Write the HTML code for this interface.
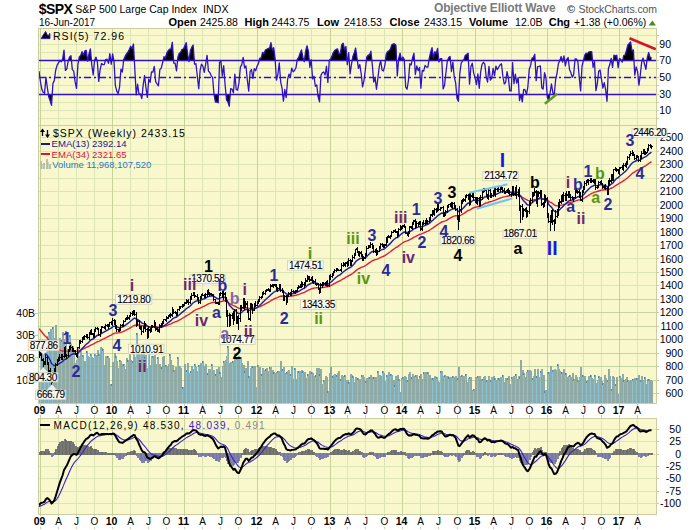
<!DOCTYPE html>
<html><head><meta charset="utf-8">
<style>
html,body{margin:0;padding:0;background:#fff;width:700px;height:530px;overflow:hidden;position:relative;font-family:"Liberation Sans",sans-serif}
.t{position:absolute;white-space:nowrap;line-height:1}
</style></head><body>
<svg width="700" height="530" viewBox="0 0 700 530" style="position:absolute;left:0;top:0" font-family="'Liberation Sans', sans-serif"><g shape-rendering="crispEdges"><rect x="38" y="28" width="619" height="98" fill="#f9f8cc"/><line x1="39" y1="35.5" x2="656" y2="35.5" stroke="#dbe5b5" stroke-width="1"/><line x1="39" y1="44.5" x2="656" y2="44.5" stroke="#dbe5b5" stroke-width="1"/><line x1="39" y1="52.5" x2="656" y2="52.5" stroke="#dbe5b5" stroke-width="1"/><line x1="39" y1="60.5" x2="656" y2="60.5" stroke="#dbe5b5" stroke-width="1"/><line x1="39" y1="68.5" x2="656" y2="68.5" stroke="#dbe5b5" stroke-width="1"/><line x1="39" y1="77.5" x2="656" y2="77.5" stroke="#dbe5b5" stroke-width="1"/><line x1="39" y1="85.5" x2="656" y2="85.5" stroke="#dbe5b5" stroke-width="1"/><line x1="39" y1="94.5" x2="656" y2="94.5" stroke="#dbe5b5" stroke-width="1"/><line x1="39" y1="102.5" x2="656" y2="102.5" stroke="#dbe5b5" stroke-width="1"/><line x1="39" y1="110.5" x2="656" y2="110.5" stroke="#dbe5b5" stroke-width="1"/><line x1="39" y1="118.5" x2="656" y2="118.5" stroke="#dbe5b5" stroke-width="1"/><line x1="40.5" y1="29" x2="40.5" y2="125" stroke="#c8d39a" stroke-width="1"/><line x1="58.5" y1="29" x2="58.5" y2="125" stroke="#dbe5b5" stroke-width="1"/><line x1="76.5" y1="29" x2="76.5" y2="125" stroke="#dbe5b5" stroke-width="1"/><line x1="94.5" y1="29" x2="94.5" y2="125" stroke="#dbe5b5" stroke-width="1"/><line x1="112.5" y1="29" x2="112.5" y2="125" stroke="#c8d39a" stroke-width="1"/><line x1="130.5" y1="29" x2="130.5" y2="125" stroke="#dbe5b5" stroke-width="1"/><line x1="148.5" y1="29" x2="148.5" y2="125" stroke="#dbe5b5" stroke-width="1"/><line x1="166.5" y1="29" x2="166.5" y2="125" stroke="#dbe5b5" stroke-width="1"/><line x1="184.5" y1="29" x2="184.5" y2="125" stroke="#c8d39a" stroke-width="1"/><line x1="202.5" y1="29" x2="202.5" y2="125" stroke="#dbe5b5" stroke-width="1"/><line x1="220.5" y1="29" x2="220.5" y2="125" stroke="#dbe5b5" stroke-width="1"/><line x1="238.5" y1="29" x2="238.5" y2="125" stroke="#dbe5b5" stroke-width="1"/><line x1="257.5" y1="29" x2="257.5" y2="125" stroke="#c8d39a" stroke-width="1"/><line x1="275.5" y1="29" x2="275.5" y2="125" stroke="#dbe5b5" stroke-width="1"/><line x1="293.5" y1="29" x2="293.5" y2="125" stroke="#dbe5b5" stroke-width="1"/><line x1="311.5" y1="29" x2="311.5" y2="125" stroke="#dbe5b5" stroke-width="1"/><line x1="330.5" y1="29" x2="330.5" y2="125" stroke="#c8d39a" stroke-width="1"/><line x1="347.5" y1="29" x2="347.5" y2="125" stroke="#dbe5b5" stroke-width="1"/><line x1="365.5" y1="29" x2="365.5" y2="125" stroke="#dbe5b5" stroke-width="1"/><line x1="384.5" y1="29" x2="384.5" y2="125" stroke="#dbe5b5" stroke-width="1"/><line x1="402.5" y1="29" x2="402.5" y2="125" stroke="#c8d39a" stroke-width="1"/><line x1="420.5" y1="29" x2="420.5" y2="125" stroke="#dbe5b5" stroke-width="1"/><line x1="438.5" y1="29" x2="438.5" y2="125" stroke="#dbe5b5" stroke-width="1"/><line x1="457.5" y1="29" x2="457.5" y2="125" stroke="#dbe5b5" stroke-width="1"/><line x1="475.5" y1="29" x2="475.5" y2="125" stroke="#c8d39a" stroke-width="1"/><line x1="493.5" y1="29" x2="493.5" y2="125" stroke="#dbe5b5" stroke-width="1"/><line x1="511.5" y1="29" x2="511.5" y2="125" stroke="#dbe5b5" stroke-width="1"/><line x1="529.5" y1="29" x2="529.5" y2="125" stroke="#dbe5b5" stroke-width="1"/><line x1="547.5" y1="29" x2="547.5" y2="125" stroke="#c8d39a" stroke-width="1"/><line x1="565.5" y1="29" x2="565.5" y2="125" stroke="#dbe5b5" stroke-width="1"/><line x1="583.5" y1="29" x2="583.5" y2="125" stroke="#dbe5b5" stroke-width="1"/><line x1="601.5" y1="29" x2="601.5" y2="125" stroke="#dbe5b5" stroke-width="1"/><line x1="619.5" y1="29" x2="619.5" y2="125" stroke="#c8d39a" stroke-width="1"/><line x1="637.5" y1="29" x2="637.5" y2="125" stroke="#dbe5b5" stroke-width="1"/><rect x="38" y="125" width="619" height="279" fill="#f9f8cc"/><line x1="39" y1="393.5" x2="656" y2="393.5" stroke="#dbe5b5" stroke-width="1"/><line x1="39" y1="380.5" x2="656" y2="380.5" stroke="#dbe5b5" stroke-width="1"/><line x1="39" y1="366.5" x2="656" y2="366.5" stroke="#dbe5b5" stroke-width="1"/><line x1="39" y1="353.5" x2="656" y2="353.5" stroke="#dbe5b5" stroke-width="1"/><line x1="39" y1="339.5" x2="656" y2="339.5" stroke="#dbe5b5" stroke-width="1"/><line x1="39" y1="326.5" x2="656" y2="326.5" stroke="#dbe5b5" stroke-width="1"/><line x1="39" y1="312.5" x2="656" y2="312.5" stroke="#dbe5b5" stroke-width="1"/><line x1="39" y1="299.5" x2="656" y2="299.5" stroke="#dbe5b5" stroke-width="1"/><line x1="39" y1="285.5" x2="656" y2="285.5" stroke="#dbe5b5" stroke-width="1"/><line x1="39" y1="272.5" x2="656" y2="272.5" stroke="#dbe5b5" stroke-width="1"/><line x1="39" y1="258.5" x2="656" y2="258.5" stroke="#dbe5b5" stroke-width="1"/><line x1="39" y1="245.5" x2="656" y2="245.5" stroke="#dbe5b5" stroke-width="1"/><line x1="39" y1="231.5" x2="656" y2="231.5" stroke="#dbe5b5" stroke-width="1"/><line x1="39" y1="218.5" x2="656" y2="218.5" stroke="#dbe5b5" stroke-width="1"/><line x1="39" y1="205.5" x2="656" y2="205.5" stroke="#dbe5b5" stroke-width="1"/><line x1="39" y1="191.5" x2="656" y2="191.5" stroke="#dbe5b5" stroke-width="1"/><line x1="39" y1="178.5" x2="656" y2="178.5" stroke="#dbe5b5" stroke-width="1"/><line x1="39" y1="164.5" x2="656" y2="164.5" stroke="#dbe5b5" stroke-width="1"/><line x1="39" y1="151.5" x2="656" y2="151.5" stroke="#dbe5b5" stroke-width="1"/><line x1="39" y1="137.5" x2="656" y2="137.5" stroke="#dbe5b5" stroke-width="1"/><line x1="40.5" y1="126" x2="40.5" y2="403" stroke="#c8d39a" stroke-width="1"/><line x1="58.5" y1="126" x2="58.5" y2="403" stroke="#dbe5b5" stroke-width="1"/><line x1="76.5" y1="126" x2="76.5" y2="403" stroke="#dbe5b5" stroke-width="1"/><line x1="94.5" y1="126" x2="94.5" y2="403" stroke="#dbe5b5" stroke-width="1"/><line x1="112.5" y1="126" x2="112.5" y2="403" stroke="#c8d39a" stroke-width="1"/><line x1="130.5" y1="126" x2="130.5" y2="403" stroke="#dbe5b5" stroke-width="1"/><line x1="148.5" y1="126" x2="148.5" y2="403" stroke="#dbe5b5" stroke-width="1"/><line x1="166.5" y1="126" x2="166.5" y2="403" stroke="#dbe5b5" stroke-width="1"/><line x1="184.5" y1="126" x2="184.5" y2="403" stroke="#c8d39a" stroke-width="1"/><line x1="202.5" y1="126" x2="202.5" y2="403" stroke="#dbe5b5" stroke-width="1"/><line x1="220.5" y1="126" x2="220.5" y2="403" stroke="#dbe5b5" stroke-width="1"/><line x1="238.5" y1="126" x2="238.5" y2="403" stroke="#dbe5b5" stroke-width="1"/><line x1="257.5" y1="126" x2="257.5" y2="403" stroke="#c8d39a" stroke-width="1"/><line x1="275.5" y1="126" x2="275.5" y2="403" stroke="#dbe5b5" stroke-width="1"/><line x1="293.5" y1="126" x2="293.5" y2="403" stroke="#dbe5b5" stroke-width="1"/><line x1="311.5" y1="126" x2="311.5" y2="403" stroke="#dbe5b5" stroke-width="1"/><line x1="330.5" y1="126" x2="330.5" y2="403" stroke="#c8d39a" stroke-width="1"/><line x1="347.5" y1="126" x2="347.5" y2="403" stroke="#dbe5b5" stroke-width="1"/><line x1="365.5" y1="126" x2="365.5" y2="403" stroke="#dbe5b5" stroke-width="1"/><line x1="384.5" y1="126" x2="384.5" y2="403" stroke="#dbe5b5" stroke-width="1"/><line x1="402.5" y1="126" x2="402.5" y2="403" stroke="#c8d39a" stroke-width="1"/><line x1="420.5" y1="126" x2="420.5" y2="403" stroke="#dbe5b5" stroke-width="1"/><line x1="438.5" y1="126" x2="438.5" y2="403" stroke="#dbe5b5" stroke-width="1"/><line x1="457.5" y1="126" x2="457.5" y2="403" stroke="#dbe5b5" stroke-width="1"/><line x1="475.5" y1="126" x2="475.5" y2="403" stroke="#c8d39a" stroke-width="1"/><line x1="493.5" y1="126" x2="493.5" y2="403" stroke="#dbe5b5" stroke-width="1"/><line x1="511.5" y1="126" x2="511.5" y2="403" stroke="#dbe5b5" stroke-width="1"/><line x1="529.5" y1="126" x2="529.5" y2="403" stroke="#dbe5b5" stroke-width="1"/><line x1="547.5" y1="126" x2="547.5" y2="403" stroke="#c8d39a" stroke-width="1"/><line x1="565.5" y1="126" x2="565.5" y2="403" stroke="#dbe5b5" stroke-width="1"/><line x1="583.5" y1="126" x2="583.5" y2="403" stroke="#dbe5b5" stroke-width="1"/><line x1="601.5" y1="126" x2="601.5" y2="403" stroke="#dbe5b5" stroke-width="1"/><line x1="619.5" y1="126" x2="619.5" y2="403" stroke="#c8d39a" stroke-width="1"/><line x1="637.5" y1="126" x2="637.5" y2="403" stroke="#dbe5b5" stroke-width="1"/><rect x="38" y="418" width="619" height="97" fill="#f9f8cc"/><line x1="39" y1="429.5" x2="656" y2="429.5" stroke="#dbe5b5" stroke-width="1"/><line x1="39" y1="441.5" x2="656" y2="441.5" stroke="#dbe5b5" stroke-width="1"/><line x1="39" y1="454.5" x2="656" y2="454.5" stroke="#dbe5b5" stroke-width="1"/><line x1="39" y1="466.5" x2="656" y2="466.5" stroke="#dbe5b5" stroke-width="1"/><line x1="39" y1="478.5" x2="656" y2="478.5" stroke="#dbe5b5" stroke-width="1"/><line x1="39" y1="491.5" x2="656" y2="491.5" stroke="#dbe5b5" stroke-width="1"/><line x1="39" y1="503.5" x2="656" y2="503.5" stroke="#dbe5b5" stroke-width="1"/><line x1="40.5" y1="419" x2="40.5" y2="514" stroke="#c8d39a" stroke-width="1"/><line x1="58.5" y1="419" x2="58.5" y2="514" stroke="#dbe5b5" stroke-width="1"/><line x1="76.5" y1="419" x2="76.5" y2="514" stroke="#dbe5b5" stroke-width="1"/><line x1="94.5" y1="419" x2="94.5" y2="514" stroke="#dbe5b5" stroke-width="1"/><line x1="112.5" y1="419" x2="112.5" y2="514" stroke="#c8d39a" stroke-width="1"/><line x1="130.5" y1="419" x2="130.5" y2="514" stroke="#dbe5b5" stroke-width="1"/><line x1="148.5" y1="419" x2="148.5" y2="514" stroke="#dbe5b5" stroke-width="1"/><line x1="166.5" y1="419" x2="166.5" y2="514" stroke="#dbe5b5" stroke-width="1"/><line x1="184.5" y1="419" x2="184.5" y2="514" stroke="#c8d39a" stroke-width="1"/><line x1="202.5" y1="419" x2="202.5" y2="514" stroke="#dbe5b5" stroke-width="1"/><line x1="220.5" y1="419" x2="220.5" y2="514" stroke="#dbe5b5" stroke-width="1"/><line x1="238.5" y1="419" x2="238.5" y2="514" stroke="#dbe5b5" stroke-width="1"/><line x1="257.5" y1="419" x2="257.5" y2="514" stroke="#c8d39a" stroke-width="1"/><line x1="275.5" y1="419" x2="275.5" y2="514" stroke="#dbe5b5" stroke-width="1"/><line x1="293.5" y1="419" x2="293.5" y2="514" stroke="#dbe5b5" stroke-width="1"/><line x1="311.5" y1="419" x2="311.5" y2="514" stroke="#dbe5b5" stroke-width="1"/><line x1="330.5" y1="419" x2="330.5" y2="514" stroke="#c8d39a" stroke-width="1"/><line x1="347.5" y1="419" x2="347.5" y2="514" stroke="#dbe5b5" stroke-width="1"/><line x1="365.5" y1="419" x2="365.5" y2="514" stroke="#dbe5b5" stroke-width="1"/><line x1="384.5" y1="419" x2="384.5" y2="514" stroke="#dbe5b5" stroke-width="1"/><line x1="402.5" y1="419" x2="402.5" y2="514" stroke="#c8d39a" stroke-width="1"/><line x1="420.5" y1="419" x2="420.5" y2="514" stroke="#dbe5b5" stroke-width="1"/><line x1="438.5" y1="419" x2="438.5" y2="514" stroke="#dbe5b5" stroke-width="1"/><line x1="457.5" y1="419" x2="457.5" y2="514" stroke="#dbe5b5" stroke-width="1"/><line x1="475.5" y1="419" x2="475.5" y2="514" stroke="#c8d39a" stroke-width="1"/><line x1="493.5" y1="419" x2="493.5" y2="514" stroke="#dbe5b5" stroke-width="1"/><line x1="511.5" y1="419" x2="511.5" y2="514" stroke="#dbe5b5" stroke-width="1"/><line x1="529.5" y1="419" x2="529.5" y2="514" stroke="#dbe5b5" stroke-width="1"/><line x1="547.5" y1="419" x2="547.5" y2="514" stroke="#c8d39a" stroke-width="1"/><line x1="565.5" y1="419" x2="565.5" y2="514" stroke="#dbe5b5" stroke-width="1"/><line x1="583.5" y1="419" x2="583.5" y2="514" stroke="#dbe5b5" stroke-width="1"/><line x1="601.5" y1="419" x2="601.5" y2="514" stroke="#dbe5b5" stroke-width="1"/><line x1="619.5" y1="419" x2="619.5" y2="514" stroke="#c8d39a" stroke-width="1"/><line x1="637.5" y1="419" x2="637.5" y2="514" stroke="#dbe5b5" stroke-width="1"/></g><polygon points="62.11,60.30 62.62,59.09 64.01,50.06 64.69,60.30" fill="#000"/><polygon points="68.53,60.30 69.56,56.96 70.95,55.77 71.39,60.30" fill="#000"/><polygon points="78.71,60.30 79.28,56.86 80.67,55.49 82.06,51.72 83.45,54.91 84.84,50.93 86.23,50.38 87.48,60.30" fill="#000"/><polygon points="87.81,60.30 89.01,53.76 90.39,48.88 91.36,60.30" fill="#000"/><polygon points="94.75,60.30 95.95,57.12 96.93,60.30" fill="#000"/><polygon points="105.52,60.30 105.67,59.53 107.06,59.16 107.37,60.30" fill="#000"/><polygon points="108.91,60.30 109.84,53.61 110.68,60.30" fill="#000"/><polygon points="111.78,60.30 112.61,53.79 113.76,60.30" fill="#000"/><polygon points="123.67,60.30 123.72,59.60 125.11,56.43 126.50,53.89 127.89,52.12 129.28,49.47 130.67,46.29 132.06,48.70 133.45,44.04 134.33,60.30" fill="#000"/><polygon points="163.22,60.30 164.00,56.62 165.39,58.08 166.78,53.04 168.16,50.78 169.55,49.22 170.94,49.22 172.33,42.41 173.52,60.30" fill="#000"/><polygon points="177.59,60.30 177.89,57.24 179.27,53.28 180.66,52.32 182.05,49.28 183.44,49.04 184.83,45.88 186.22,42.67 187.61,54.08 188.72,60.30" fill="#000"/><polygon points="189.18,60.30 190.38,50.42 191.77,47.15 193.16,45.09 194.25,60.30" fill="#000"/><polygon points="206.29,60.30 207.05,55.30 207.47,60.30" fill="#000"/><polygon points="242.65,60.30 243.16,57.46 243.51,60.30" fill="#000"/><polygon points="259.34,60.30 259.82,58.19 261.21,57.98 262.60,52.29 263.99,53.68 265.38,49.97 266.76,49.23 268.15,48.40 269.54,48.40 270.93,42.57 272.32,50.25 273.71,47.74 275.10,58.95 275.17,60.30" fill="#000"/><polygon points="297.16,60.30 297.32,59.10 298.71,57.48 300.09,53.20 301.48,49.91 302.87,57.37 303.73,60.30" fill="#000"/><polygon points="304.48,60.30 305.65,51.01 307.04,45.79 308.43,51.47 309.18,60.30" fill="#000"/><polygon points="311.12,60.30 311.20,59.65 311.24,60.30" fill="#000"/><polygon points="329.36,60.30 330.65,58.87 332.04,55.73 333.42,52.28 334.81,50.40 336.20,49.42 337.59,48.97 338.98,53.97 340.37,53.16 341.76,44.67 343.15,43.22 344.53,49.71 345.92,46.51 346.96,60.30" fill="#000"/><polygon points="347.84,60.30 348.70,52.58 349.19,60.30" fill="#000"/><polygon points="352.22,60.30 352.87,56.40 354.26,52.69 355.64,48.05 357.03,58.27 357.28,60.30" fill="#000"/><polygon points="366.41,60.30 366.75,57.04 368.14,55.02 369.53,55.02 370.92,51.22 371.83,60.30" fill="#000"/><polygon points="385.48,60.30 386.20,54.28 387.58,51.50 388.97,50.92 390.36,49.09 391.75,44.85 393.14,43.97 394.53,43.83 395.92,45.27 396.59,60.30" fill="#000"/><polygon points="398.56,60.30 398.69,58.42 400.08,53.22 401.44,60.30" fill="#000"/><polygon points="401.55,60.30 402.86,57.01 404.25,59.60 404.27,60.30" fill="#000"/><polygon points="412.13,60.30 412.58,57.77 413.97,53.25 414.42,60.30" fill="#000"/><polygon points="428.98,60.30 429.25,58.44 430.64,52.16 432.02,47.61 433.41,57.73 434.80,51.77 436.19,53.42 437.58,48.47 438.78,60.30" fill="#000"/><polygon points="439.75,60.30 440.36,58.63 441.75,58.63 441.81,60.30" fill="#000"/><polygon points="447.77,60.30 448.69,57.55 450.08,56.51 450.41,60.30" fill="#000"/><polygon points="463.39,60.30 463.97,59.58 465.35,55.27 466.74,54.58 468.13,53.23 468.44,60.30" fill="#000"/><polygon points="531.65,60.30 532.01,58.19 533.40,57.55 534.79,54.25 535.10,60.30" fill="#000"/><polygon points="559.92,60.30 561.18,56.54 562.08,60.30" fill="#000"/><polygon points="563.00,60.30 563.95,55.93 564.53,60.30" fill="#000"/><polygon points="566.60,60.30 566.73,59.49 568.12,57.53 568.42,60.30" fill="#000"/><polygon points="574.97,60.30 575.06,59.00 576.45,59.00 577.12,60.30" fill="#000"/><polygon points="583.50,60.30 584.79,55.04 586.17,53.08 587.56,53.69 588.95,51.92 590.34,51.70 591.73,51.70 592.47,60.30" fill="#000"/><polygon points="610.79,60.30 611.17,58.37 611.44,60.30" fill="#000"/><polygon points="613.39,60.30 613.95,55.17 615.34,56.04 616.73,55.18 617.27,60.30" fill="#000"/><polygon points="619.27,60.30 619.50,58.52 620.89,59.61 621.15,60.30" fill="#000"/><polygon points="622.72,60.30 623.67,55.51 625.06,55.00 626.45,50.45 627.84,45.15 629.23,43.50 630.61,42.06 632.00,51.05 633.39,49.95 633.95,60.30" fill="#000"/><polygon points="642.38,60.30 643.11,58.03 643.59,60.30" fill="#000"/><polygon points="646.98,60.30 647.28,57.57 648.67,52.51 650.06,57.71 651.45,57.39 651.45,60.30" fill="#000"/><polygon points="48.22,94.30 48.73,96.82 50.12,100.84 51.51,105.35 52.27,94.30" fill="#000"/><polygon points="118.05,94.30 118.17,93.63 118.22,94.30" fill="#000"/><polygon points="136.15,94.30 136.22,94.74 136.40,94.30" fill="#000"/><polygon points="138.87,94.30 139.00,94.39 140.39,93.93 141.78,98.66 142.32,94.30" fill="#000"/><polygon points="146.77,94.30 147.33,97.40 147.64,94.30" fill="#000"/><polygon points="213.93,94.30 213.99,94.15 215.38,102.00 216.77,102.00 218.16,102.81 218.48,94.30" fill="#000"/><polygon points="225.89,94.30 226.49,99.80 227.88,101.78 229.27,106.30 230.29,94.30" fill="#000"/><polygon points="282.61,94.30 283.43,101.17 284.35,94.30" fill="#000"/><polygon points="285.49,94.30 286.21,97.52 286.52,94.30" fill="#000"/><polygon points="317.72,94.30 318.15,97.16 319.54,101.85 319.98,94.30" fill="#000"/><polygon points="456.57,94.30 457.02,98.48 458.41,101.34 458.81,94.30" fill="#000"/><polygon points="519.09,94.30 519.52,100.60 520.90,94.36 522.29,101.82 523.23,94.30" fill="#000"/><polygon points="526.12,94.30 526.46,94.52 526.66,94.30" fill="#000"/><polygon points="547.03,94.30 547.29,97.16 548.68,100.80 549.97,94.30" fill="#000"/><polygon points="553.22,94.30 554.23,94.81 554.36,94.30" fill="#000"/><polygon points="606.06,94.30 607.01,101.27 607.34,94.30" fill="#000"/><line x1="39" y1="60.5" x2="656" y2="60.5" stroke="#2f12c8" stroke-width="1.5"/><line x1="39" y1="94.5" x2="656" y2="94.5" stroke="#2f12c8" stroke-width="1.5"/><line x1="39" y1="77.5" x2="656" y2="77.5" stroke="#2f12c8" stroke-width="1.5" stroke-dasharray="7,3,2,3"/><polyline fill="none" stroke="#2f12c8" stroke-width="1.3" stroke-linejoin="round" points="39.01,71.12 40.40,81.38 41.79,89.13 43.18,92.21 44.57,93.31 45.95,77.39 47.34,87.66 48.73,96.82 50.12,100.84 51.51,105.35 52.90,83.52 54.29,80.61 55.68,70.28 57.06,65.34 58.45,62.82 59.84,60.38 61.23,61.82 62.62,59.09 64.01,50.06 65.40,70.45 66.79,69.10 68.17,61.15 69.56,56.96 70.95,55.77 72.34,69.59 73.73,71.15 75.12,81.88 76.51,88.45 77.90,64.63 79.28,56.86 80.67,55.49 82.06,51.72 83.45,54.91 84.84,50.93 86.23,50.38 87.62,61.12 89.01,53.76 90.39,48.88 91.78,64.99 93.17,74.95 94.56,60.57 95.95,57.12 97.34,61.35 98.73,81.41 100.12,69.93 101.50,63.52 102.89,64.55 104.28,64.55 105.67,59.53 107.06,59.16 108.45,63.30 109.84,53.61 111.23,64.26 112.61,53.79 114.00,61.46 115.39,85.71 116.78,91.19 118.17,93.63 119.56,87.07 120.95,69.10 122.34,72.04 123.72,59.60 125.11,56.43 126.50,53.89 127.89,52.12 129.28,49.47 130.67,46.29 132.06,48.70 133.45,44.04 134.83,69.29 136.22,94.74 137.61,84.26 139.00,94.39 140.39,93.93 141.78,98.66 143.17,85.13 144.56,75.52 145.94,87.63 147.33,97.40 148.72,79.24 150.11,82.29 151.50,71.83 152.89,72.16 154.28,66.48 155.67,81.63 157.05,83.97 158.44,85.90 159.83,69.69 161.22,68.05 162.61,62.79 164.00,56.62 165.39,58.08 166.78,53.04 168.16,50.78 169.55,49.22 170.94,49.22 172.33,42.41 173.72,63.06 175.11,63.06 176.50,70.83 177.89,57.24 179.27,53.28 180.66,52.32 182.05,49.28 183.44,49.04 184.83,45.88 186.22,42.67 187.61,54.08 189.00,61.57 190.38,50.42 191.77,47.15 193.16,45.09 194.55,64.19 195.94,63.78 197.33,76.28 198.72,88.75 200.11,70.44 201.49,64.08 202.88,66.04 204.27,72.29 205.66,64.12 207.05,55.30 208.44,71.23 209.83,72.43 211.22,75.84 212.60,77.36 213.99,94.15 215.38,102.00 216.77,102.00 218.16,102.81 219.55,62.28 220.94,61.20 222.32,76.00 223.71,65.74 225.10,84.93 226.49,99.80 227.88,101.78 229.27,106.30 230.66,88.73 232.05,89.23 233.43,92.82 234.82,74.17 236.21,89.32 237.60,90.08 238.99,82.65 240.38,67.10 241.77,64.65 243.16,57.46 244.54,67.91 245.93,65.85 247.32,80.01 248.71,91.15 250.10,71.48 251.49,69.52 252.88,78.33 254.27,68.67 255.65,70.70 257.04,66.17 258.43,63.68 259.82,58.19 261.21,57.98 262.60,52.29 263.99,53.68 265.38,49.97 266.76,49.23 268.15,48.40 269.54,48.40 270.93,42.57 272.32,50.25 273.71,47.74 275.10,58.95 276.49,80.18 277.87,74.53 279.26,62.90 280.65,81.94 282.04,88.06 283.43,101.17 284.82,89.52 286.21,97.52 287.60,79.46 288.98,74.06 290.37,76.87 291.76,68.07 293.15,71.71 294.54,70.51 295.93,67.82 297.32,59.10 298.71,57.48 300.09,53.20 301.48,49.91 302.87,57.37 304.26,61.78 305.65,51.01 307.04,45.79 308.43,51.47 309.82,67.28 311.20,59.65 312.59,78.95 313.98,76.38 315.37,86.26 316.76,84.87 318.15,97.16 319.54,101.85 320.93,75.39 322.31,72.78 323.70,71.93 325.09,75.00 326.48,66.25 327.87,82.47 329.26,60.18 330.65,58.87 332.04,55.73 333.42,52.28 334.81,50.40 336.20,49.42 337.59,48.97 338.98,53.97 340.37,53.16 341.76,44.67 343.15,43.22 344.53,49.71 345.92,46.51 347.31,64.63 348.70,52.58 350.09,73.96 351.48,64.27 352.87,56.40 354.26,52.69 355.64,48.05 357.03,58.27 358.42,68.42 359.81,64.50 361.20,73.79 362.59,86.95 363.98,80.37 365.37,69.48 366.75,57.04 368.14,55.02 369.53,55.02 370.92,51.22 372.31,64.72 373.70,82.04 375.09,77.74 376.48,89.24 377.86,78.38 379.25,66.55 380.64,60.72 382.03,69.92 383.42,70.97 384.81,65.60 386.20,54.28 387.58,51.50 388.97,50.92 390.36,49.09 391.75,44.85 393.14,43.97 394.53,43.83 395.92,45.27 397.31,75.96 398.69,58.42 400.08,53.22 401.47,60.27 402.86,57.01 404.25,59.60 405.64,86.83 407.03,89.24 408.42,80.56 409.80,63.75 411.19,64.95 412.58,57.77 413.97,53.25 415.36,74.52 416.75,66.00 418.14,70.64 419.53,67.46 420.91,88.19 422.30,70.29 423.69,71.10 425.08,65.35 426.47,67.06 427.86,67.06 429.25,58.44 430.64,52.16 432.02,47.61 433.41,57.73 434.80,51.77 436.19,53.42 437.58,48.47 438.97,61.97 440.36,58.63 441.75,58.63 443.13,88.95 444.52,85.34 445.91,72.74 447.30,61.40 448.69,57.55 450.08,56.51 451.47,71.49 452.86,62.18 454.24,77.01 455.63,82.87 457.02,98.48 458.41,101.34 459.80,73.40 461.19,63.06 462.58,60.81 463.97,59.58 465.35,55.27 466.74,54.58 468.13,53.23 469.52,84.15 470.91,66.53 472.30,63.24 473.69,73.40 475.08,77.63 476.46,84.71 477.85,73.92 479.24,88.26 480.63,72.23 482.02,64.48 483.41,62.28 484.80,64.23 486.19,76.56 487.57,82.04 488.96,66.39 490.35,80.05 491.74,78.24 493.13,68.46 494.52,75.72 495.91,66.07 497.30,69.69 498.68,67.22 500.07,64.90 501.46,63.79 502.85,76.24 504.24,83.98 505.63,82.53 507.02,71.67 508.41,78.15 509.79,90.87 511.18,90.87 512.57,62.59 513.96,83.70 515.35,74.10 516.74,83.15 518.13,77.34 519.52,100.60 520.90,94.36 522.29,101.82 523.68,89.42 525.07,89.92 526.46,94.52 527.85,86.79 529.24,69.28 530.63,65.41 532.01,58.19 533.40,57.55 534.79,54.25 536.18,80.63 537.57,66.58 538.96,66.40 540.35,65.95 541.74,87.83 543.12,89.17 544.51,72.74 545.90,77.46 547.29,97.16 548.68,100.80 550.07,92.84 551.46,83.82 552.85,92.88 554.23,94.81 555.62,79.86 557.01,73.12 558.40,63.77 559.79,60.47 561.18,56.54 562.57,62.00 563.95,55.93 565.34,65.93 566.73,59.49 568.12,57.53 569.51,69.54 570.90,72.87 572.29,77.24 573.68,74.41 575.06,59.00 576.45,59.00 577.84,61.28 579.23,77.60 580.62,90.94 582.01,66.24 583.40,60.49 584.79,55.04 586.17,53.08 587.56,53.69 588.95,51.92 590.34,51.70 591.73,51.70 593.12,67.34 594.51,61.63 595.90,90.64 597.28,84.03 598.67,71.30 600.06,69.99 601.45,78.92 602.84,88.20 604.23,82.61 605.62,89.69 607.01,101.27 608.39,68.67 609.78,64.54 611.17,58.37 612.56,67.41 613.95,55.17 615.34,56.04 616.73,55.18 618.12,67.70 619.50,58.52 620.89,59.61 622.28,62.17 623.67,55.51 625.06,55.00 626.45,50.45 627.84,45.15 629.23,43.50 630.61,42.06 632.00,51.05 633.39,49.95 634.78,75.14 636.17,66.95 637.56,71.38 638.95,85.17 640.34,74.48 641.72,61.94 643.11,58.03 644.50,63.98 645.89,69.35 647.28,57.57 648.67,52.51 650.06,57.71 651.45,57.39"/><line x1="629.5" y1="38.3" x2="655.8" y2="49.2" stroke="#d2142e" stroke-width="2.6"/><line x1="544.8" y1="103.8" x2="557.3" y2="93.8" stroke="#5a9a20" stroke-width="2.4"/><path d="M39,377h2V403h-2ZM40,346h2V403h-2ZM41,345h2V403h-2ZM43,347h2V403h-2ZM44,341h2V403h-2ZM45,341h2V403h-2ZM47,336h2V403h-2ZM48,332h2V403h-2ZM50,329h2V403h-2ZM51,345h2V403h-2ZM52,327h2V403h-2ZM54,338h2V403h-2ZM55,325h2V403h-2ZM57,344h2V403h-2ZM58,340h2V403h-2ZM59,338h2V403h-2ZM61,340h2V403h-2ZM62,332h2V403h-2ZM64,339h2V403h-2ZM65,331h2V403h-2ZM66,349h2V403h-2ZM68,350h2V403h-2ZM69,335h2V403h-2ZM70,344h2V403h-2ZM72,346h2V403h-2ZM73,352h2V403h-2ZM75,363h2V403h-2ZM76,360h2V403h-2ZM77,348h2V403h-2ZM79,356h2V403h-2ZM80,351h2V403h-2ZM82,355h2V403h-2ZM83,365h2V403h-2ZM84,361h2V403h-2ZM86,351h2V403h-2ZM87,356h2V403h-2ZM89,357h2V403h-2ZM90,354h2V403h-2ZM91,357h2V403h-2ZM93,358h2V403h-2ZM94,354h2V403h-2ZM95,355h2V403h-2ZM97,350h2V403h-2ZM98,354h2V403h-2ZM100,347h2V403h-2ZM101,348h2V403h-2ZM102,349h2V403h-2ZM104,365h2V403h-2ZM105,356h2V403h-2ZM107,356h2V403h-2ZM108,358h2V403h-2ZM109,384h2V403h-2ZM111,384h2V403h-2ZM112,362h2V403h-2ZM114,353h2V403h-2ZM115,356h2V403h-2ZM116,361h2V403h-2ZM118,368h2V403h-2ZM119,360h2V403h-2ZM120,361h2V403h-2ZM122,364h2V403h-2ZM123,364h2V403h-2ZM125,369h2V403h-2ZM126,358h2V403h-2ZM127,360h2V403h-2ZM129,349h2V403h-2ZM130,360h2V403h-2ZM132,361h2V403h-2ZM133,353h2V403h-2ZM134,357h2V403h-2ZM136,333h2V403h-2ZM137,352h2V403h-2ZM139,347h2V403h-2ZM140,346h2V403h-2ZM141,348h2V403h-2ZM143,346h2V403h-2ZM144,357h2V403h-2ZM145,355h2V403h-2ZM147,368h2V403h-2ZM148,352h2V403h-2ZM150,365h2V403h-2ZM151,356h2V403h-2ZM152,356h2V403h-2ZM154,355h2V403h-2ZM155,364h2V403h-2ZM157,357h2V403h-2ZM158,364h2V403h-2ZM159,364h2V403h-2ZM161,367h2V403h-2ZM162,357h2V403h-2ZM163,356h2V403h-2ZM165,365h2V403h-2ZM166,366h2V403h-2ZM168,364h2V403h-2ZM169,354h2V403h-2ZM170,360h2V403h-2ZM172,365h2V403h-2ZM173,370h2V403h-2ZM175,367h2V403h-2ZM176,371h2V403h-2ZM177,357h2V403h-2ZM179,366h2V403h-2ZM180,368h2V403h-2ZM182,387h2V403h-2ZM183,390h2V403h-2ZM184,364h2V403h-2ZM186,370h2V403h-2ZM187,363h2V403h-2ZM188,373h2V403h-2ZM190,371h2V403h-2ZM191,366h2V403h-2ZM193,369h2V403h-2ZM194,364h2V403h-2ZM195,367h2V403h-2ZM197,371h2V403h-2ZM198,365h2V403h-2ZM200,363h2V403h-2ZM201,373h2V403h-2ZM202,361h2V403h-2ZM204,366h2V403h-2ZM205,364h2V403h-2ZM207,373h2V403h-2ZM208,369h2V403h-2ZM209,369h2V403h-2ZM211,364h2V403h-2ZM212,373h2V403h-2ZM213,370h2V403h-2ZM215,374h2V403h-2ZM216,369h2V403h-2ZM218,367h2V403h-2ZM219,372h2V403h-2ZM220,377h2V403h-2ZM222,366h2V403h-2ZM223,361h2V403h-2ZM225,360h2V403h-2ZM226,356h2V403h-2ZM227,346h2V403h-2ZM229,363h2V403h-2ZM230,362h2V403h-2ZM232,361h2V403h-2ZM233,361h2V403h-2ZM234,353h2V403h-2ZM236,358h2V403h-2ZM237,366h2V403h-2ZM238,356h2V403h-2ZM240,357h2V403h-2ZM241,363h2V403h-2ZM243,365h2V403h-2ZM244,371h2V403h-2ZM245,368h2V403h-2ZM247,361h2V403h-2ZM248,376h2V403h-2ZM250,368h2V403h-2ZM251,366h2V403h-2ZM252,366h2V403h-2ZM254,366h2V403h-2ZM255,387h2V403h-2ZM257,365h2V403h-2ZM258,373h2V403h-2ZM259,367h2V403h-2ZM261,374h2V403h-2ZM262,368h2V403h-2ZM263,370h2V403h-2ZM265,369h2V403h-2ZM266,368h2V403h-2ZM268,371h2V403h-2ZM269,367h2V403h-2ZM270,367h2V403h-2ZM272,370h2V403h-2ZM273,372h2V403h-2ZM275,373h2V403h-2ZM276,372h2V403h-2ZM277,371h2V403h-2ZM279,371h2V403h-2ZM280,361h2V403h-2ZM282,369h2V403h-2ZM283,367h2V403h-2ZM284,373h2V403h-2ZM286,372h2V403h-2ZM287,371h2V403h-2ZM288,370h2V403h-2ZM290,374h2V403h-2ZM291,366h2V403h-2ZM293,379h2V403h-2ZM294,368h2V403h-2ZM295,379h2V403h-2ZM297,371h2V403h-2ZM298,371h2V403h-2ZM300,371h2V403h-2ZM301,370h2V403h-2ZM302,371h2V403h-2ZM304,372h2V403h-2ZM305,378h2V403h-2ZM307,374h2V403h-2ZM308,380h2V403h-2ZM309,371h2V403h-2ZM311,372h2V403h-2ZM312,373h2V403h-2ZM313,376h2V403h-2ZM315,375h2V403h-2ZM316,368h2V403h-2ZM318,368h2V403h-2ZM319,374h2V403h-2ZM320,369h2V403h-2ZM322,384h2V403h-2ZM323,380h2V403h-2ZM325,376h2V403h-2ZM326,377h2V403h-2ZM327,391h2V403h-2ZM329,373h2V403h-2ZM330,367h2V403h-2ZM332,376h2V403h-2ZM333,375h2V403h-2ZM334,374h2V403h-2ZM336,375h2V403h-2ZM337,373h2V403h-2ZM338,371h2V403h-2ZM340,379h2V403h-2ZM341,375h2V403h-2ZM343,376h2V403h-2ZM344,375h2V403h-2ZM345,380h2V403h-2ZM347,380h2V403h-2ZM348,382h2V403h-2ZM350,374h2V403h-2ZM351,375h2V403h-2ZM352,376h2V403h-2ZM354,382h2V403h-2ZM355,377h2V403h-2ZM357,378h2V403h-2ZM358,380h2V403h-2ZM359,379h2V403h-2ZM361,375h2V403h-2ZM362,375h2V403h-2ZM363,377h2V403h-2ZM365,381h2V403h-2ZM366,378h2V403h-2ZM368,377h2V403h-2ZM369,377h2V403h-2ZM370,375h2V403h-2ZM372,377h2V403h-2ZM373,377h2V403h-2ZM375,377h2V403h-2ZM376,378h2V403h-2ZM377,371h2V403h-2ZM379,375h2V403h-2ZM380,376h2V403h-2ZM382,371h2V403h-2ZM383,373h2V403h-2ZM384,381h2V403h-2ZM386,375h2V403h-2ZM387,375h2V403h-2ZM388,372h2V403h-2ZM390,374h2V403h-2ZM391,375h2V403h-2ZM393,380h2V403h-2ZM394,385h2V403h-2ZM395,376h2V403h-2ZM397,375h2V403h-2ZM398,379h2V403h-2ZM400,392h2V403h-2ZM401,378h2V403h-2ZM402,377h2V403h-2ZM404,376h2V403h-2ZM405,377h2V403h-2ZM407,380h2V403h-2ZM408,374h2V403h-2ZM409,372h2V403h-2ZM411,377h2V403h-2ZM412,374h2V403h-2ZM413,376h2V403h-2ZM415,375h2V403h-2ZM416,375h2V403h-2ZM418,379h2V403h-2ZM419,376h2V403h-2ZM420,374h2V403h-2ZM422,379h2V403h-2ZM423,372h2V403h-2ZM425,372h2V403h-2ZM426,373h2V403h-2ZM427,372h2V403h-2ZM429,375h2V403h-2ZM430,378h2V403h-2ZM432,378h2V403h-2ZM433,379h2V403h-2ZM434,376h2V403h-2ZM436,377h2V403h-2ZM437,381h2V403h-2ZM438,382h2V403h-2ZM440,371h2V403h-2ZM441,371h2V403h-2ZM443,376h2V403h-2ZM444,375h2V403h-2ZM445,376h2V403h-2ZM447,376h2V403h-2ZM448,377h2V403h-2ZM450,377h2V403h-2ZM451,379h2V403h-2ZM452,376h2V403h-2ZM454,377h2V403h-2ZM455,376h2V403h-2ZM457,378h2V403h-2ZM458,367h2V403h-2ZM459,376h2V403h-2ZM461,375h2V403h-2ZM462,379h2V403h-2ZM463,376h2V403h-2ZM465,374h2V403h-2ZM466,382h2V403h-2ZM468,378h2V403h-2ZM469,377h2V403h-2ZM470,377h2V403h-2ZM472,390h2V403h-2ZM473,389h2V403h-2ZM475,377h2V403h-2ZM476,378h2V403h-2ZM477,376h2V403h-2ZM479,376h2V403h-2ZM480,379h2V403h-2ZM482,379h2V403h-2ZM483,377h2V403h-2ZM484,376h2V403h-2ZM486,380h2V403h-2ZM487,380h2V403h-2ZM488,376h2V403h-2ZM490,380h2V403h-2ZM491,377h2V403h-2ZM493,376h2V403h-2ZM494,378h2V403h-2ZM495,380h2V403h-2ZM497,378h2V403h-2ZM498,378h2V403h-2ZM500,377h2V403h-2ZM501,380h2V403h-2ZM502,375h2V403h-2ZM504,382h2V403h-2ZM505,378h2V403h-2ZM507,378h2V403h-2ZM508,376h2V403h-2ZM509,384h2V403h-2ZM511,377h2V403h-2ZM512,379h2V403h-2ZM513,376h2V403h-2ZM515,374h2V403h-2ZM516,379h2V403h-2ZM518,376h2V403h-2ZM519,377h2V403h-2ZM520,360h2V403h-2ZM522,370h2V403h-2ZM523,373h2V403h-2ZM525,377h2V403h-2ZM526,372h2V403h-2ZM527,370h2V403h-2ZM529,370h2V403h-2ZM530,371h2V403h-2ZM532,378h2V403h-2ZM533,376h2V403h-2ZM534,369h2V403h-2ZM536,376h2V403h-2ZM537,369h2V403h-2ZM538,377h2V403h-2ZM540,371h2V403h-2ZM541,369h2V403h-2ZM543,375h2V403h-2ZM544,391h2V403h-2ZM545,390h2V403h-2ZM547,372h2V403h-2ZM548,372h2V403h-2ZM550,366h2V403h-2ZM551,372h2V403h-2ZM552,370h2V403h-2ZM554,369h2V403h-2ZM555,370h2V403h-2ZM557,364h2V403h-2ZM558,369h2V403h-2ZM559,371h2V403h-2ZM561,372h2V403h-2ZM562,374h2V403h-2ZM563,369h2V403h-2ZM565,373h2V403h-2ZM566,377h2V403h-2ZM568,376h2V403h-2ZM569,375h2V403h-2ZM570,377h2V403h-2ZM572,373h2V403h-2ZM573,379h2V403h-2ZM575,375h2V403h-2ZM576,377h2V403h-2ZM577,380h2V403h-2ZM579,377h2V403h-2ZM580,367h2V403h-2ZM582,375h2V403h-2ZM583,383h2V403h-2ZM584,376h2V403h-2ZM586,381h2V403h-2ZM587,380h2V403h-2ZM588,376h2V403h-2ZM590,375h2V403h-2ZM591,378h2V403h-2ZM593,379h2V403h-2ZM594,375h2V403h-2ZM595,383h2V403h-2ZM597,380h2V403h-2ZM598,376h2V403h-2ZM600,377h2V403h-2ZM601,381h2V403h-2ZM602,383h2V403h-2ZM604,375h2V403h-2ZM605,378h2V403h-2ZM607,380h2V403h-2ZM608,369h2V403h-2ZM609,376h2V403h-2ZM611,389h2V403h-2ZM612,376h2V403h-2ZM613,377h2V403h-2ZM615,384h2V403h-2ZM616,377h2V403h-2ZM618,394h2V403h-2ZM619,376h2V403h-2ZM620,378h2V403h-2ZM622,374h2V403h-2ZM623,380h2V403h-2ZM625,379h2V403h-2ZM626,377h2V403h-2ZM627,380h2V403h-2ZM629,381h2V403h-2ZM630,380h2V403h-2ZM632,379h2V403h-2ZM633,382h2V403h-2ZM634,378h2V403h-2ZM636,378h2V403h-2ZM637,379h2V403h-2ZM638,375h2V403h-2ZM640,380h2V403h-2ZM641,376h2V403h-2ZM643,380h2V403h-2ZM644,377h2V403h-2ZM645,384h2V403h-2ZM647,379h2V403h-2ZM648,379h2V403h-2ZM650,380h2V403h-2ZM651,381h2V403h-2Z" fill="#7f9ea2" fill-opacity="0.88" shape-rendering="crispEdges"/><path d="M40,347h1V403h-1ZM44,342h1V403h-1ZM48,333h1V403h-1ZM52,328h1V403h-1ZM57,345h1V403h-1ZM61,341h1V403h-1ZM65,332h1V403h-1ZM69,336h1V403h-1ZM73,353h1V403h-1ZM77,349h1V403h-1ZM82,356h1V403h-1ZM86,352h1V403h-1ZM90,355h1V403h-1ZM94,355h1V403h-1ZM98,355h1V403h-1ZM102,350h1V403h-1ZM107,357h1V403h-1ZM111,385h1V403h-1ZM115,357h1V403h-1ZM119,361h1V403h-1ZM123,365h1V403h-1ZM127,361h1V403h-1ZM132,362h1V403h-1ZM136,334h1V403h-1ZM140,347h1V403h-1ZM144,358h1V403h-1ZM148,353h1V403h-1ZM152,357h1V403h-1ZM157,358h1V403h-1ZM161,368h1V403h-1ZM165,366h1V403h-1ZM169,355h1V403h-1ZM173,371h1V403h-1ZM177,358h1V403h-1ZM182,388h1V403h-1ZM186,371h1V403h-1ZM190,372h1V403h-1ZM194,365h1V403h-1ZM198,366h1V403h-1ZM202,362h1V403h-1ZM207,374h1V403h-1ZM211,365h1V403h-1ZM215,375h1V403h-1ZM219,373h1V403h-1ZM223,362h1V403h-1ZM227,347h1V403h-1ZM232,362h1V403h-1ZM236,359h1V403h-1ZM240,358h1V403h-1ZM244,372h1V403h-1ZM248,377h1V403h-1ZM252,367h1V403h-1ZM257,366h1V403h-1ZM261,375h1V403h-1ZM265,370h1V403h-1ZM269,368h1V403h-1ZM273,373h1V403h-1ZM277,372h1V403h-1ZM282,370h1V403h-1ZM286,373h1V403h-1ZM290,375h1V403h-1ZM294,369h1V403h-1ZM298,372h1V403h-1ZM302,372h1V403h-1ZM307,375h1V403h-1ZM311,373h1V403h-1ZM315,376h1V403h-1ZM319,375h1V403h-1ZM323,381h1V403h-1ZM327,392h1V403h-1ZM332,377h1V403h-1ZM336,376h1V403h-1ZM340,380h1V403h-1ZM344,376h1V403h-1ZM348,383h1V403h-1ZM352,377h1V403h-1ZM357,379h1V403h-1ZM361,376h1V403h-1ZM365,382h1V403h-1ZM369,378h1V403h-1ZM373,378h1V403h-1ZM377,372h1V403h-1ZM382,372h1V403h-1ZM386,376h1V403h-1ZM390,375h1V403h-1ZM394,386h1V403h-1ZM398,380h1V403h-1ZM402,378h1V403h-1ZM407,381h1V403h-1ZM411,378h1V403h-1ZM415,376h1V403h-1ZM419,377h1V403h-1ZM423,373h1V403h-1ZM427,373h1V403h-1ZM432,379h1V403h-1ZM436,378h1V403h-1ZM440,372h1V403h-1ZM444,376h1V403h-1ZM448,378h1V403h-1ZM452,377h1V403h-1ZM457,379h1V403h-1ZM461,376h1V403h-1ZM465,375h1V403h-1ZM469,378h1V403h-1ZM473,390h1V403h-1ZM477,377h1V403h-1ZM482,380h1V403h-1ZM486,381h1V403h-1ZM490,381h1V403h-1ZM494,379h1V403h-1ZM498,379h1V403h-1ZM502,376h1V403h-1ZM507,379h1V403h-1ZM511,378h1V403h-1ZM515,375h1V403h-1ZM519,378h1V403h-1ZM523,374h1V403h-1ZM527,371h1V403h-1ZM532,379h1V403h-1ZM536,377h1V403h-1ZM540,372h1V403h-1ZM544,392h1V403h-1ZM548,373h1V403h-1ZM552,371h1V403h-1ZM557,365h1V403h-1ZM561,373h1V403h-1ZM565,374h1V403h-1ZM569,376h1V403h-1ZM573,380h1V403h-1ZM577,381h1V403h-1ZM582,376h1V403h-1ZM586,382h1V403h-1ZM590,376h1V403h-1ZM594,376h1V403h-1ZM598,377h1V403h-1ZM602,384h1V403h-1ZM607,381h1V403h-1ZM611,390h1V403h-1ZM615,385h1V403h-1ZM619,377h1V403h-1ZM623,381h1V403h-1ZM627,381h1V403h-1ZM632,380h1V403h-1ZM636,379h1V403h-1ZM640,381h1V403h-1ZM644,378h1V403h-1ZM648,380h1V403h-1Z" fill="#8cc2d2" shape-rendering="crispEdges"/><path d="M40,346h1v1.5h-1ZM44,341h1v1.5h-1ZM48,332h1v1.5h-1ZM52,327h1v1.5h-1ZM57,344h1v1.5h-1ZM61,340h1v1.5h-1ZM65,331h1v1.5h-1ZM69,335h1v1.5h-1ZM73,352h1v1.5h-1ZM77,348h1v1.5h-1ZM82,355h1v1.5h-1ZM86,351h1v1.5h-1ZM90,354h1v1.5h-1ZM94,354h1v1.5h-1ZM98,354h1v1.5h-1ZM102,349h1v1.5h-1ZM107,356h1v1.5h-1ZM111,384h1v1.5h-1ZM115,356h1v1.5h-1ZM119,360h1v1.5h-1ZM123,364h1v1.5h-1ZM127,360h1v1.5h-1ZM132,361h1v1.5h-1ZM136,333h1v1.5h-1ZM140,346h1v1.5h-1ZM144,357h1v1.5h-1ZM148,352h1v1.5h-1ZM152,356h1v1.5h-1ZM157,357h1v1.5h-1ZM161,367h1v1.5h-1ZM165,365h1v1.5h-1ZM169,354h1v1.5h-1ZM173,370h1v1.5h-1ZM177,357h1v1.5h-1ZM182,387h1v1.5h-1ZM186,370h1v1.5h-1ZM190,371h1v1.5h-1ZM194,364h1v1.5h-1ZM198,365h1v1.5h-1ZM202,361h1v1.5h-1ZM207,373h1v1.5h-1ZM211,364h1v1.5h-1ZM215,374h1v1.5h-1ZM219,372h1v1.5h-1ZM223,361h1v1.5h-1ZM227,346h1v1.5h-1ZM232,361h1v1.5h-1ZM236,358h1v1.5h-1ZM240,357h1v1.5h-1ZM244,371h1v1.5h-1ZM248,376h1v1.5h-1ZM252,366h1v1.5h-1ZM257,365h1v1.5h-1ZM261,374h1v1.5h-1ZM265,369h1v1.5h-1ZM269,367h1v1.5h-1ZM273,372h1v1.5h-1ZM277,371h1v1.5h-1ZM282,369h1v1.5h-1ZM286,372h1v1.5h-1ZM290,374h1v1.5h-1ZM294,368h1v1.5h-1ZM298,371h1v1.5h-1ZM302,371h1v1.5h-1ZM307,374h1v1.5h-1ZM311,372h1v1.5h-1ZM315,375h1v1.5h-1ZM319,374h1v1.5h-1ZM323,380h1v1.5h-1ZM327,391h1v1.5h-1ZM332,376h1v1.5h-1ZM336,375h1v1.5h-1ZM340,379h1v1.5h-1ZM344,375h1v1.5h-1ZM348,382h1v1.5h-1ZM352,376h1v1.5h-1ZM357,378h1v1.5h-1ZM361,375h1v1.5h-1ZM365,381h1v1.5h-1ZM369,377h1v1.5h-1ZM373,377h1v1.5h-1ZM377,371h1v1.5h-1ZM382,371h1v1.5h-1ZM386,375h1v1.5h-1ZM390,374h1v1.5h-1ZM394,385h1v1.5h-1ZM398,379h1v1.5h-1ZM402,377h1v1.5h-1ZM407,380h1v1.5h-1ZM411,377h1v1.5h-1ZM415,375h1v1.5h-1ZM419,376h1v1.5h-1ZM423,372h1v1.5h-1ZM427,372h1v1.5h-1ZM432,378h1v1.5h-1ZM436,377h1v1.5h-1ZM440,371h1v1.5h-1ZM444,375h1v1.5h-1ZM448,377h1v1.5h-1ZM452,376h1v1.5h-1ZM457,378h1v1.5h-1ZM461,375h1v1.5h-1ZM465,374h1v1.5h-1ZM469,377h1v1.5h-1ZM473,389h1v1.5h-1ZM477,376h1v1.5h-1ZM482,379h1v1.5h-1ZM486,380h1v1.5h-1ZM490,380h1v1.5h-1ZM494,378h1v1.5h-1ZM498,378h1v1.5h-1ZM502,375h1v1.5h-1ZM507,378h1v1.5h-1ZM511,377h1v1.5h-1ZM515,374h1v1.5h-1ZM519,377h1v1.5h-1ZM523,373h1v1.5h-1ZM527,370h1v1.5h-1ZM532,378h1v1.5h-1ZM536,376h1v1.5h-1ZM540,371h1v1.5h-1ZM544,391h1v1.5h-1ZM548,372h1v1.5h-1ZM552,370h1v1.5h-1ZM557,364h1v1.5h-1ZM561,372h1v1.5h-1ZM565,373h1v1.5h-1ZM569,375h1v1.5h-1ZM573,379h1v1.5h-1ZM577,380h1v1.5h-1ZM582,375h1v1.5h-1ZM586,381h1v1.5h-1ZM590,375h1v1.5h-1ZM594,375h1v1.5h-1ZM598,376h1v1.5h-1ZM602,383h1v1.5h-1ZM607,380h1v1.5h-1ZM611,389h1v1.5h-1ZM615,384h1v1.5h-1ZM619,376h1v1.5h-1ZM623,380h1v1.5h-1ZM627,380h1v1.5h-1ZM632,379h1v1.5h-1ZM636,378h1v1.5h-1ZM640,380h1v1.5h-1ZM644,377h1v1.5h-1ZM648,379h1v1.5h-1Z" fill="#4a88b0" shape-rendering="crispEdges"/><g shape-rendering="crispEdges"><line x1="39" y1="393.5" x2="656" y2="393.5" stroke="#90b080" stroke-opacity="0.3" stroke-width="1"/><line x1="39" y1="380.5" x2="656" y2="380.5" stroke="#90b080" stroke-opacity="0.3" stroke-width="1"/><line x1="39" y1="366.5" x2="656" y2="366.5" stroke="#90b080" stroke-opacity="0.3" stroke-width="1"/><line x1="39" y1="353.5" x2="656" y2="353.5" stroke="#90b080" stroke-opacity="0.3" stroke-width="1"/><line x1="39" y1="339.5" x2="656" y2="339.5" stroke="#90b080" stroke-opacity="0.3" stroke-width="1"/><line x1="39" y1="326.5" x2="656" y2="326.5" stroke="#90b080" stroke-opacity="0.3" stroke-width="1"/><line x1="39" y1="312.5" x2="656" y2="312.5" stroke="#90b080" stroke-opacity="0.3" stroke-width="1"/><line x1="39" y1="299.5" x2="656" y2="299.5" stroke="#90b080" stroke-opacity="0.3" stroke-width="1"/></g><polyline fill="none" stroke="#e01c3c" stroke-width="1.4" points="39.01,328.81 40.40,330.28 41.79,331.98 43.18,333.72 44.57,335.41 45.95,336.67 47.34,338.18 48.73,340.05 50.12,342.07 51.51,344.38 52.90,346.00 54.29,347.44 55.68,348.42 57.06,349.15 58.45,349.72 59.84,350.17 61.23,350.61 62.62,350.94 64.01,350.85 65.40,351.12 66.79,351.35 68.17,351.31 69.56,351.12 70.95,350.88 72.34,350.86 73.73,350.86 75.12,351.03 76.51,351.32 77.90,351.12 79.28,350.64 80.67,350.12 82.06,349.45 83.45,348.86 84.84,348.14 86.23,347.44 87.62,346.88 89.01,346.16 90.39,345.27 91.78,344.62 93.17,344.15 94.56,343.35 95.95,342.48 97.34,341.71 98.73,341.32 100.12,340.71 101.50,339.94 102.89,339.23 104.28,338.56 105.67,337.82 107.06,337.12 108.45,336.49 109.84,335.71 111.23,335.05 112.61,334.21 114.00,333.48 115.39,333.14 116.78,332.95 118.17,332.83 119.56,332.65 120.95,332.22 122.34,331.85 123.72,331.25 125.11,330.58 126.50,329.87 127.89,329.15 129.28,328.39 130.67,327.55 132.06,326.77 133.45,325.84 134.83,325.20 136.22,325.18 137.61,324.97 139.00,325.14 140.39,325.29 141.78,325.63 143.17,325.73 144.56,325.63 145.94,325.85 147.33,326.48 148.72,326.64 150.11,326.89 151.50,326.84 152.89,326.79 154.28,326.60 155.67,326.74 157.05,326.94 158.44,327.18 159.83,327.09 161.22,326.97 162.61,326.73 164.00,326.33 165.39,325.97 166.78,325.48 168.16,324.94 169.55,324.38 170.94,323.85 172.33,323.03 173.72,322.46 175.11,321.91 176.50,321.48 177.89,320.80 179.27,320.04 180.66,319.29 182.05,318.48 183.44,317.71 184.83,316.88 186.22,315.93 187.61,315.12 189.00,314.40 190.38,313.46 191.77,312.43 193.16,311.35 194.55,310.51 195.94,309.71 197.33,309.09 198.72,308.69 200.11,308.05 201.49,307.31 202.88,306.63 204.27,306.06 205.66,305.39 207.05,304.56 208.44,303.95 209.83,303.40 211.22,302.91 212.60,302.47 213.99,302.29 215.38,302.35 216.77,302.40 218.16,302.47 219.55,301.99 220.94,301.50 222.32,301.25 223.71,300.80 225.10,300.78 226.49,301.47 227.88,302.29 229.27,303.48 230.66,304.19 232.05,304.89 233.43,305.70 234.82,305.98 236.21,306.87 237.60,307.74 238.99,308.38 240.38,308.45 241.77,308.41 243.16,308.00 244.54,307.87 245.93,307.67 247.32,307.84 248.71,308.44 250.10,308.36 251.49,308.19 252.88,308.31 254.27,308.07 255.65,307.89 257.04,307.57 258.43,307.19 259.82,306.63 261.21,306.09 262.60,305.36 263.99,304.68 265.38,303.90 266.76,303.13 268.15,302.38 269.54,301.67 270.93,300.73 272.32,299.91 273.71,299.05 275.10,298.31 276.49,297.83 277.87,297.31 279.26,296.63 280.65,296.26 282.04,296.03 283.43,296.25 284.82,296.29 286.21,296.64 287.60,296.60 288.98,296.43 290.37,296.33 291.76,296.02 293.15,295.80 294.54,295.56 295.93,295.29 297.32,294.86 298.71,294.42 300.09,293.89 301.48,293.30 302.87,292.79 304.26,292.34 305.65,291.68 307.04,290.84 308.43,290.10 309.82,289.54 311.20,288.86 312.59,288.48 313.98,288.07 315.37,287.86 316.76,287.64 318.15,287.69 319.54,287.90 320.93,287.72 322.31,287.49 323.70,287.26 325.09,287.08 326.48,286.78 327.87,286.71 329.26,286.16 330.65,285.59 332.04,284.94 333.42,284.20 334.81,283.43 336.20,282.66 337.59,281.92 338.98,281.25 340.37,280.61 341.76,279.74 343.15,278.85 344.53,278.05 345.92,277.20 347.31,276.52 348.70,275.60 350.09,275.00 351.48,274.22 352.87,273.24 354.26,272.16 355.64,270.88 357.03,269.81 358.42,268.95 359.81,268.05 361.20,267.33 362.59,266.90 363.98,266.40 365.37,265.72 366.75,264.71 368.14,263.67 369.53,262.69 370.92,261.63 372.31,260.77 373.70,260.24 375.09,259.67 376.48,259.38 377.86,258.93 379.25,258.25 380.64,257.44 382.03,256.82 383.42,256.24 384.81,255.60 386.20,254.68 387.58,253.70 388.97,252.75 390.36,251.79 391.75,250.67 393.14,249.56 394.53,248.51 395.92,247.52 397.31,246.83 398.69,245.84 400.08,244.73 401.47,243.76 402.86,242.76 404.25,241.85 405.64,241.36 407.03,240.95 408.42,240.46 409.80,239.68 411.19,238.96 412.58,238.11 413.97,237.16 415.36,236.54 416.75,235.77 418.14,235.12 419.53,234.44 420.91,234.17 422.30,233.54 423.69,232.97 425.08,232.29 426.47,231.67 427.86,231.08 429.25,230.36 430.64,229.50 432.02,228.48 433.41,227.63 434.80,226.62 436.19,225.68 437.58,224.62 438.97,223.74 440.36,222.84 441.75,221.99 443.13,221.60 444.52,221.18 445.91,220.60 447.30,219.80 448.69,218.94 450.08,218.09 451.47,217.45 452.86,216.66 454.24,216.14 455.63,215.75 457.02,215.86 458.41,216.11 459.80,215.75 461.19,215.00 462.58,214.18 463.97,213.35 465.35,212.38 466.74,211.44 468.13,210.49 469.52,210.16 470.91,209.32 472.30,208.39 473.69,207.75 475.08,207.25 476.46,206.98 477.85,206.47 479.24,206.43 480.63,205.92 482.02,205.12 483.41,204.27 484.80,203.50 486.19,203.04 487.57,202.74 488.96,202.04 490.35,201.74 491.74,201.41 493.13,200.83 494.52,200.44 495.91,199.80 497.30,199.27 498.68,198.70 500.07,198.11 501.46,197.54 502.85,197.14 504.24,196.88 505.63,196.62 507.02,196.25 508.41,195.97 509.79,195.90 511.18,195.82 512.57,195.37 513.96,195.31 515.35,195.06 516.74,195.03 518.13,194.89 519.52,195.69 520.90,196.31 522.29,197.41 523.68,198.15 525.07,198.86 526.46,199.75 527.85,200.42 529.24,200.58 530.63,200.58 532.01,200.25 533.40,199.91 534.79,199.44 536.18,199.58 537.57,199.21 538.96,198.84 540.35,198.49 541.74,198.77 543.12,199.08 544.51,198.95 545.90,198.96 547.29,199.91 548.68,201.12 550.07,202.06 551.46,202.69 552.85,203.75 554.23,204.86 555.62,205.50 557.01,205.87 558.40,205.82 559.79,205.60 561.18,205.18 562.57,204.90 563.95,204.34 565.34,204.01 566.73,203.44 568.12,202.82 569.51,202.44 570.90,202.15 572.29,201.95 573.68,201.72 575.06,201.14 576.45,200.60 577.84,200.11 579.23,199.85 580.62,199.85 582.01,199.36 583.40,198.68 584.79,197.79 586.17,196.85 587.56,195.98 588.95,195.08 590.34,194.23 591.73,193.43 593.12,192.79 594.51,192.10 595.90,191.85 597.28,191.53 598.67,191.03 600.06,190.54 601.45,190.18 602.84,190.01 604.23,189.78 605.62,189.68 607.01,189.90 608.39,189.50 609.78,188.98 611.17,188.26 612.56,187.73 613.95,186.72 615.34,185.77 616.73,184.85 618.12,184.16 619.50,183.22 620.89,182.34 622.28,181.55 623.67,180.62 625.06,179.72 626.45,178.73 627.84,177.53 629.23,176.27 630.61,174.96 632.00,173.81 633.39,172.68 634.78,171.88 636.17,170.97 637.56,170.17 638.95,169.63 640.34,168.96 641.72,168.06 643.11,167.10 644.50,166.26 645.89,165.53 647.28,164.58 648.67,163.51 650.06,162.56 651.45,161.65"/><polyline fill="none" stroke="#1e1eaa" stroke-width="1.45" points="39.01,347.88 40.40,348.85 41.79,350.44 43.18,352.16 44.57,353.74 45.95,354.27 47.34,355.54 48.73,357.72 50.12,360.26 51.51,363.44 52.90,364.76 54.29,365.67 55.68,365.53 57.06,364.90 58.45,364.09 59.84,363.14 61.23,362.39 62.62,361.53 64.01,359.79 65.40,359.21 66.79,358.61 68.17,357.48 69.56,356.11 70.95,354.82 72.34,354.20 73.73,353.72 75.12,353.73 76.51,354.07 77.90,353.19 79.28,351.68 80.67,350.23 82.06,348.55 83.45,347.20 84.84,345.65 86.23,344.25 87.62,343.31 89.01,342.00 90.39,340.37 91.78,339.45 93.17,339.01 94.56,337.76 95.95,336.38 97.34,335.32 98.73,335.27 100.12,334.59 101.50,333.54 102.89,332.68 104.28,331.95 105.67,331.05 107.06,330.26 108.45,329.66 109.84,328.68 111.23,328.05 112.61,326.94 114.00,326.16 115.39,326.35 116.78,326.85 118.17,327.43 119.56,327.75 120.95,327.37 122.34,327.15 123.72,326.30 125.11,325.34 126.50,324.32 127.89,323.32 129.28,322.24 130.67,321.02 132.06,320.00 133.45,318.65 134.83,318.07 136.22,319.04 137.61,319.39 139.00,320.61 140.39,321.63 141.78,323.00 143.17,323.63 144.56,323.68 145.94,324.52 147.33,326.28 148.72,326.71 150.11,327.33 151.50,327.13 152.89,326.97 154.28,326.46 155.67,326.84 157.05,327.33 158.44,327.86 159.83,327.54 161.22,327.17 162.61,326.55 164.00,325.57 165.39,324.78 166.78,323.73 168.16,322.63 169.55,321.56 170.94,320.64 172.33,319.05 173.72,318.18 175.11,317.44 176.50,316.99 177.89,315.94 179.27,314.72 180.66,313.61 182.05,312.40 183.44,311.35 184.83,310.17 186.22,308.76 187.61,307.75 189.00,307.01 190.38,305.71 191.77,304.24 193.16,302.72 194.55,301.85 195.94,301.09 197.33,300.77 198.72,300.97 200.11,300.47 201.49,299.70 202.88,299.09 204.27,298.74 205.66,298.12 207.05,297.06 208.44,296.62 209.83,296.28 211.22,296.09 212.60,295.96 213.99,296.44 215.38,297.42 216.77,298.25 218.16,299.03 219.55,298.30 220.94,297.61 222.32,297.55 223.71,296.94 225.10,297.44 226.49,299.66 227.88,301.95 229.27,304.99 230.66,306.55 232.05,307.95 233.43,309.53 234.82,309.70 236.21,311.38 237.60,312.92 238.99,313.77 240.38,313.18 241.77,312.40 243.16,310.82 244.54,310.09 245.93,309.27 247.32,309.47 248.71,310.74 250.10,310.20 251.49,309.51 252.88,309.62 254.27,308.83 255.65,308.29 257.04,307.44 258.43,306.49 259.82,305.19 261.21,304.05 262.60,302.51 263.99,301.23 265.38,299.77 266.76,298.44 268.15,297.22 269.54,296.18 270.93,294.63 272.32,293.44 273.71,292.21 275.10,291.34 276.49,291.14 277.87,290.79 279.26,290.03 280.65,290.04 282.04,290.35 283.43,291.73 284.82,292.47 286.21,293.88 287.60,294.18 288.98,294.09 290.37,294.17 291.76,293.72 293.15,293.49 294.54,293.23 295.93,292.89 297.32,292.16 298.71,291.43 300.09,290.54 301.48,289.53 302.87,288.80 304.26,288.25 305.65,287.20 307.04,285.74 308.43,284.60 309.82,284.00 311.20,283.09 312.59,282.95 313.98,282.73 315.37,282.95 316.76,283.10 318.15,283.88 319.54,284.96 320.93,284.92 322.31,284.75 323.70,284.56 325.09,284.50 326.48,284.12 327.87,284.33 329.26,283.28 330.65,282.27 332.04,281.13 333.42,279.82 334.81,278.51 336.20,277.29 337.59,276.21 338.98,275.36 340.37,274.59 341.76,273.29 343.15,271.99 344.53,270.97 345.92,269.85 347.31,269.19 348.70,267.95 350.09,267.53 351.48,266.65 352.87,265.27 354.26,263.71 355.64,261.74 357.03,260.37 358.42,259.57 359.81,258.65 361.20,258.18 362.59,258.42 363.98,258.38 365.37,257.84 366.75,256.44 368.14,255.02 369.53,253.80 370.92,252.42 372.31,251.59 373.70,251.58 375.09,251.40 376.48,251.84 377.86,251.79 379.25,251.11 380.64,250.11 382.03,249.60 383.42,249.20 384.81,248.60 386.20,247.30 387.58,245.90 388.97,244.64 390.36,243.39 391.75,241.79 393.14,240.29 394.53,238.99 395.92,237.89 397.31,237.52 398.69,236.38 400.08,234.96 401.47,233.93 402.86,232.84 404.25,231.97 405.64,232.16 407.03,232.46 408.42,232.44 409.80,231.64 411.19,230.99 412.58,230.00 413.97,228.77 415.36,228.44 416.75,227.67 418.14,227.19 419.53,226.62 420.91,227.07 422.30,226.52 423.69,226.08 425.08,225.36 426.47,224.80 427.86,224.32 429.25,223.49 430.64,222.31 432.02,220.80 433.41,219.76 434.80,218.36 436.19,217.20 437.58,215.75 438.97,214.83 440.36,213.85 441.75,213.01 443.13,213.31 444.52,213.45 445.91,213.11 447.30,212.18 448.69,211.10 450.08,210.09 451.47,209.65 452.86,208.80 454.24,208.60 455.63,208.70 457.02,209.98 458.41,211.45 459.80,211.22 461.19,209.98 462.58,208.66 463.97,207.38 465.35,205.81 466.74,204.38 468.13,203.03 469.52,203.27 470.91,202.15 472.30,200.84 473.69,200.32 475.08,200.14 476.46,200.47 477.85,200.14 479.24,200.93 480.63,200.45 482.02,199.23 483.41,197.94 484.80,196.92 486.19,196.71 487.57,196.87 488.96,195.96 490.35,196.07 491.74,196.06 493.13,195.37 494.52,195.19 495.91,194.34 497.30,193.78 498.68,193.15 500.07,192.47 501.46,191.84 502.85,191.66 504.24,191.79 505.63,191.87 507.02,191.63 508.41,191.59 509.79,192.02 511.18,192.39 512.57,191.75 513.96,192.12 515.35,191.96 516.74,192.32 518.13,192.36 519.52,194.72 520.90,196.40 522.29,199.15 523.68,200.74 525.07,202.16 526.46,203.89 527.85,204.99 529.24,204.72 530.63,204.13 532.01,202.81 533.40,201.60 534.79,200.18 536.18,200.43 537.57,199.37 538.96,198.44 540.35,197.60 541.74,198.43 543.12,199.27 544.51,198.91 545.90,198.94 547.29,201.30 548.68,204.14 550.07,206.06 551.46,207.06 552.85,209.08 554.23,211.09 555.62,211.80 557.01,211.83 558.40,210.86 559.79,209.60 561.18,207.98 562.57,206.86 563.95,205.19 565.34,204.24 566.73,202.79 568.12,201.33 569.51,200.60 570.90,200.13 572.29,199.92 573.68,199.63 575.06,198.49 576.45,197.51 577.84,196.73 579.23,196.55 580.62,197.04 582.01,196.20 583.40,194.95 584.79,193.27 586.17,191.57 587.56,190.14 588.95,188.74 590.34,187.52 591.73,186.47 593.12,185.86 594.51,185.13 595.90,185.51 597.28,185.61 598.67,185.21 600.06,184.80 601.45,184.74 602.84,185.07 604.23,185.20 605.62,185.60 607.01,186.74 608.39,186.19 609.78,185.37 611.17,184.07 612.56,183.37 613.95,181.45 615.34,179.85 616.73,178.37 618.12,177.58 619.50,176.16 620.89,174.98 622.28,174.05 623.67,172.79 625.06,171.67 626.45,170.35 627.84,168.54 629.23,166.68 630.61,164.78 632.00,163.34 633.39,162.02 634.78,161.53 636.17,160.75 637.56,160.22 638.95,160.28 640.34,159.95 641.72,158.99 643.11,157.88 644.50,157.10 645.89,156.59 647.28,155.49 648.67,154.11 650.06,153.06 651.45,152.14"/><path d="M39.5,347V358M38.0,356.5H39.5M39.5,349.5H41.0M40.5,347V356M39.0,349.5H40.5M40.5,354.5H42.0M41.5,351V361M40.0,354.5H41.5M41.5,360.5H43.0M43.5,358V367M42.0,359.5H43.5M43.5,362.5H45.0M44.5,361V365M43.0,362.5H44.5M44.5,363.5H46.0M45.5,355V365M44.0,363.5H45.5M45.5,357.5H47.0M47.5,356V365M46.0,357.5H47.5M47.5,363.5H49.0M48.5,362V372M47.0,362.5H48.5M48.5,370.5H50.0M50.5,368V377M49.0,371.5H50.5M50.5,375.5H52.0M51.5,373V385M50.0,375.5H51.5M51.5,382.5H53.0M52.5,372V383M51.0,382.5H52.5M52.5,372.5H54.0M54.5,368V375M53.0,372.5H54.5M54.5,371.5H56.0M55.5,363V375M54.0,371.5H55.5M55.5,364.5H57.0M57.5,359V366M56.0,364.5H57.5M57.5,361.5H59.0M58.5,357V362M57.0,360.5H58.5M58.5,359.5H60.0M59.5,354V361M58.0,359.5H59.5M59.5,357.5H61.0M61.5,354V360M60.0,357.5H61.5M61.5,357.5H63.0M62.5,354V360M61.0,357.5H62.5M62.5,356.5H64.0M64.5,347V358M63.0,356.5H64.5M64.5,349.5H66.0M65.5,346V357M64.0,348.5H65.5M65.5,355.5H67.0M66.5,354V359M65.0,355.5H66.5M66.5,355.5H68.0M68.5,349V357M67.0,355.5H68.5M68.5,350.5H70.0M69.5,346V352M68.0,350.5H69.5M69.5,347.5H71.0M70.5,345V350M69.0,347.5H70.5M70.5,347.5H72.0M72.5,346V352M71.0,347.5H72.5M72.5,350.5H74.0M73.5,348V352M72.0,350.5H73.5M73.5,350.5H75.0M75.5,350V355M74.0,351.5H75.5M75.5,353.5H77.0M76.5,353V357M75.0,353.5H76.5M76.5,356.5H78.0M77.5,347V358M76.0,355.5H77.5M77.5,347.5H79.0M79.5,340V349M78.0,347.5H79.5M79.5,342.5H81.0M80.5,340V344M79.0,342.5H80.5M80.5,341.5H82.0M82.5,337V343M81.0,341.5H82.5M82.5,338.5H84.0M83.5,336V340M82.0,338.5H83.5M83.5,339.5H85.0M84.5,335V340M83.0,339.5H84.5M84.5,336.5H86.0M86.5,334V338M85.0,336.5H86.5M86.5,335.5H88.0M87.5,334V339M86.0,335.5H87.5M87.5,337.5H89.0M89.5,332V340M88.0,337.5H89.5M89.5,334.5H91.0M90.5,330V335M89.0,334.5H90.5M90.5,330.5H92.0M91.5,329V335M90.0,330.5H91.5M91.5,333.5H93.0M93.5,333V338M92.0,334.5H93.5M93.5,336.5H95.0M94.5,329V338M93.0,336.5H94.5M94.5,330.5H96.0M95.5,327V332M94.0,330.5H95.5M95.5,328.5H97.0M97.5,327V330M96.0,328.5H97.5M97.5,329.5H99.0M98.5,328V336M97.0,328.5H98.5M98.5,334.5H100.0M100.5,329V337M99.0,334.5H100.5M100.5,330.5H102.0M101.5,326V333M100.0,330.5H101.5M101.5,327.5H103.0M102.5,326V328M101.0,327.5H102.5M102.5,327.5H104.0M104.5,326V329M103.0,327.5H104.5M104.5,327.5H106.0M105.5,324V330M104.0,327.5H105.5M105.5,325.5H107.0M107.5,324V327M106.0,325.5H107.5M107.5,325.5H109.0M108.5,324V329M107.0,325.5H108.5M108.5,326.5H110.0M109.5,322V327M108.0,325.5H109.5M109.5,322.5H111.0M111.5,321V325M110.0,322.5H111.5M111.5,324.5H113.0M112.5,318V326M111.0,324.5H112.5M112.5,320.5H114.0M114.5,319V325M113.0,320.5H114.5M114.5,321.5H116.0M115.5,320V329M114.0,321.5H115.5M115.5,327.5H117.0M116.5,325V332M115.0,326.5H116.5M116.5,329.5H118.0M118.5,329V332M117.0,329.5H118.5M118.5,330.5H120.0M119.5,328V332M118.0,331.5H119.5M119.5,329.5H121.0M120.5,324V331M119.0,329.5H120.5M120.5,325.5H122.0M122.5,324V327M121.0,325.5H122.5M122.5,325.5H124.0M123.5,320V327M122.0,325.5H123.5M123.5,321.5H125.0M125.5,318V322M124.0,321.5H125.5M125.5,319.5H127.0M126.5,317V320M125.0,319.5H126.5M126.5,318.5H128.0M127.5,315V320M126.0,317.5H127.5M127.5,317.5H129.0M129.5,315V320M128.0,318.5H129.5M129.5,315.5H131.0M130.5,312V317M129.0,316.5H130.5M130.5,313.5H132.0M132.5,311V316M131.0,313.5H132.5M132.5,313.5H134.0M133.5,310V315M132.0,313.5H133.5M133.5,310.5H135.0M134.5,310V316M133.0,310.5H134.5M134.5,314.5H136.0M136.5,312V327M135.0,314.5H136.5M136.5,324.5H138.0M137.5,320V326M136.0,324.5H137.5M137.5,321.5H139.0M139.5,320V329M138.0,321.5H139.5M139.5,327.5H141.0M140.5,326V330M139.0,328.5H140.5M140.5,327.5H142.0M141.5,326V335M140.0,327.5H141.5M141.5,331.5H143.0M143.5,326V333M142.0,331.5H143.5M143.5,327.5H145.0M144.5,321V329M143.0,327.5H144.5M144.5,324.5H146.0M145.5,323V332M144.0,324.5H145.5M145.5,329.5H147.0M147.5,328V339M146.0,329.5H147.5M147.5,336.5H149.0M148.5,326V338M147.0,336.5H148.5M148.5,329.5H150.0M150.5,328V333M149.0,330.5H150.5M150.5,331.5H152.0M151.5,325V332M150.0,331.5H151.5M151.5,325.5H153.0M152.5,325V328M151.0,325.5H152.5M152.5,326.5H154.0M154.5,320V328M153.0,326.5H154.5M154.5,323.5H156.0M155.5,322V331M154.0,323.5H155.5M155.5,329.5H157.0M157.5,327V332M156.0,328.5H157.5M157.5,330.5H159.0M158.5,329V332M157.0,329.5H158.5M158.5,331.5H160.0M159.5,324V333M158.0,330.5H159.5M159.5,325.5H161.0M161.5,323V328M160.0,326.5H161.5M161.5,324.5H163.0M162.5,321V326M161.0,325.5H162.5M162.5,322.5H164.0M163.5,319V324M162.0,322.5H163.5M163.5,319.5H165.0M165.5,319V321M164.0,319.5H165.5M165.5,319.5H167.0M166.5,316V322M165.0,319.5H166.5M166.5,317.5H168.0M168.5,315V319M167.0,318.5H168.5M168.5,316.5H170.0M169.5,314V317M168.0,315.5H169.5M169.5,315.5H171.0M170.5,313V318M169.0,315.5H170.5M170.5,315.5H172.0M172.5,307V317M171.0,314.5H172.5M172.5,309.5H174.0M173.5,309V314M172.0,309.5H173.5M173.5,312.5H175.0M175.5,311V314M174.0,312.5H175.5M175.5,312.5H177.0M176.5,312V316M175.0,312.5H176.5M176.5,314.5H178.0M177.5,309V316M176.0,314.5H177.5M177.5,309.5H179.0M179.5,306V311M178.0,309.5H179.5M179.5,307.5H181.0M180.5,306V309M179.0,307.5H180.5M180.5,306.5H182.0M182.5,304V308M181.0,306.5H182.5M182.5,305.5H184.0M183.5,304V307M182.0,305.5H183.5M183.5,305.5H185.0M184.5,302V306M183.0,304.5H184.5M184.5,303.5H186.0M186.5,299V304M185.0,302.5H186.5M186.5,300.5H188.0M187.5,300V303M186.0,300.5H187.5M187.5,301.5H189.0M188.5,299V305M187.0,300.5H188.5M188.5,302.5H190.0M190.5,296V304M189.0,302.5H190.5M190.5,297.5H192.0M191.5,293V300M190.0,297.5H191.5M191.5,295.5H193.0M193.5,292V296M192.0,295.5H193.5M193.5,293.5H195.0M194.5,292V298M193.0,293.5H194.5M194.5,296.5H196.0M195.5,295V297M194.0,296.5H195.5M195.5,296.5H197.0M197.5,294V300M196.0,296.5H197.5M197.5,298.5H199.0M198.5,297V304M197.0,298.5H198.5M198.5,302.5H200.0M200.5,296V304M199.0,302.5H200.5M200.5,297.5H202.0M201.5,294V299M200.0,298.5H201.5M201.5,295.5H203.0M202.5,293V296M201.0,294.5H202.5M202.5,295.5H204.0M204.5,294V298M203.0,295.5H204.5M204.5,296.5H206.0M205.5,293V298M204.0,297.5H205.5M205.5,294.5H207.0M207.5,290V297M206.0,294.5H207.5M207.5,290.5H209.0M208.5,289V295M207.0,290.5H208.5M208.5,293.5H210.0M209.5,292V296M208.0,293.5H209.5M209.5,294.5H211.0M211.5,293V296M210.0,293.5H211.5M211.5,294.5H213.0M212.5,294V296M211.0,295.5H212.5M212.5,295.5H214.0M213.5,294V301M212.0,295.5H213.5M213.5,299.5H215.0M215.5,299V304M214.0,299.5H215.5M215.5,303.5H217.0M216.5,302V304M215.0,303.5H216.5M216.5,303.5H218.0M218.5,302V305M217.0,302.5H218.5M218.5,303.5H220.0M219.5,293V305M218.0,303.5H219.5M219.5,293.5H221.0M220.5,292V296M219.0,293.5H220.5M220.5,293.5H222.0M222.5,291V298M221.0,293.5H222.5M222.5,297.5H224.0M223.5,291V300M222.0,297.5H223.5M223.5,293.5H225.0M225.5,292V302M224.0,294.5H225.5M225.5,300.5H227.0M226.5,297V317M225.0,299.5H226.5M226.5,312.5H228.0M227.5,310V327M226.0,313.5H227.5M227.5,315.5H229.0M229.5,313V327M228.0,315.5H229.5M229.5,323.5H231.0M230.5,314V326M229.0,323.5H230.5M230.5,315.5H232.0M232.5,313V319M231.0,315.5H232.5M232.5,316.5H234.0M233.5,311V325M232.0,315.5H233.5M233.5,319.5H235.0M234.5,309V321M233.0,319.5H234.5M234.5,310.5H236.0M236.5,309V324M235.0,310.5H236.5M236.5,321.5H238.0M237.5,316V324M236.0,321.5H237.5M237.5,322.5H239.0M238.5,315V330M237.0,321.5H238.5M238.5,318.5H240.0M240.5,305V322M239.0,318.5H240.5M240.5,309.5H242.0M241.5,305V311M240.0,309.5H241.5M241.5,307.5H243.0M243.5,298V309M242.0,307.5H243.5M243.5,301.5H245.0M244.5,298V310M243.0,301.5H244.5M244.5,305.5H246.0M245.5,301V308M244.0,305.5H245.5M245.5,304.5H247.0M247.5,301V313M246.0,303.5H247.5M247.5,310.5H249.0M248.5,309V320M247.0,310.5H248.5M248.5,318.5H250.0M250.5,303V321M249.0,319.5H250.5M250.5,306.5H252.0M251.5,303V309M250.0,307.5H251.5M251.5,305.5H253.0M252.5,304V314M251.0,306.5H252.5M252.5,310.5H254.0M254.5,303V311M253.0,310.5H254.5M254.5,304.5H256.0M255.5,301V307M254.0,303.5H255.5M255.5,305.5H257.0M257.5,301V306M256.0,305.5H257.5M257.5,302.5H259.0M258.5,299V304M257.0,302.5H258.5M258.5,300.5H260.0M259.5,296V302M258.0,300.5H259.5M259.5,297.5H261.0M261.5,296V299M260.0,297.5H261.5M261.5,297.5H263.0M262.5,292V298M261.0,296.5H262.5M262.5,293.5H264.0M263.5,291V295M262.0,293.5H263.5M263.5,293.5H265.0M265.5,290V295M264.0,293.5H265.5M265.5,291.5H267.0M266.5,289V292M265.0,290.5H266.5M266.5,290.5H268.0M268.5,288V291M267.0,289.5H268.5M268.5,289.5H270.0M269.5,289V292M268.0,290.5H269.5M269.5,289.5H271.0M270.5,284V292M269.0,289.5H270.5M270.5,285.5H272.0M272.5,284V287M271.0,286.5H272.5M272.5,286.5H274.0M273.5,284V288M272.0,286.5H273.5M273.5,284.5H275.0M275.5,284V287M274.0,285.5H275.5M275.5,286.5H277.0M276.5,284V291M275.0,285.5H276.5M276.5,289.5H278.0M277.5,287V292M276.0,290.5H277.5M277.5,288.5H279.0M279.5,284V290M278.0,288.5H279.5M279.5,285.5H281.0M280.5,284V292M279.0,285.5H280.5M280.5,290.5H282.0M282.5,288V293M281.0,290.5H282.5M282.5,292.5H284.0M283.5,290V301M282.0,292.5H283.5M283.5,300.5H285.0M284.5,295V301M283.0,299.5H284.5M284.5,296.5H286.0M286.5,295V305M285.0,296.5H286.5M286.5,302.5H288.0M287.5,295V303M286.0,302.5H287.5M287.5,295.5H289.0M288.5,292V297M287.0,295.5H288.5M288.5,293.5H290.0M290.5,292V296M289.0,293.5H290.5M290.5,294.5H292.0M291.5,289V296M290.0,294.5H291.5M291.5,291.5H293.0M293.5,290V293M292.0,291.5H293.5M293.5,292.5H295.0M294.5,291V293M293.0,292.5H294.5M294.5,291.5H296.0M295.5,290V294M294.0,291.5H295.5M295.5,290.5H297.0M297.5,287V292M296.0,291.5H297.5M297.5,287.5H299.0M298.5,285V289M297.0,287.5H298.5M298.5,287.5H300.0M300.5,284V288M299.0,286.5H300.5M300.5,285.5H302.0M301.5,281V288M300.0,284.5H301.5M301.5,283.5H303.0M302.5,282V287M301.0,283.5H302.5M302.5,284.5H304.0M304.5,282V288M303.0,284.5H304.5M304.5,284.5H306.0M305.5,278V286M304.0,284.5H305.5M305.5,280.5H307.0M307.5,275V282M306.0,281.5H307.5M307.5,276.5H309.0M308.5,276V280M307.0,277.5H308.5M308.5,277.5H310.0M309.5,276V282M308.0,278.5H309.5M309.5,280.5H311.0M311.5,277V281M310.0,279.5H311.5M311.5,277.5H313.0M312.5,276V283M311.0,277.5H312.5M312.5,282.5H314.0M313.5,280V284M312.0,282.5H313.5M313.5,281.5H315.0M315.5,279V285M314.0,281.5H315.5M315.5,284.5H317.0M316.5,283V286M315.0,284.5H316.5M316.5,283.5H318.0M318.5,283V289M317.0,284.5H318.5M318.5,288.5H320.0M319.5,288V294M318.0,289.5H319.5M319.5,291.5H321.0M320.5,283V293M319.0,291.5H320.5M320.5,284.5H322.0M322.5,282V288M321.0,285.5H322.5M322.5,283.5H324.0M323.5,282V286M322.0,283.5H323.5M323.5,283.5H325.0M325.5,282V286M324.0,283.5H325.5M325.5,284.5H327.0M326.5,281V286M325.0,284.5H326.5M326.5,281.5H328.0M327.5,280V287M326.0,281.5H327.5M327.5,285.5H329.0M329.5,275V287M328.0,285.5H329.5M329.5,276.5H331.0M330.5,274V280M329.0,277.5H330.5M330.5,276.5H332.0M332.5,273V278M331.0,276.5H332.5M332.5,274.5H334.0M333.5,271V276M332.0,274.5H333.5M333.5,271.5H335.0M334.5,269V273M333.0,272.5H334.5M334.5,270.5H336.0M336.5,268V272M335.0,270.5H336.5M336.5,269.5H338.0M337.5,268V271M336.0,269.5H337.5M337.5,269.5H339.0M338.5,269V271M337.0,269.5H338.5M338.5,270.5H340.0M340.5,269V271M339.0,270.5H340.5M340.5,269.5H342.0M341.5,263V272M340.0,269.5H341.5M341.5,265.5H343.0M343.5,262V267M342.0,265.5H343.5M343.5,264.5H345.0M344.5,263V266M343.0,263.5H344.5M344.5,264.5H346.0M345.5,262V267M344.0,265.5H345.5M345.5,263.5H347.0M347.5,261V267M346.0,262.5H347.5M347.5,265.5H349.0M348.5,258V266M347.0,264.5H348.5M348.5,260.5H350.0M350.5,259V266M349.0,260.5H350.5M350.5,264.5H352.0M351.5,260V266M350.0,265.5H351.5M351.5,261.5H353.0M352.5,255V261M351.0,260.5H352.5M352.5,257.5H354.0M354.5,253V259M353.0,257.5H354.5M354.5,254.5H356.0M355.5,249V256M354.0,254.5H355.5M355.5,249.5H357.0M357.5,247V253M356.0,248.5H357.5M357.5,252.5H359.0M358.5,251V256M357.0,252.5H358.5M358.5,254.5H360.0M359.5,251V257M358.0,254.5H359.5M359.5,253.5H361.0M361.5,251V257M360.0,252.5H361.5M361.5,255.5H363.0M362.5,254V261M361.0,255.5H362.5M362.5,259.5H364.0M363.5,256V261M362.0,259.5H363.5M363.5,258.5H365.0M365.5,253V259M364.0,257.5H365.5M365.5,254.5H367.0M366.5,246V256M365.0,255.5H366.5M366.5,248.5H368.0M368.5,245V249M367.0,248.5H368.5M368.5,246.5H370.0M369.5,245V248M368.0,246.5H369.5M369.5,246.5H371.0M370.5,242V248M369.0,246.5H370.5M370.5,244.5H372.0M372.5,243V249M371.0,244.5H372.5M372.5,246.5H374.0M373.5,245V253M372.0,246.5H373.5M373.5,251.5H375.0M375.5,249V253M374.0,251.5H375.5M375.5,250.5H377.0M376.5,248V256M375.0,250.5H376.5M376.5,254.5H378.0M377.5,250V255M376.0,254.5H377.5M377.5,251.5H379.0M379.5,246V252M378.0,251.5H379.5M379.5,247.5H381.0M380.5,243V249M379.0,247.5H380.5M380.5,244.5H382.0M382.5,243V247M381.0,244.5H382.5M382.5,246.5H384.0M383.5,244V248M382.0,245.5H383.5M383.5,246.5H385.0M384.5,244V248M383.0,246.5H384.5M384.5,245.5H386.0M386.5,237V246M385.0,244.5H386.5M386.5,239.5H388.0M387.5,236V243M386.0,240.5H387.5M387.5,237.5H389.0M388.5,235V238M387.0,237.5H388.5M388.5,237.5H390.0M390.5,235V239M389.0,236.5H390.5M390.5,235.5H392.0M391.5,231V237M390.0,235.5H391.5M391.5,232.5H393.0M393.5,230V233M392.0,232.5H393.5M393.5,231.5H395.0M394.5,230V232M393.0,231.5H394.5M394.5,231.5H396.0M395.5,229V233M394.0,230.5H395.5M395.5,231.5H397.0M397.5,231V238M396.0,232.5H397.5M397.5,235.5H399.0M398.5,228V236M397.0,234.5H398.5M398.5,229.5H400.0M400.5,225V231M399.0,229.5H400.5M400.5,226.5H402.0M401.5,226V230M400.0,226.5H401.5M401.5,227.5H403.0M402.5,225V229M401.0,227.5H402.5M402.5,226.5H404.0M404.5,224V228M403.0,225.5H404.5M404.5,226.5H406.0M405.5,226V234M404.0,227.5H405.5M405.5,233.5H407.0M407.5,233V236M406.0,233.5H407.5M407.5,234.5H409.0M408.5,231V237M407.0,234.5H408.5M408.5,232.5H410.0M409.5,226V234M408.0,232.5H409.5M409.5,226.5H411.0M411.5,226V229M410.0,227.5H411.5M411.5,227.5H413.0M412.5,223V230M411.0,227.5H412.5M412.5,224.5H414.0M413.5,220V225M412.0,222.5H413.5M413.5,221.5H415.0M415.5,219V229M414.0,220.5H415.5M415.5,226.5H417.0M416.5,221V228M415.0,227.5H416.5M416.5,223.5H418.0M418.5,222V227M417.0,223.5H418.5M418.5,224.5H420.0M419.5,221V225M418.0,223.5H419.5M419.5,223.5H421.0M420.5,221V231M419.0,222.5H420.5M420.5,229.5H422.0M422.5,222V231M421.0,228.5H422.5M422.5,223.5H424.0M423.5,220V225M422.0,222.5H423.5M423.5,223.5H425.0M425.5,220V225M424.0,223.5H425.5M425.5,221.5H427.0M426.5,218V224M425.0,220.5H426.5M426.5,221.5H428.0M427.5,220V224M426.0,222.5H427.5M427.5,221.5H429.0M429.5,217V223M428.0,221.5H429.5M429.5,218.5H431.0M430.5,214V221M429.0,218.5H430.5M430.5,215.5H432.0M432.5,210V217M431.0,214.5H432.5M432.5,211.5H434.0M433.5,210V215M432.0,212.5H433.5M433.5,213.5H435.0M434.5,208V216M433.0,213.5H434.5M434.5,209.5H436.0M436.5,208V213M435.0,209.5H436.5M436.5,210.5H438.0M437.5,204V212M436.0,210.5H437.5M437.5,207.5H439.0M438.5,204V211M437.0,206.5H438.5M438.5,209.5H440.0M440.5,207V211M439.0,209.5H440.5M440.5,207.5H442.0M441.5,207V209M440.0,208.5H441.5M441.5,207.5H443.0M443.5,206V217M442.0,207.5H443.5M443.5,215.5H445.0M444.5,212V217M443.0,215.5H444.5M444.5,214.5H446.0M445.5,210V216M444.0,214.5H445.5M445.5,211.5H447.0M447.5,205V213M446.0,211.5H447.5M447.5,206.5H449.0M448.5,204V208M447.0,206.5H448.5M448.5,204.5H450.0M450.5,203V207M449.0,204.5H450.5M450.5,204.5H452.0M451.5,202V208M450.0,203.5H451.5M451.5,207.5H453.0M452.5,202V209M451.0,207.5H452.5M452.5,203.5H454.0M454.5,202V209M453.0,203.5H454.5M454.5,207.5H456.0M455.5,205V211M454.0,207.5H455.5M455.5,209.5H457.0M457.5,208V220M456.0,209.5H457.5M457.5,217.5H459.0M458.5,215V230M457.0,217.5H458.5M458.5,220.5H460.0M459.5,206V222M458.0,219.5H459.5M459.5,209.5H461.0M461.5,200V213M460.0,209.5H461.5M461.5,202.5H463.0M462.5,199V204M461.0,202.5H462.5M462.5,200.5H464.0M463.5,198V202M462.0,200.5H463.5M463.5,199.5H465.0M465.5,195V202M464.0,200.5H465.5M465.5,196.5H467.0M466.5,194V198M465.0,197.5H466.5M466.5,195.5H468.0M468.5,194V200M467.0,195.5H468.5M468.5,194.5H470.0M469.5,193V206M468.0,195.5H469.5M469.5,204.5H471.0M470.5,192V205M469.0,204.5H470.5M470.5,195.5H472.0M472.5,191V198M471.0,196.5H472.5M472.5,193.5H474.0M473.5,192V200M472.0,194.5H473.5M473.5,197.5H475.0M475.5,197V203M474.0,197.5H475.5M475.5,199.5H477.0M476.5,197V204M475.0,198.5H476.5M476.5,202.5H478.0M477.5,197V205M476.0,202.5H477.5M477.5,198.5H479.0M479.5,197V208M478.0,198.5H479.5M479.5,205.5H481.0M480.5,195V208M479.0,206.5H480.5M480.5,197.5H482.0M482.5,190V200M481.0,197.5H482.5M482.5,191.5H484.0M483.5,188V193M482.0,191.5H483.5M483.5,190.5H485.0M484.5,188V192M483.0,190.5H484.5M484.5,190.5H486.0M486.5,189V197M485.0,190.5H486.5M486.5,195.5H488.0M487.5,194V199M486.0,195.5H487.5M487.5,197.5H489.0M488.5,189V200M487.0,197.5H488.5M488.5,190.5H490.0M490.5,188V198M489.0,190.5H490.5M490.5,196.5H492.0M491.5,193V198M490.0,195.5H491.5M491.5,195.5H493.0M493.5,190V197M492.0,195.5H493.5M493.5,191.5H495.0M494.5,188V195M493.0,190.5H494.5M494.5,194.5H496.0M495.5,188V197M494.0,194.5H495.5M495.5,189.5H497.0M497.5,188V192M496.0,189.5H497.5M497.5,190.5H499.0M498.5,187V192M497.0,190.5H498.5M498.5,189.5H500.0M500.5,187V192M499.0,189.5H500.5M500.5,188.5H502.0M501.5,186V190M500.0,187.5H501.5M501.5,188.5H503.0M502.5,187V193M501.0,187.5H502.5M502.5,190.5H504.0M504.5,188V194M503.0,190.5H504.5M504.5,192.5H506.0M505.5,191V194M504.0,192.5H505.5M505.5,192.5H507.0M507.5,189V193M506.0,190.5H507.5M507.5,190.5H509.0M508.5,188V194M507.0,189.5H508.5M508.5,191.5H510.0M509.5,190V196M508.0,191.5H509.5M509.5,194.5H511.0M511.5,194V197M510.0,194.5H511.5M511.5,194.5H513.0M512.5,186V194M511.0,193.5H512.5M512.5,187.5H514.0M513.5,186V196M512.0,188.5H513.5M513.5,194.5H515.0M515.5,187V196M514.0,193.5H515.5M515.5,190.5H517.0M516.5,185V199M515.0,190.5H516.5M516.5,194.5H518.0M518.5,189V197M517.0,194.5H518.5M518.5,192.5H520.0M519.5,187V211M518.0,193.5H519.5M519.5,208.5H521.0M520.5,205V223M519.0,208.5H520.5M520.5,206.5H522.0M522.5,204V220M521.0,206.5H522.5M522.5,215.5H524.0M523.5,208V217M522.0,215.5H523.5M523.5,210.5H525.0M525.5,208V212M524.0,209.5H525.5M525.5,210.5H527.0M526.5,207V218M525.0,210.5H526.5M526.5,214.5H528.0M527.5,210V217M526.0,213.5H527.5M527.5,211.5H529.0M529.5,201V214M528.0,211.5H529.5M529.5,203.5H531.0M530.5,198V206M529.0,203.5H530.5M530.5,200.5H532.0M532.5,192V203M531.0,200.5H532.5M532.5,194.5H534.0M533.5,192V197M532.0,195.5H533.5M533.5,194.5H535.0M534.5,188V196M533.0,193.5H534.5M534.5,191.5H536.0M536.5,190V204M535.0,192.5H536.5M536.5,201.5H538.0M537.5,191V207M536.0,202.5H537.5M537.5,193.5H539.0M538.5,191V197M537.0,192.5H538.5M538.5,192.5H540.0M540.5,190V197M539.0,193.5H540.5M540.5,192.5H542.0M541.5,190V206M540.0,192.5H541.5M541.5,203.5H543.0M543.5,202V208M542.0,204.5H543.5M543.5,204.5H545.0M544.5,194V207M543.0,204.5H544.5M544.5,196.5H546.0M545.5,195V203M544.0,196.5H545.5M545.5,199.5H547.0M547.5,197V218M546.0,198.5H547.5M547.5,215.5H549.0M548.5,213V223M547.0,215.5H548.5M548.5,221.5H550.0M550.5,215V231M549.0,221.5H550.5M550.5,217.5H552.0M551.5,210V223M550.0,218.5H551.5M551.5,213.5H553.0M552.5,209V225M551.0,212.5H552.5M552.5,221.5H554.0M554.5,219V231M553.0,220.5H554.5M554.5,223.5H556.0M555.5,210V224M554.0,222.5H555.5M555.5,216.5H557.0M557.5,209V218M556.0,216.5H557.5M557.5,212.5H559.0M558.5,202V216M557.0,212.5H558.5M558.5,205.5H560.0M559.5,199V208M558.0,205.5H559.5M559.5,202.5H561.0M561.5,195V204M560.0,201.5H561.5M561.5,198.5H563.0M562.5,194V202M561.0,197.5H562.5M562.5,200.5H564.0M563.5,192V202M562.0,201.5H563.5M563.5,195.5H565.0M565.5,193V201M564.0,195.5H565.5M565.5,198.5H567.0M566.5,191V201M565.0,198.5H566.5M566.5,194.5H568.0M568.5,191V198M567.0,195.5H568.5M568.5,192.5H570.0M569.5,191V198M568.0,193.5H569.5M569.5,196.5H571.0M570.5,194V201M569.0,196.5H570.5M570.5,197.5H572.0M572.5,196V200M571.0,197.5H572.5M572.5,198.5H574.0M573.5,197V202M572.0,199.5H573.5M573.5,197.5H575.0M575.5,189V199M574.0,197.5H575.5M575.5,191.5H577.0M576.5,189V193M575.0,191.5H576.5M576.5,191.5H578.0M577.5,190V194M576.0,191.5H577.5M577.5,192.5H579.0M579.5,190V198M578.0,191.5H579.5M579.5,195.5H581.0M580.5,192V201M579.0,194.5H580.5M580.5,200.5H582.0M582.5,190V202M581.0,199.5H582.5M582.5,191.5H584.0M583.5,186V193M582.0,191.5H583.5M583.5,187.5H585.0M584.5,181V190M583.0,187.5H584.5M584.5,183.5H586.0M586.5,180V186M585.0,183.5H586.5M586.5,181.5H588.0M587.5,179V183M586.0,182.5H587.5M587.5,181.5H589.0M588.5,179V185M587.0,181.5H588.5M588.5,180.5H590.0M590.5,178V183M589.0,180.5H590.5M590.5,180.5H592.0M591.5,178V183M590.0,179.5H591.5M591.5,180.5H593.0M593.5,179V183M592.0,181.5H593.5M593.5,182.5H595.0M594.5,179V184M593.0,182.5H594.5M594.5,180.5H596.0M595.5,179V190M594.0,180.5H595.5M595.5,187.5H597.0M597.5,185V189M596.0,187.5H597.5M597.5,186.5H599.0M598.5,181V188M597.0,186.5H598.5M598.5,182.5H600.0M600.5,181V184M599.0,182.5H600.5M600.5,182.5H602.0M601.5,180V185M600.0,182.5H601.5M601.5,184.5H603.0M602.5,183V189M601.0,183.5H602.5M602.5,187.5H604.0M604.5,185V189M603.0,186.5H604.5M604.5,185.5H606.0M605.5,184V190M604.0,186.5H605.5M605.5,188.5H607.0M607.5,187V195M606.0,188.5H607.5M607.5,193.5H609.0M608.5,180V195M607.0,193.5H608.5M608.5,182.5H610.0M609.5,178V186M608.0,184.5H609.5M609.5,180.5H611.0M611.5,174V183M610.0,181.5H611.5M611.5,176.5H613.0M612.5,174V181M611.0,176.5H612.5M612.5,179.5H614.0M613.5,169V181M612.0,180.5H613.5M613.5,169.5H615.0M615.5,167V171M614.0,169.5H615.5M615.5,170.5H617.0M616.5,168V172M615.0,170.5H616.5M616.5,169.5H618.0M618.5,169V174M617.0,170.5H618.5M618.5,172.5H620.0M619.5,167V175M618.0,172.5H619.5M619.5,167.5H621.0M620.5,167V169M619.0,167.5H620.5M620.5,167.5H622.0M622.5,165V170M621.0,167.5H622.5M622.5,168.5H624.0M623.5,163V171M622.0,168.5H623.5M623.5,165.5H625.0M625.5,163V167M624.0,165.5H625.5M625.5,164.5H627.0M626.5,161V168M625.0,165.5H626.5M626.5,162.5H628.0M627.5,156V165M626.0,162.5H627.5M627.5,157.5H629.0M629.5,154V160M628.0,157.5H629.5M629.5,155.5H631.0M630.5,151V156M629.0,155.5H630.5M630.5,153.5H632.0M632.5,150V156M631.0,153.5H632.5M632.5,154.5H634.0M633.5,152V156M632.0,155.5H633.5M633.5,154.5H635.0M634.5,154V160M633.0,154.5H634.5M634.5,158.5H636.0M636.5,155V160M635.0,158.5H636.5M636.5,156.5H638.0M637.5,155V158M636.0,156.5H637.5M637.5,157.5H639.0M638.5,156V162M637.0,157.5H638.5M638.5,160.5H640.0M640.5,155V162M639.0,160.5H640.5M640.5,157.5H642.0M641.5,151V159M640.0,158.5H641.5M641.5,153.5H643.0M643.5,149V154M642.0,153.5H643.5M643.5,151.5H645.0M644.5,149V155M643.0,150.5H644.5M644.5,152.5H646.0M645.5,151V155M644.0,152.5H645.5M645.5,153.5H647.0M647.5,148V153M646.0,152.5H647.5M647.5,148.5H649.0M648.5,144V151M647.0,149.5H648.5M648.5,145.5H650.0M650.5,144V148M649.0,145.5H650.5M650.5,146.5H652.0M651.5,145V149M650.0,146.5H651.5M651.5,146.5H653.0" stroke="#000" stroke-width="1" fill="none" shape-rendering="crispEdges"/><line x1="469.4" y1="192.7" x2="507.5" y2="184.2" stroke="#6ec6ee" stroke-width="2"/><line x1="476.8" y1="208.7" x2="512.4" y2="198.4" stroke="#6ec6ee" stroke-width="2"/><g shape-rendering="crispEdges"><rect x="39" y="451.98" width="2" height="3.22" fill="#6a6a6a" fill-opacity="0.9"/><rect x="40" y="450.51" width="2" height="4.69" fill="#6a6a6a" fill-opacity="0.9"/><rect x="41" y="450.52" width="2" height="4.68" fill="#6a6a6a" fill-opacity="0.9"/><rect x="43" y="450.76" width="2" height="4.44" fill="#6a6a6a" fill-opacity="0.9"/><rect x="44" y="450.77" width="2" height="4.43" fill="#6a6a6a" fill-opacity="0.9"/><rect x="45" y="449.09" width="2" height="6.11" fill="#6a6a6a" fill-opacity="0.9"/><rect x="47" y="449.13" width="2" height="6.07" fill="#6a6a6a" fill-opacity="0.9"/><rect x="48" y="450.73" width="2" height="4.47" fill="#6a6a6a" fill-opacity="0.9"/><rect x="50" y="452.53" width="2" height="2.67" fill="#6a6a6a" fill-opacity="0.9"/><rect x="51" y="453.20" width="2" height="3.70" fill="#7676a6" fill-opacity="0.9"/><rect x="52" y="453.20" width="2" height="2.36" fill="#7676a6" fill-opacity="0.9"/><rect x="54" y="451.89" width="2" height="3.31" fill="#6a6a6a" fill-opacity="0.9"/><rect x="55" y="449.00" width="2" height="6.20" fill="#6a6a6a" fill-opacity="0.9"/><rect x="57" y="446.14" width="2" height="9.06" fill="#6a6a6a" fill-opacity="0.9"/><rect x="58" y="443.87" width="2" height="11.33" fill="#6a6a6a" fill-opacity="0.9"/><rect x="59" y="442.14" width="2" height="13.06" fill="#6a6a6a" fill-opacity="0.9"/><rect x="61" y="441.37" width="2" height="13.83" fill="#6a6a6a" fill-opacity="0.9"/><rect x="62" y="440.83" width="2" height="14.37" fill="#6a6a6a" fill-opacity="0.9"/><rect x="64" y="439.20" width="2" height="16.00" fill="#6a6a6a" fill-opacity="0.9"/><rect x="65" y="440.12" width="2" height="15.08" fill="#6a6a6a" fill-opacity="0.9"/><rect x="66" y="440.98" width="2" height="14.22" fill="#6a6a6a" fill-opacity="0.9"/><rect x="68" y="440.94" width="2" height="14.26" fill="#6a6a6a" fill-opacity="0.9"/><rect x="69" y="440.70" width="2" height="14.50" fill="#6a6a6a" fill-opacity="0.9"/><rect x="70" y="440.87" width="2" height="14.33" fill="#6a6a6a" fill-opacity="0.9"/><rect x="72" y="442.27" width="2" height="12.93" fill="#6a6a6a" fill-opacity="0.9"/><rect x="73" y="443.71" width="2" height="11.49" fill="#6a6a6a" fill-opacity="0.9"/><rect x="75" y="445.72" width="2" height="9.48" fill="#6a6a6a" fill-opacity="0.9"/><rect x="76" y="447.84" width="2" height="7.36" fill="#6a6a6a" fill-opacity="0.9"/><rect x="77" y="447.48" width="2" height="7.72" fill="#6a6a6a" fill-opacity="0.9"/><rect x="79" y="446.28" width="2" height="8.92" fill="#6a6a6a" fill-opacity="0.9"/><rect x="80" y="445.61" width="2" height="9.59" fill="#6a6a6a" fill-opacity="0.9"/><rect x="82" y="444.86" width="2" height="10.34" fill="#6a6a6a" fill-opacity="0.9"/><rect x="83" y="445.00" width="2" height="10.20" fill="#6a6a6a" fill-opacity="0.9"/><rect x="84" y="444.88" width="2" height="10.32" fill="#6a6a6a" fill-opacity="0.9"/><rect x="86" y="445.19" width="2" height="10.01" fill="#6a6a6a" fill-opacity="0.9"/><rect x="87" y="446.29" width="2" height="8.91" fill="#6a6a6a" fill-opacity="0.9"/><rect x="89" y="446.60" width="2" height="8.60" fill="#6a6a6a" fill-opacity="0.9"/><rect x="90" y="446.42" width="2" height="8.78" fill="#6a6a6a" fill-opacity="0.9"/><rect x="91" y="447.53" width="2" height="7.67" fill="#6a6a6a" fill-opacity="0.9"/><rect x="93" y="449.25" width="2" height="5.95" fill="#6a6a6a" fill-opacity="0.9"/><rect x="94" y="449.22" width="2" height="5.98" fill="#6a6a6a" fill-opacity="0.9"/><rect x="95" y="449.05" width="2" height="6.15" fill="#6a6a6a" fill-opacity="0.9"/><rect x="97" y="449.53" width="2" height="5.67" fill="#6a6a6a" fill-opacity="0.9"/><rect x="98" y="451.57" width="2" height="3.63" fill="#6a6a6a" fill-opacity="0.9"/><rect x="100" y="452.07" width="2" height="3.13" fill="#6a6a6a" fill-opacity="0.9"/><rect x="101" y="451.85" width="2" height="3.35" fill="#6a6a6a" fill-opacity="0.9"/><rect x="102" y="452.01" width="2" height="3.19" fill="#6a6a6a" fill-opacity="0.9"/><rect x="104" y="452.35" width="2" height="2.85" fill="#6a6a6a" fill-opacity="0.9"/><rect x="105" y="452.35" width="2" height="2.85" fill="#6a6a6a" fill-opacity="0.9"/><rect x="107" y="452.53" width="2" height="2.67" fill="#6a6a6a" fill-opacity="0.9"/><rect x="108" y="452.99" width="2" height="2.21" fill="#6a6a6a" fill-opacity="0.9"/><rect x="109" y="452.71" width="2" height="2.49" fill="#6a6a6a" fill-opacity="0.9"/><rect x="111" y="453.09" width="2" height="2.11" fill="#6a6a6a" fill-opacity="0.9"/><rect x="112" y="452.57" width="2" height="2.63" fill="#6a6a6a" fill-opacity="0.9"/><rect x="114" y="452.74" width="2" height="2.46" fill="#6a6a6a" fill-opacity="0.9"/><rect x="115" y="453.20" width="2" height="3.27" fill="#7676a6" fill-opacity="0.9"/><rect x="116" y="453.20" width="2" height="5.01" fill="#7676a6" fill-opacity="0.9"/><rect x="118" y="453.20" width="2" height="6.36" fill="#7676a6" fill-opacity="0.9"/><rect x="119" y="453.20" width="2" height="6.86" fill="#7676a6" fill-opacity="0.9"/><rect x="120" y="453.20" width="2" height="6.00" fill="#7676a6" fill-opacity="0.9"/><rect x="122" y="453.20" width="2" height="5.56" fill="#7676a6" fill-opacity="0.9"/><rect x="123" y="453.20" width="2" height="4.15" fill="#7676a6" fill-opacity="0.9"/><rect x="125" y="453.20" width="2" height="2.92" fill="#7676a6" fill-opacity="0.9"/><rect x="126" y="453.10" width="2" height="2.10" fill="#6a6a6a" fill-opacity="0.9"/><rect x="127" y="452.38" width="2" height="2.82" fill="#6a6a6a" fill-opacity="0.9"/><rect x="129" y="451.76" width="2" height="3.44" fill="#6a6a6a" fill-opacity="0.9"/><rect x="130" y="451.07" width="2" height="4.13" fill="#6a6a6a" fill-opacity="0.9"/><rect x="132" y="450.96" width="2" height="4.24" fill="#6a6a6a" fill-opacity="0.9"/><rect x="133" y="450.36" width="2" height="4.84" fill="#6a6a6a" fill-opacity="0.9"/><rect x="134" y="451.23" width="2" height="3.97" fill="#6a6a6a" fill-opacity="0.9"/><rect x="136" y="453.20" width="2" height="3.22" fill="#7676a6" fill-opacity="0.9"/><rect x="137" y="453.20" width="2" height="4.52" fill="#7676a6" fill-opacity="0.9"/><rect x="139" y="453.20" width="2" height="6.87" fill="#7676a6" fill-opacity="0.9"/><rect x="140" y="453.20" width="2" height="8.18" fill="#7676a6" fill-opacity="0.9"/><rect x="141" y="453.20" width="2" height="9.59" fill="#7676a6" fill-opacity="0.9"/><rect x="143" y="453.20" width="2" height="9.30" fill="#7676a6" fill-opacity="0.9"/><rect x="144" y="453.20" width="2" height="8.03" fill="#7676a6" fill-opacity="0.9"/><rect x="145" y="453.20" width="2" height="8.29" fill="#7676a6" fill-opacity="0.9"/><rect x="147" y="453.20" width="2" height="9.87" fill="#7676a6" fill-opacity="0.9"/><rect x="148" y="453.20" width="2" height="8.74" fill="#7676a6" fill-opacity="0.9"/><rect x="150" y="453.20" width="2" height="8.10" fill="#7676a6" fill-opacity="0.9"/><rect x="151" y="453.20" width="2" height="6.20" fill="#7676a6" fill-opacity="0.9"/><rect x="152" y="453.20" width="2" height="4.82" fill="#7676a6" fill-opacity="0.9"/><rect x="154" y="453.20" width="2" height="3.18" fill="#7676a6" fill-opacity="0.9"/><rect x="155" y="453.20" width="2" height="3.43" fill="#7676a6" fill-opacity="0.9"/><rect x="157" y="453.20" width="2" height="3.76" fill="#7676a6" fill-opacity="0.9"/><rect x="158" y="453.20" width="2" height="4.04" fill="#7676a6" fill-opacity="0.9"/><rect x="159" y="453.20" width="2" height="2.84" fill="#7676a6" fill-opacity="0.9"/><rect x="161" y="453.06" width="2" height="2.14" fill="#6a6a6a" fill-opacity="0.9"/><rect x="162" y="451.93" width="2" height="3.27" fill="#6a6a6a" fill-opacity="0.9"/><rect x="163" y="450.55" width="2" height="4.65" fill="#6a6a6a" fill-opacity="0.9"/><rect x="165" y="449.87" width="2" height="5.33" fill="#6a6a6a" fill-opacity="0.9"/><rect x="166" y="449.02" width="2" height="6.18" fill="#6a6a6a" fill-opacity="0.9"/><rect x="168" y="448.39" width="2" height="6.81" fill="#6a6a6a" fill-opacity="0.9"/><rect x="169" y="448.05" width="2" height="7.15" fill="#6a6a6a" fill-opacity="0.9"/><rect x="170" y="448.13" width="2" height="7.07" fill="#6a6a6a" fill-opacity="0.9"/><rect x="172" y="447.17" width="2" height="8.03" fill="#6a6a6a" fill-opacity="0.9"/><rect x="173" y="447.75" width="2" height="7.45" fill="#6a6a6a" fill-opacity="0.9"/><rect x="175" y="448.47" width="2" height="6.73" fill="#6a6a6a" fill-opacity="0.9"/><rect x="176" y="449.56" width="2" height="5.64" fill="#6a6a6a" fill-opacity="0.9"/><rect x="177" y="449.42" width="2" height="5.78" fill="#6a6a6a" fill-opacity="0.9"/><rect x="179" y="449.11" width="2" height="6.09" fill="#6a6a6a" fill-opacity="0.9"/><rect x="180" y="449.12" width="2" height="6.08" fill="#6a6a6a" fill-opacity="0.9"/><rect x="182" y="449.03" width="2" height="6.17" fill="#6a6a6a" fill-opacity="0.9"/><rect x="183" y="449.29" width="2" height="5.91" fill="#6a6a6a" fill-opacity="0.9"/><rect x="184" y="449.35" width="2" height="5.85" fill="#6a6a6a" fill-opacity="0.9"/><rect x="186" y="449.06" width="2" height="6.14" fill="#6a6a6a" fill-opacity="0.9"/><rect x="187" y="449.57" width="2" height="5.63" fill="#6a6a6a" fill-opacity="0.9"/><rect x="188" y="450.45" width="2" height="4.75" fill="#6a6a6a" fill-opacity="0.9"/><rect x="190" y="450.21" width="2" height="4.99" fill="#6a6a6a" fill-opacity="0.9"/><rect x="191" y="449.82" width="2" height="5.38" fill="#6a6a6a" fill-opacity="0.9"/><rect x="193" y="449.49" width="2" height="5.71" fill="#6a6a6a" fill-opacity="0.9"/><rect x="194" y="450.38" width="2" height="4.82" fill="#6a6a6a" fill-opacity="0.9"/><rect x="195" y="451.26" width="2" height="3.94" fill="#6a6a6a" fill-opacity="0.9"/><rect x="197" y="452.64" width="2" height="2.56" fill="#6a6a6a" fill-opacity="0.9"/><rect x="198" y="453.20" width="2" height="3.32" fill="#7676a6" fill-opacity="0.9"/><rect x="200" y="453.20" width="2" height="3.52" fill="#7676a6" fill-opacity="0.9"/><rect x="201" y="453.20" width="2" height="3.19" fill="#7676a6" fill-opacity="0.9"/><rect x="202" y="453.20" width="2" height="3.21" fill="#7676a6" fill-opacity="0.9"/><rect x="204" y="453.20" width="2" height="3.63" fill="#7676a6" fill-opacity="0.9"/><rect x="205" y="453.20" width="2" height="3.45" fill="#7676a6" fill-opacity="0.9"/><rect x="207" y="453.20" width="2" height="2.59" fill="#7676a6" fill-opacity="0.9"/><rect x="208" y="453.20" width="2" height="2.96" fill="#7676a6" fill-opacity="0.9"/><rect x="209" y="453.20" width="2" height="3.38" fill="#7676a6" fill-opacity="0.9"/><rect x="211" y="453.20" width="2" height="3.90" fill="#7676a6" fill-opacity="0.9"/><rect x="212" y="453.20" width="2" height="4.35" fill="#7676a6" fill-opacity="0.9"/><rect x="213" y="453.20" width="2" height="5.66" fill="#7676a6" fill-opacity="0.9"/><rect x="215" y="453.20" width="2" height="7.35" fill="#7676a6" fill-opacity="0.9"/><rect x="216" y="453.20" width="2" height="8.27" fill="#7676a6" fill-opacity="0.9"/><rect x="218" y="453.20" width="2" height="8.75" fill="#7676a6" fill-opacity="0.9"/><rect x="219" y="453.20" width="2" height="6.53" fill="#7676a6" fill-opacity="0.9"/><rect x="220" y="453.20" width="2" height="4.89" fill="#7676a6" fill-opacity="0.9"/><rect x="222" y="453.20" width="2" height="4.68" fill="#7676a6" fill-opacity="0.9"/><rect x="223" y="453.20" width="2" height="3.59" fill="#7676a6" fill-opacity="0.9"/><rect x="225" y="453.20" width="2" height="4.58" fill="#7676a6" fill-opacity="0.9"/><rect x="226" y="453.20" width="2" height="8.07" fill="#7676a6" fill-opacity="0.9"/><rect x="227" y="453.20" width="2" height="10.63" fill="#7676a6" fill-opacity="0.9"/><rect x="229" y="453.20" width="2" height="13.60" fill="#7676a6" fill-opacity="0.9"/><rect x="230" y="453.20" width="2" height="13.17" fill="#7676a6" fill-opacity="0.9"/><rect x="232" y="453.20" width="2" height="12.41" fill="#7676a6" fill-opacity="0.9"/><rect x="233" y="453.20" width="2" height="11.98" fill="#7676a6" fill-opacity="0.9"/><rect x="234" y="453.20" width="2" height="9.19" fill="#7676a6" fill-opacity="0.9"/><rect x="236" y="453.20" width="2" height="9.51" fill="#7676a6" fill-opacity="0.9"/><rect x="237" y="453.20" width="2" height="9.40" fill="#7676a6" fill-opacity="0.9"/><rect x="238" y="453.20" width="2" height="8.08" fill="#7676a6" fill-opacity="0.9"/><rect x="240" y="453.20" width="2" height="4.64" fill="#7676a6" fill-opacity="0.9"/><rect x="241" y="452.99" width="2" height="2.21" fill="#6a6a6a" fill-opacity="0.9"/><rect x="243" y="449.61" width="2" height="5.59" fill="#6a6a6a" fill-opacity="0.9"/><rect x="244" y="448.58" width="2" height="6.62" fill="#6a6a6a" fill-opacity="0.9"/><rect x="245" y="447.75" width="2" height="7.45" fill="#6a6a6a" fill-opacity="0.9"/><rect x="247" y="448.91" width="2" height="6.29" fill="#6a6a6a" fill-opacity="0.9"/><rect x="248" y="451.58" width="2" height="3.62" fill="#6a6a6a" fill-opacity="0.9"/><rect x="250" y="450.58" width="2" height="4.62" fill="#6a6a6a" fill-opacity="0.9"/><rect x="251" y="449.68" width="2" height="5.52" fill="#6a6a6a" fill-opacity="0.9"/><rect x="252" y="450.37" width="2" height="4.83" fill="#6a6a6a" fill-opacity="0.9"/><rect x="254" y="449.44" width="2" height="5.76" fill="#6a6a6a" fill-opacity="0.9"/><rect x="255" y="449.23" width="2" height="5.97" fill="#6a6a6a" fill-opacity="0.9"/><rect x="257" y="448.64" width="2" height="6.56" fill="#6a6a6a" fill-opacity="0.9"/><rect x="258" y="448.13" width="2" height="7.07" fill="#6a6a6a" fill-opacity="0.9"/><rect x="259" y="447.25" width="2" height="7.95" fill="#6a6a6a" fill-opacity="0.9"/><rect x="261" y="446.97" width="2" height="8.23" fill="#6a6a6a" fill-opacity="0.9"/><rect x="262" y="446.22" width="2" height="8.98" fill="#6a6a6a" fill-opacity="0.9"/><rect x="263" y="446.21" width="2" height="8.99" fill="#6a6a6a" fill-opacity="0.9"/><rect x="265" y="446.01" width="2" height="9.19" fill="#6a6a6a" fill-opacity="0.9"/><rect x="266" y="446.20" width="2" height="9.00" fill="#6a6a6a" fill-opacity="0.9"/><rect x="268" y="446.63" width="2" height="8.57" fill="#6a6a6a" fill-opacity="0.9"/><rect x="269" y="447.34" width="2" height="7.86" fill="#6a6a6a" fill-opacity="0.9"/><rect x="270" y="447.12" width="2" height="8.08" fill="#6a6a6a" fill-opacity="0.9"/><rect x="272" y="447.64" width="2" height="7.56" fill="#6a6a6a" fill-opacity="0.9"/><rect x="273" y="448.04" width="2" height="7.16" fill="#6a6a6a" fill-opacity="0.9"/><rect x="275" y="449.02" width="2" height="6.18" fill="#6a6a6a" fill-opacity="0.9"/><rect x="276" y="450.89" width="2" height="4.31" fill="#6a6a6a" fill-opacity="0.9"/><rect x="277" y="452.05" width="2" height="3.15" fill="#6a6a6a" fill-opacity="0.9"/><rect x="279" y="452.25" width="2" height="2.95" fill="#6a6a6a" fill-opacity="0.9"/><rect x="280" y="453.20" width="2" height="2.45" fill="#7676a6" fill-opacity="0.9"/><rect x="282" y="453.20" width="2" height="3.97" fill="#7676a6" fill-opacity="0.9"/><rect x="283" y="453.20" width="2" height="6.80" fill="#7676a6" fill-opacity="0.9"/><rect x="284" y="453.20" width="2" height="7.75" fill="#7676a6" fill-opacity="0.9"/><rect x="286" y="453.20" width="2" height="9.43" fill="#7676a6" fill-opacity="0.9"/><rect x="287" y="453.20" width="2" height="8.73" fill="#7676a6" fill-opacity="0.9"/><rect x="288" y="453.20" width="2" height="7.47" fill="#7676a6" fill-opacity="0.9"/><rect x="290" y="453.20" width="2" height="6.73" fill="#7676a6" fill-opacity="0.9"/><rect x="291" y="453.20" width="2" height="5.25" fill="#7676a6" fill-opacity="0.9"/><rect x="293" y="453.20" width="2" height="4.47" fill="#7676a6" fill-opacity="0.9"/><rect x="294" y="453.20" width="2" height="3.82" fill="#7676a6" fill-opacity="0.9"/><rect x="295" y="453.20" width="2" height="3.19" fill="#7676a6" fill-opacity="0.9"/><rect x="297" y="453.20" width="2" height="2.07" fill="#7676a6" fill-opacity="0.9"/><rect x="298" y="452.46" width="2" height="2.74" fill="#6a6a6a" fill-opacity="0.9"/><rect x="300" y="451.60" width="2" height="3.60" fill="#6a6a6a" fill-opacity="0.9"/><rect x="301" y="450.81" width="2" height="4.39" fill="#6a6a6a" fill-opacity="0.9"/><rect x="302" y="450.72" width="2" height="4.48" fill="#6a6a6a" fill-opacity="0.9"/><rect x="304" y="450.99" width="2" height="4.21" fill="#6a6a6a" fill-opacity="0.9"/><rect x="305" y="450.42" width="2" height="4.78" fill="#6a6a6a" fill-opacity="0.9"/><rect x="307" y="449.37" width="2" height="5.83" fill="#6a6a6a" fill-opacity="0.9"/><rect x="308" y="449.20" width="2" height="6.00" fill="#6a6a6a" fill-opacity="0.9"/><rect x="309" y="450.00" width="2" height="5.20" fill="#6a6a6a" fill-opacity="0.9"/><rect x="311" y="450.15" width="2" height="5.05" fill="#6a6a6a" fill-opacity="0.9"/><rect x="312" y="451.56" width="2" height="3.64" fill="#6a6a6a" fill-opacity="0.9"/><rect x="313" y="452.49" width="2" height="2.71" fill="#6a6a6a" fill-opacity="0.9"/><rect x="315" y="453.20" width="2" height="2.70" fill="#7676a6" fill-opacity="0.9"/><rect x="316" y="453.20" width="2" height="3.60" fill="#7676a6" fill-opacity="0.9"/><rect x="318" y="453.20" width="2" height="5.26" fill="#7676a6" fill-opacity="0.9"/><rect x="319" y="453.20" width="2" height="6.91" fill="#7676a6" fill-opacity="0.9"/><rect x="320" y="453.20" width="2" height="6.21" fill="#7676a6" fill-opacity="0.9"/><rect x="322" y="453.20" width="2" height="5.41" fill="#7676a6" fill-opacity="0.9"/><rect x="323" y="453.20" width="2" height="4.75" fill="#7676a6" fill-opacity="0.9"/><rect x="325" y="453.20" width="2" height="4.43" fill="#7676a6" fill-opacity="0.9"/><rect x="326" y="453.20" width="2" height="3.63" fill="#7676a6" fill-opacity="0.9"/><rect x="327" y="453.20" width="2" height="3.99" fill="#7676a6" fill-opacity="0.9"/><rect x="329" y="453.20" width="2" height="2.16" fill="#7676a6" fill-opacity="0.9"/><rect x="330" y="452.07" width="2" height="3.13" fill="#6a6a6a" fill-opacity="0.9"/><rect x="332" y="450.95" width="2" height="4.25" fill="#6a6a6a" fill-opacity="0.9"/><rect x="333" y="449.89" width="2" height="5.31" fill="#6a6a6a" fill-opacity="0.9"/><rect x="334" y="449.17" width="2" height="6.03" fill="#6a6a6a" fill-opacity="0.9"/><rect x="336" y="448.85" width="2" height="6.35" fill="#6a6a6a" fill-opacity="0.9"/><rect x="337" y="448.91" width="2" height="6.29" fill="#6a6a6a" fill-opacity="0.9"/><rect x="338" y="449.40" width="2" height="5.80" fill="#6a6a6a" fill-opacity="0.9"/><rect x="340" y="449.96" width="2" height="5.24" fill="#6a6a6a" fill-opacity="0.9"/><rect x="341" y="449.56" width="2" height="5.64" fill="#6a6a6a" fill-opacity="0.9"/><rect x="343" y="449.32" width="2" height="5.88" fill="#6a6a6a" fill-opacity="0.9"/><rect x="344" y="449.66" width="2" height="5.54" fill="#6a6a6a" fill-opacity="0.9"/><rect x="345" y="449.80" width="2" height="5.40" fill="#6a6a6a" fill-opacity="0.9"/><rect x="347" y="450.72" width="2" height="4.48" fill="#6a6a6a" fill-opacity="0.9"/><rect x="348" y="450.48" width="2" height="4.72" fill="#6a6a6a" fill-opacity="0.9"/><rect x="350" y="451.68" width="2" height="3.52" fill="#6a6a6a" fill-opacity="0.9"/><rect x="351" y="451.83" width="2" height="3.37" fill="#6a6a6a" fill-opacity="0.9"/><rect x="352" y="451.16" width="2" height="4.04" fill="#6a6a6a" fill-opacity="0.9"/><rect x="354" y="450.40" width="2" height="4.80" fill="#6a6a6a" fill-opacity="0.9"/><rect x="355" y="449.21" width="2" height="5.99" fill="#6a6a6a" fill-opacity="0.9"/><rect x="357" y="449.40" width="2" height="5.80" fill="#6a6a6a" fill-opacity="0.9"/><rect x="358" y="450.51" width="2" height="4.69" fill="#6a6a6a" fill-opacity="0.9"/><rect x="359" y="451.18" width="2" height="4.02" fill="#6a6a6a" fill-opacity="0.9"/><rect x="361" y="452.46" width="2" height="2.74" fill="#6a6a6a" fill-opacity="0.9"/><rect x="362" y="453.20" width="2" height="3.34" fill="#7676a6" fill-opacity="0.9"/><rect x="363" y="453.20" width="2" height="4.38" fill="#7676a6" fill-opacity="0.9"/><rect x="365" y="453.20" width="2" height="4.29" fill="#7676a6" fill-opacity="0.9"/><rect x="366" y="453.20" width="2" height="2.78" fill="#7676a6" fill-opacity="0.9"/><rect x="368" y="452.83" width="2" height="2.37" fill="#6a6a6a" fill-opacity="0.9"/><rect x="369" y="452.34" width="2" height="2.86" fill="#6a6a6a" fill-opacity="0.9"/><rect x="370" y="451.70" width="2" height="3.50" fill="#6a6a6a" fill-opacity="0.9"/><rect x="372" y="452.19" width="2" height="3.01" fill="#6a6a6a" fill-opacity="0.9"/><rect x="373" y="453.20" width="2" height="2.68" fill="#7676a6" fill-opacity="0.9"/><rect x="375" y="453.20" width="2" height="3.63" fill="#7676a6" fill-opacity="0.9"/><rect x="376" y="453.20" width="2" height="5.31" fill="#7676a6" fill-opacity="0.9"/><rect x="377" y="453.20" width="2" height="5.70" fill="#7676a6" fill-opacity="0.9"/><rect x="379" y="453.20" width="2" height="4.89" fill="#7676a6" fill-opacity="0.9"/><rect x="380" y="453.20" width="2" height="3.72" fill="#7676a6" fill-opacity="0.9"/><rect x="382" y="453.20" width="2" height="3.63" fill="#7676a6" fill-opacity="0.9"/><rect x="383" y="453.20" width="2" height="3.73" fill="#7676a6" fill-opacity="0.9"/><rect x="384" y="453.20" width="2" height="3.45" fill="#7676a6" fill-opacity="0.9"/><rect x="386" y="453.20" width="2" height="2.08" fill="#7676a6" fill-opacity="0.9"/><rect x="387" y="452.10" width="2" height="3.10" fill="#6a6a6a" fill-opacity="0.9"/><rect x="388" y="451.50" width="2" height="3.70" fill="#6a6a6a" fill-opacity="0.9"/><rect x="390" y="451.09" width="2" height="4.11" fill="#6a6a6a" fill-opacity="0.9"/><rect x="391" y="450.27" width="2" height="4.93" fill="#6a6a6a" fill-opacity="0.9"/><rect x="393" y="449.87" width="2" height="5.33" fill="#6a6a6a" fill-opacity="0.9"/><rect x="394" y="449.95" width="2" height="5.25" fill="#6a6a6a" fill-opacity="0.9"/><rect x="395" y="450.40" width="2" height="4.80" fill="#6a6a6a" fill-opacity="0.9"/><rect x="397" y="451.97" width="2" height="3.23" fill="#6a6a6a" fill-opacity="0.9"/><rect x="398" y="451.88" width="2" height="3.32" fill="#6a6a6a" fill-opacity="0.9"/><rect x="400" y="451.37" width="2" height="3.83" fill="#6a6a6a" fill-opacity="0.9"/><rect x="401" y="451.67" width="2" height="3.53" fill="#6a6a6a" fill-opacity="0.9"/><rect x="402" y="451.81" width="2" height="3.39" fill="#6a6a6a" fill-opacity="0.9"/><rect x="404" y="452.29" width="2" height="2.91" fill="#6a6a6a" fill-opacity="0.9"/><rect x="405" y="453.20" width="2" height="3.20" fill="#7676a6" fill-opacity="0.9"/><rect x="407" y="453.20" width="2" height="4.89" fill="#7676a6" fill-opacity="0.9"/><rect x="408" y="453.20" width="2" height="5.58" fill="#7676a6" fill-opacity="0.9"/><rect x="409" y="453.20" width="2" height="4.73" fill="#7676a6" fill-opacity="0.9"/><rect x="411" y="453.20" width="2" height="4.32" fill="#7676a6" fill-opacity="0.9"/><rect x="412" y="453.20" width="2" height="3.40" fill="#7676a6" fill-opacity="0.9"/><rect x="413" y="453.20" width="2" height="2.35" fill="#7676a6" fill-opacity="0.9"/><rect x="415" y="453.20" width="2" height="3.02" fill="#7676a6" fill-opacity="0.9"/><rect x="416" y="453.20" width="2" height="2.79" fill="#7676a6" fill-opacity="0.9"/><rect x="418" y="453.20" width="2" height="3.07" fill="#7676a6" fill-opacity="0.9"/><rect x="419" y="453.20" width="2" height="3.12" fill="#7676a6" fill-opacity="0.9"/><rect x="420" y="453.20" width="2" height="4.81" fill="#7676a6" fill-opacity="0.9"/><rect x="422" y="453.20" width="2" height="4.35" fill="#7676a6" fill-opacity="0.9"/><rect x="423" y="453.20" width="2" height="4.18" fill="#7676a6" fill-opacity="0.9"/><rect x="425" y="453.20" width="2" height="3.54" fill="#7676a6" fill-opacity="0.9"/><rect x="426" y="453.20" width="2" height="3.32" fill="#7676a6" fill-opacity="0.9"/><rect x="427" y="453.20" width="2" height="3.27" fill="#7676a6" fill-opacity="0.9"/><rect x="429" y="453.20" width="2" height="2.63" fill="#7676a6" fill-opacity="0.9"/><rect x="430" y="452.79" width="2" height="2.41" fill="#6a6a6a" fill-opacity="0.9"/><rect x="432" y="451.49" width="2" height="3.71" fill="#6a6a6a" fill-opacity="0.9"/><rect x="433" y="451.34" width="2" height="3.86" fill="#6a6a6a" fill-opacity="0.9"/><rect x="434" y="450.68" width="2" height="4.52" fill="#6a6a6a" fill-opacity="0.9"/><rect x="436" y="450.63" width="2" height="4.57" fill="#6a6a6a" fill-opacity="0.9"/><rect x="437" y="450.14" width="2" height="5.06" fill="#6a6a6a" fill-opacity="0.9"/><rect x="438" y="450.72" width="2" height="4.48" fill="#6a6a6a" fill-opacity="0.9"/><rect x="440" y="451.08" width="2" height="4.12" fill="#6a6a6a" fill-opacity="0.9"/><rect x="441" y="451.60" width="2" height="3.60" fill="#6a6a6a" fill-opacity="0.9"/><rect x="443" y="453.20" width="2" height="2.68" fill="#7676a6" fill-opacity="0.9"/><rect x="444" y="453.20" width="2" height="4.07" fill="#7676a6" fill-opacity="0.9"/><rect x="445" y="453.20" width="2" height="4.27" fill="#7676a6" fill-opacity="0.9"/><rect x="447" y="453.20" width="2" height="3.41" fill="#7676a6" fill-opacity="0.9"/><rect x="448" y="453.20" width="2" height="2.51" fill="#7676a6" fill-opacity="0.9"/><rect x="450" y="453.17" width="2" height="2.03" fill="#6a6a6a" fill-opacity="0.9"/><rect x="451" y="453.20" width="2" height="2.50" fill="#7676a6" fill-opacity="0.9"/><rect x="452" y="453.20" width="2" height="2.20" fill="#7676a6" fill-opacity="0.9"/><rect x="454" y="453.20" width="2" height="3.05" fill="#7676a6" fill-opacity="0.9"/><rect x="455" y="453.20" width="2" height="4.15" fill="#7676a6" fill-opacity="0.9"/><rect x="457" y="453.20" width="2" height="6.84" fill="#7676a6" fill-opacity="0.9"/><rect x="458" y="453.20" width="2" height="9.03" fill="#7676a6" fill-opacity="0.9"/><rect x="459" y="453.20" width="2" height="7.76" fill="#7676a6" fill-opacity="0.9"/><rect x="461" y="453.20" width="2" height="5.08" fill="#7676a6" fill-opacity="0.9"/><rect x="462" y="453.20" width="2" height="2.92" fill="#7676a6" fill-opacity="0.9"/><rect x="463" y="452.62" width="2" height="2.58" fill="#6a6a6a" fill-opacity="0.9"/><rect x="465" y="451.04" width="2" height="4.16" fill="#6a6a6a" fill-opacity="0.9"/><rect x="466" y="450.17" width="2" height="5.03" fill="#6a6a6a" fill-opacity="0.9"/><rect x="468" y="449.69" width="2" height="5.51" fill="#6a6a6a" fill-opacity="0.9"/><rect x="469" y="452.01" width="2" height="3.19" fill="#6a6a6a" fill-opacity="0.9"/><rect x="470" y="451.50" width="2" height="3.70" fill="#6a6a6a" fill-opacity="0.9"/><rect x="472" y="450.85" width="2" height="4.35" fill="#6a6a6a" fill-opacity="0.9"/><rect x="473" y="451.69" width="2" height="3.51" fill="#6a6a6a" fill-opacity="0.9"/><rect x="475" y="452.90" width="2" height="2.30" fill="#6a6a6a" fill-opacity="0.9"/><rect x="476" y="453.20" width="2" height="3.41" fill="#7676a6" fill-opacity="0.9"/><rect x="477" y="453.20" width="2" height="3.56" fill="#7676a6" fill-opacity="0.9"/><rect x="479" y="453.20" width="2" height="5.48" fill="#7676a6" fill-opacity="0.9"/><rect x="480" y="453.20" width="2" height="4.75" fill="#7676a6" fill-opacity="0.9"/><rect x="482" y="453.20" width="2" height="2.97" fill="#7676a6" fill-opacity="0.9"/><rect x="483" y="452.72" width="2" height="2.48" fill="#6a6a6a" fill-opacity="0.9"/><rect x="484" y="452.13" width="2" height="3.07" fill="#6a6a6a" fill-opacity="0.9"/><rect x="486" y="453.03" width="2" height="2.17" fill="#6a6a6a" fill-opacity="0.9"/><rect x="487" y="453.20" width="2" height="3.10" fill="#7676a6" fill-opacity="0.9"/><rect x="488" y="453.20" width="2" height="2.24" fill="#7676a6" fill-opacity="0.9"/><rect x="490" y="453.20" width="2" height="3.31" fill="#7676a6" fill-opacity="0.9"/><rect x="491" y="453.20" width="2" height="3.85" fill="#7676a6" fill-opacity="0.9"/><rect x="493" y="453.20" width="2" height="3.11" fill="#7676a6" fill-opacity="0.9"/><rect x="494" y="453.20" width="2" height="3.38" fill="#7676a6" fill-opacity="0.9"/><rect x="495" y="453.20" width="2" height="2.46" fill="#7676a6" fill-opacity="0.9"/><rect x="497" y="453.20" width="2" height="2.27" fill="#7676a6" fill-opacity="0.9"/><rect x="498" y="453.20" width="2" height="2.00" fill="#6a6a6a" fill-opacity="0.9"/><rect x="500" y="452.93" width="2" height="2.27" fill="#6a6a6a" fill-opacity="0.9"/><rect x="501" y="452.80" width="2" height="2.40" fill="#6a6a6a" fill-opacity="0.9"/><rect x="502" y="453.20" width="2" height="2.26" fill="#7676a6" fill-opacity="0.9"/><rect x="504" y="453.20" width="2" height="3.25" fill="#7676a6" fill-opacity="0.9"/><rect x="505" y="453.20" width="2" height="3.86" fill="#7676a6" fill-opacity="0.9"/><rect x="507" y="453.20" width="2" height="3.76" fill="#7676a6" fill-opacity="0.9"/><rect x="508" y="453.20" width="2" height="3.99" fill="#7676a6" fill-opacity="0.9"/><rect x="509" y="453.20" width="2" height="4.90" fill="#7676a6" fill-opacity="0.9"/><rect x="511" y="453.20" width="2" height="5.41" fill="#7676a6" fill-opacity="0.9"/><rect x="512" y="453.20" width="2" height="4.07" fill="#7676a6" fill-opacity="0.9"/><rect x="513" y="453.20" width="2" height="4.71" fill="#7676a6" fill-opacity="0.9"/><rect x="515" y="453.20" width="2" height="4.27" fill="#7676a6" fill-opacity="0.9"/><rect x="516" y="453.20" width="2" height="4.77" fill="#7676a6" fill-opacity="0.9"/><rect x="518" y="453.20" width="2" height="4.56" fill="#7676a6" fill-opacity="0.9"/><rect x="519" y="453.20" width="2" height="8.17" fill="#7676a6" fill-opacity="0.9"/><rect x="520" y="453.20" width="2" height="9.59" fill="#7676a6" fill-opacity="0.9"/><rect x="522" y="453.20" width="2" height="12.25" fill="#7676a6" fill-opacity="0.9"/><rect x="523" y="453.20" width="2" height="12.13" fill="#7676a6" fill-opacity="0.9"/><rect x="525" y="453.20" width="2" height="11.60" fill="#7676a6" fill-opacity="0.9"/><rect x="526" y="453.20" width="2" height="11.58" fill="#7676a6" fill-opacity="0.9"/><rect x="527" y="453.20" width="2" height="10.38" fill="#7676a6" fill-opacity="0.9"/><rect x="529" y="453.20" width="2" height="7.12" fill="#7676a6" fill-opacity="0.9"/><rect x="530" y="453.20" width="2" height="4.12" fill="#7676a6" fill-opacity="0.9"/><rect x="532" y="451.92" width="2" height="3.28" fill="#6a6a6a" fill-opacity="0.9"/><rect x="533" y="449.63" width="2" height="5.57" fill="#6a6a6a" fill-opacity="0.9"/><rect x="534" y="447.67" width="2" height="7.53" fill="#6a6a6a" fill-opacity="0.9"/><rect x="536" y="449.05" width="2" height="6.15" fill="#6a6a6a" fill-opacity="0.9"/><rect x="537" y="448.00" width="2" height="7.20" fill="#6a6a6a" fill-opacity="0.9"/><rect x="538" y="447.53" width="2" height="7.67" fill="#6a6a6a" fill-opacity="0.9"/><rect x="540" y="447.43" width="2" height="7.77" fill="#6a6a6a" fill-opacity="0.9"/><rect x="541" y="450.17" width="2" height="5.03" fill="#6a6a6a" fill-opacity="0.9"/><rect x="543" y="452.24" width="2" height="2.96" fill="#6a6a6a" fill-opacity="0.9"/><rect x="544" y="451.82" width="2" height="3.38" fill="#6a6a6a" fill-opacity="0.9"/><rect x="545" y="452.15" width="2" height="3.05" fill="#6a6a6a" fill-opacity="0.9"/><rect x="547" y="453.20" width="2" height="5.04" fill="#7676a6" fill-opacity="0.9"/><rect x="548" y="453.20" width="2" height="8.75" fill="#7676a6" fill-opacity="0.9"/><rect x="550" y="453.20" width="2" height="9.84" fill="#7676a6" fill-opacity="0.9"/><rect x="551" y="453.20" width="2" height="9.03" fill="#7676a6" fill-opacity="0.9"/><rect x="552" y="453.20" width="2" height="9.97" fill="#7676a6" fill-opacity="0.9"/><rect x="554" y="453.20" width="2" height="10.53" fill="#7676a6" fill-opacity="0.9"/><rect x="555" y="453.20" width="2" height="8.67" fill="#7676a6" fill-opacity="0.9"/><rect x="557" y="453.20" width="2" height="6.09" fill="#7676a6" fill-opacity="0.9"/><rect x="558" y="453.20" width="2" height="2.49" fill="#7676a6" fill-opacity="0.9"/><rect x="559" y="450.59" width="2" height="4.61" fill="#6a6a6a" fill-opacity="0.9"/><rect x="561" y="447.78" width="2" height="7.42" fill="#6a6a6a" fill-opacity="0.9"/><rect x="562" y="446.63" width="2" height="8.57" fill="#6a6a6a" fill-opacity="0.9"/><rect x="563" y="444.99" width="2" height="10.21" fill="#6a6a6a" fill-opacity="0.9"/><rect x="565" y="445.11" width="2" height="10.09" fill="#6a6a6a" fill-opacity="0.9"/><rect x="566" y="444.51" width="2" height="10.69" fill="#6a6a6a" fill-opacity="0.9"/><rect x="568" y="444.20" width="2" height="11.00" fill="#6a6a6a" fill-opacity="0.9"/><rect x="569" y="445.32" width="2" height="9.88" fill="#6a6a6a" fill-opacity="0.9"/><rect x="570" y="446.68" width="2" height="8.52" fill="#6a6a6a" fill-opacity="0.9"/><rect x="572" y="448.20" width="2" height="7.00" fill="#6a6a6a" fill-opacity="0.9"/><rect x="573" y="449.26" width="2" height="5.94" fill="#6a6a6a" fill-opacity="0.9"/><rect x="575" y="448.71" width="2" height="6.49" fill="#6a6a6a" fill-opacity="0.9"/><rect x="576" y="448.65" width="2" height="6.55" fill="#6a6a6a" fill-opacity="0.9"/><rect x="577" y="449.00" width="2" height="6.20" fill="#6a6a6a" fill-opacity="0.9"/><rect x="579" y="450.30" width="2" height="4.90" fill="#6a6a6a" fill-opacity="0.9"/><rect x="580" y="452.40" width="2" height="2.80" fill="#6a6a6a" fill-opacity="0.9"/><rect x="582" y="451.76" width="2" height="3.44" fill="#6a6a6a" fill-opacity="0.9"/><rect x="583" y="450.66" width="2" height="4.54" fill="#6a6a6a" fill-opacity="0.9"/><rect x="584" y="449.18" width="2" height="6.02" fill="#6a6a6a" fill-opacity="0.9"/><rect x="586" y="448.14" width="2" height="7.06" fill="#6a6a6a" fill-opacity="0.9"/><rect x="587" y="447.89" width="2" height="7.31" fill="#6a6a6a" fill-opacity="0.9"/><rect x="588" y="447.85" width="2" height="7.35" fill="#6a6a6a" fill-opacity="0.9"/><rect x="590" y="448.20" width="2" height="7.00" fill="#6a6a6a" fill-opacity="0.9"/><rect x="591" y="448.82" width="2" height="6.38" fill="#6a6a6a" fill-opacity="0.9"/><rect x="593" y="450.06" width="2" height="5.14" fill="#6a6a6a" fill-opacity="0.9"/><rect x="594" y="450.81" width="2" height="4.39" fill="#6a6a6a" fill-opacity="0.9"/><rect x="595" y="453.20" width="2" height="2.01" fill="#7676a6" fill-opacity="0.9"/><rect x="597" y="453.20" width="2" height="3.32" fill="#7676a6" fill-opacity="0.9"/><rect x="598" y="453.20" width="2" height="3.42" fill="#7676a6" fill-opacity="0.9"/><rect x="600" y="453.20" width="2" height="3.47" fill="#7676a6" fill-opacity="0.9"/><rect x="601" y="453.20" width="2" height="4.04" fill="#7676a6" fill-opacity="0.9"/><rect x="602" y="453.20" width="2" height="5.08" fill="#7676a6" fill-opacity="0.9"/><rect x="604" y="453.20" width="2" height="5.45" fill="#7676a6" fill-opacity="0.9"/><rect x="605" y="453.20" width="2" height="6.11" fill="#7676a6" fill-opacity="0.9"/><rect x="607" y="453.20" width="2" height="7.72" fill="#7676a6" fill-opacity="0.9"/><rect x="608" y="453.20" width="2" height="6.05" fill="#7676a6" fill-opacity="0.9"/><rect x="609" y="453.20" width="2" height="4.33" fill="#7676a6" fill-opacity="0.9"/><rect x="611" y="453.20" width="2" height="2.25" fill="#7676a6" fill-opacity="0.9"/><rect x="612" y="452.89" width="2" height="2.31" fill="#6a6a6a" fill-opacity="0.9"/><rect x="613" y="450.51" width="2" height="4.69" fill="#6a6a6a" fill-opacity="0.9"/><rect x="615" y="449.32" width="2" height="5.88" fill="#6a6a6a" fill-opacity="0.9"/><rect x="616" y="448.74" width="2" height="6.46" fill="#6a6a6a" fill-opacity="0.9"/><rect x="618" y="449.48" width="2" height="5.72" fill="#6a6a6a" fill-opacity="0.9"/><rect x="619" y="449.07" width="2" height="6.13" fill="#6a6a6a" fill-opacity="0.9"/><rect x="620" y="449.24" width="2" height="5.96" fill="#6a6a6a" fill-opacity="0.9"/><rect x="622" y="449.82" width="2" height="5.38" fill="#6a6a6a" fill-opacity="0.9"/><rect x="623" y="449.76" width="2" height="5.44" fill="#6a6a6a" fill-opacity="0.9"/><rect x="625" y="450.01" width="2" height="5.19" fill="#6a6a6a" fill-opacity="0.9"/><rect x="626" y="449.90" width="2" height="5.30" fill="#6a6a6a" fill-opacity="0.9"/><rect x="627" y="449.09" width="2" height="6.11" fill="#6a6a6a" fill-opacity="0.9"/><rect x="629" y="448.47" width="2" height="6.73" fill="#6a6a6a" fill-opacity="0.9"/><rect x="630" y="448.03" width="2" height="7.17" fill="#6a6a6a" fill-opacity="0.9"/><rect x="632" y="448.55" width="2" height="6.65" fill="#6a6a6a" fill-opacity="0.9"/><rect x="633" y="449.18" width="2" height="6.02" fill="#6a6a6a" fill-opacity="0.9"/><rect x="634" y="451.09" width="2" height="4.11" fill="#6a6a6a" fill-opacity="0.9"/><rect x="636" y="452.03" width="2" height="3.17" fill="#6a6a6a" fill-opacity="0.9"/><rect x="637" y="453.14" width="2" height="2.06" fill="#6a6a6a" fill-opacity="0.9"/><rect x="638" y="453.20" width="2" height="3.73" fill="#7676a6" fill-opacity="0.9"/><rect x="640" y="453.20" width="2" height="4.36" fill="#7676a6" fill-opacity="0.9"/><rect x="641" y="453.20" width="2" height="3.76" fill="#7676a6" fill-opacity="0.9"/><rect x="643" y="453.20" width="2" height="3.05" fill="#7676a6" fill-opacity="0.9"/><rect x="644" y="453.20" width="2" height="3.05" fill="#7676a6" fill-opacity="0.9"/><rect x="645" y="453.20" width="2" height="3.46" fill="#7676a6" fill-opacity="0.9"/><rect x="647" y="453.20" width="2" height="2.79" fill="#7676a6" fill-opacity="0.9"/><rect x="648" y="453.02" width="2" height="2.18" fill="#6a6a6a" fill-opacity="0.9"/><rect x="650" y="452.86" width="2" height="2.34" fill="#6a6a6a" fill-opacity="0.9"/><rect x="651" y="452.96" width="2" height="2.24" fill="#6a6a6a" fill-opacity="0.9"/></g><polyline fill="none" stroke="#3a20d0" stroke-width="1.1" points="39.01,506.77 40.40,506.10 41.79,505.43 43.18,504.82 44.57,504.21 45.95,503.18 47.34,502.16 48.73,501.55 50.12,501.38 51.51,501.80 52.90,501.89 54.29,501.56 55.68,500.52 57.06,498.75 58.45,496.42 59.84,493.65 61.23,490.70 62.62,487.60 64.01,484.10 65.40,480.83 66.79,477.78 68.17,474.71 69.56,471.59 70.95,468.50 72.34,465.77 73.73,463.40 75.12,461.53 76.51,460.19 77.90,458.76 79.28,457.03 80.67,455.14 82.06,453.05 83.45,451.00 84.84,448.92 86.23,446.92 87.62,445.19 89.01,443.54 90.39,441.84 91.78,440.43 93.17,439.44 94.56,438.44 95.95,437.40 97.34,436.49 98.73,436.08 100.12,435.80 101.50,435.46 102.89,435.16 104.28,434.95 105.67,434.73 107.06,434.57 108.45,434.51 109.84,434.39 111.23,434.36 112.61,434.21 114.00,434.09 115.39,434.41 116.78,435.16 118.17,436.25 119.56,437.47 120.95,438.47 122.34,439.36 123.72,439.89 125.11,440.12 126.50,440.10 127.89,439.90 129.28,439.53 130.67,439.00 132.06,438.44 133.45,437.73 134.83,437.24 136.22,437.54 137.61,438.17 139.00,439.39 140.39,440.94 141.78,442.83 143.17,444.66 144.56,446.17 145.94,447.74 147.33,449.71 148.72,451.39 150.11,452.92 151.50,453.97 152.89,454.67 154.28,454.97 155.67,455.33 157.05,455.77 158.44,456.28 159.83,456.49 161.22,456.45 162.61,456.13 164.00,455.47 165.39,454.64 166.78,453.59 168.16,452.39 169.55,451.10 170.94,449.84 172.33,448.33 173.72,446.97 175.11,445.79 176.50,444.88 177.89,443.93 179.27,442.91 180.66,441.89 182.05,440.85 183.44,439.87 184.83,438.91 186.22,437.87 187.61,436.96 189.00,436.28 190.38,435.53 191.77,434.68 193.16,433.75 194.55,433.05 195.94,432.56 197.33,432.42 198.72,432.75 200.11,433.13 201.49,433.43 202.88,433.74 204.27,434.14 205.66,434.50 207.05,434.65 208.44,434.89 209.83,435.24 211.22,435.71 212.60,436.30 213.99,437.21 215.38,438.55 216.77,440.12 218.16,441.81 219.55,442.94 220.94,443.66 222.32,444.33 223.71,444.73 225.10,445.37 226.49,446.89 227.88,449.05 229.27,451.95 230.66,454.74 232.05,457.34 233.43,459.84 234.82,461.64 236.21,463.52 237.60,465.36 238.99,466.88 240.38,467.54 241.77,467.49 243.16,466.59 244.54,465.44 245.93,464.08 247.32,463.01 248.71,462.60 250.10,461.95 251.49,461.06 252.88,460.36 254.27,459.42 255.65,458.42 257.04,457.28 258.43,456.02 259.82,454.53 261.21,452.97 262.60,451.23 263.99,449.48 265.38,447.68 266.76,445.93 268.15,444.29 269.54,442.82 270.93,441.30 272.32,439.91 273.71,438.62 275.10,437.58 276.49,437.00 277.87,436.71 279.26,436.47 280.65,436.59 282.04,437.08 283.43,438.28 284.82,439.72 286.21,441.57 287.60,443.25 288.98,444.62 290.37,445.81 291.76,446.62 293.15,447.24 294.54,447.69 295.93,447.99 297.32,448.01 298.71,447.82 300.09,447.42 301.48,446.82 302.87,446.20 304.26,445.65 305.65,444.95 307.04,444.00 308.43,443.00 309.82,442.20 311.20,441.43 312.59,441.02 313.98,440.85 315.37,441.02 316.76,441.42 318.15,442.24 319.54,443.46 320.93,444.51 322.31,445.37 323.70,446.06 325.09,446.66 326.48,447.07 327.87,447.57 329.26,447.61 330.65,447.33 332.04,446.76 333.42,445.94 334.81,444.93 336.20,443.84 337.59,442.77 338.98,441.82 340.37,441.01 341.76,440.10 343.15,439.13 344.53,438.25 345.92,437.40 347.31,436.78 348.70,436.10 350.09,435.72 351.48,435.38 352.87,434.87 354.26,434.17 355.64,433.17 357.03,432.22 358.42,431.54 359.81,431.04 361.20,430.85 362.59,431.19 363.98,431.78 365.37,432.36 366.75,432.55 368.14,432.46 369.53,432.24 370.92,431.87 372.31,431.62 373.70,431.79 375.09,432.19 376.48,433.02 377.86,433.95 379.25,434.67 380.64,435.10 382.03,435.51 383.42,435.94 384.81,436.30 386.20,436.32 387.58,436.05 388.97,435.62 390.36,435.09 391.75,434.36 393.14,433.53 394.53,432.72 395.92,432.02 397.31,431.71 398.69,431.38 400.08,430.92 401.47,430.54 402.86,430.19 404.25,429.97 405.64,430.27 407.03,430.99 408.42,431.88 409.80,432.57 411.19,433.14 412.58,433.50 413.97,433.58 415.36,433.84 416.75,434.04 418.14,434.30 419.53,434.58 420.91,435.28 422.30,435.87 423.69,436.42 425.08,436.80 426.47,437.13 427.86,437.45 429.25,437.61 430.64,437.51 432.02,437.08 433.41,436.61 434.80,435.98 436.19,435.34 437.58,434.57 438.97,433.95 440.36,433.42 441.75,433.02 443.13,433.19 444.52,433.71 445.91,434.28 447.30,434.63 448.69,434.76 450.08,434.75 451.47,434.87 452.86,434.92 454.24,435.19 455.63,435.72 457.02,436.94 458.41,438.69 459.80,440.13 461.19,440.90 462.58,441.13 463.97,440.99 465.35,440.45 466.74,439.69 468.13,438.82 469.52,438.52 470.91,438.09 472.30,437.51 473.69,437.13 475.08,437.05 476.46,437.41 477.85,437.79 479.24,438.66 480.63,439.35 482.02,439.59 483.41,439.48 484.80,439.21 486.19,439.17 487.57,439.44 488.96,439.50 490.35,439.83 491.74,440.29 493.13,440.57 494.52,440.91 495.91,441.03 497.30,441.10 498.68,441.10 500.07,441.03 501.46,440.93 502.85,440.99 504.24,441.31 505.63,441.77 507.02,442.21 508.41,442.71 509.79,443.43 511.18,444.29 512.57,444.80 513.96,445.48 515.35,446.05 516.74,446.74 518.13,447.38 519.52,448.92 520.90,450.82 522.29,453.38 523.68,455.91 525.07,458.31 526.46,460.71 527.85,462.80 529.24,464.08 530.63,464.61 532.01,464.29 533.40,463.40 534.79,462.02 536.18,460.98 537.57,459.68 538.96,458.26 540.35,456.82 541.74,456.06 543.12,455.82 544.51,455.48 545.90,455.21 547.29,455.97 548.68,457.66 550.07,459.62 551.46,461.38 552.85,463.37 554.23,465.51 555.62,467.17 557.01,468.20 558.40,468.32 559.79,467.66 561.18,466.31 562.57,464.66 563.95,462.61 565.34,460.59 566.73,458.42 568.12,456.17 569.51,454.20 570.90,452.57 572.29,451.32 573.68,450.33 575.06,449.21 576.45,448.07 577.84,447.03 579.23,446.30 580.62,446.10 582.01,445.74 583.40,445.10 584.79,444.10 586.17,442.83 587.56,441.51 588.95,440.17 590.34,438.92 591.73,437.82 593.12,437.04 594.51,436.44 595.90,436.44 597.28,436.77 598.67,437.13 600.06,437.49 601.45,438.00 602.84,438.77 604.23,439.64 605.62,440.66 607.01,442.09 608.39,443.11 609.78,443.69 611.17,443.75 612.56,443.67 613.95,443.00 615.34,442.03 616.73,440.91 618.12,439.98 619.50,438.95 620.89,437.96 622.28,437.12 623.67,436.26 625.06,435.46 626.45,434.64 627.84,433.61 629.23,432.43 630.61,431.14 632.00,429.97 633.39,428.97 634.78,428.44 636.17,428.15 637.56,428.14 638.95,428.57 640.34,429.16 641.72,429.60 643.11,429.86 644.50,430.12 645.89,430.49 647.28,430.69 648.67,430.64 650.06,430.56 651.45,430.50"/><polyline fill="none" stroke="#000" stroke-width="2" stroke-linejoin="round" points="39.01,505.55 40.40,503.41 41.79,502.74 43.18,502.38 44.57,501.78 45.95,499.07 47.34,498.10 48.73,499.07 50.12,500.70 51.51,503.50 52.90,502.25 54.29,500.26 55.68,496.32 57.06,491.69 58.45,487.09 59.84,482.59 61.23,478.87 62.62,475.24 64.01,470.10 65.40,467.75 66.79,465.56 68.17,462.45 69.56,459.09 70.95,456.17 72.34,454.84 73.73,453.92 75.12,454.06 76.51,454.84 77.90,453.04 79.28,450.11 80.67,447.55 82.06,444.71 83.45,442.80 84.84,440.60 86.23,438.91 87.62,438.28 89.01,436.94 90.39,435.06 91.78,434.75 93.17,435.48 94.56,434.46 95.95,433.25 97.34,432.82 98.73,434.45 100.12,434.66 101.50,434.10 102.89,433.97 104.28,434.10 105.67,433.88 107.06,433.90 108.45,434.30 109.84,433.90 111.23,434.25 112.61,433.57 114.00,433.63 115.39,435.68 116.78,438.17 118.17,440.61 119.56,442.33 120.95,442.47 122.34,442.91 123.72,442.05 125.11,441.04 126.50,440.00 127.89,439.08 129.28,438.09 130.67,436.88 132.06,436.20 133.45,434.89 134.83,435.26 136.22,438.76 137.61,440.70 139.00,444.26 140.39,447.12 141.78,450.42 143.17,451.96 144.56,452.20 145.94,454.02 147.33,457.58 148.72,458.13 150.11,459.02 151.50,458.17 152.89,457.50 154.28,456.15 155.67,456.76 157.05,457.52 158.44,458.32 159.83,457.32 161.22,456.31 162.61,454.86 164.00,452.82 165.39,451.31 166.78,449.41 168.16,447.59 169.55,445.96 170.94,444.77 172.33,442.30 173.72,441.52 175.11,441.06 176.50,441.24 177.89,440.15 179.27,438.82 180.66,437.80 182.05,436.68 183.44,435.96 184.83,435.06 186.22,433.74 187.61,433.33 189.00,433.53 190.38,432.54 191.77,431.30 193.16,430.04 194.55,430.24 195.94,430.62 197.33,431.86 198.72,434.07 200.11,434.66 201.49,434.63 202.88,434.95 204.27,435.77 205.66,435.96 207.05,435.25 208.44,435.85 209.83,436.61 211.22,437.61 212.60,438.65 213.99,440.87 215.38,443.90 216.77,446.39 218.16,448.55 219.55,447.47 220.94,446.55 222.32,447.01 223.71,446.32 225.10,447.95 226.49,452.96 227.88,457.68 229.27,463.55 230.66,465.91 232.05,467.75 233.43,469.82 234.82,468.83 236.21,471.03 237.60,472.76 238.99,472.96 240.38,470.19 241.77,467.28 243.16,463.01 244.54,460.82 245.93,458.63 247.32,458.72 248.71,460.98 250.10,459.33 251.49,457.54 252.88,457.52 254.27,455.66 255.65,454.46 257.04,452.72 258.43,450.95 259.82,448.58 261.21,446.74 262.60,444.25 263.99,442.48 265.38,440.49 266.76,438.93 268.15,437.72 269.54,436.96 270.93,435.22 272.32,434.35 273.71,433.47 275.10,433.40 276.49,434.69 277.87,435.57 279.26,435.52 280.65,437.04 282.04,439.05 283.43,443.08 284.82,445.46 286.21,449.00 287.60,449.98 288.98,450.09 290.37,450.54 291.76,449.87 293.15,449.71 294.54,449.51 295.93,449.18 297.32,448.07 298.71,447.07 300.09,445.82 301.48,444.43 302.87,443.72 304.26,443.45 305.65,442.17 307.04,440.17 308.43,438.99 309.82,439.00 311.20,438.38 312.59,439.38 313.98,440.14 315.37,441.72 316.76,443.02 318.15,445.50 319.54,448.37 320.93,448.72 322.31,448.78 323.70,448.81 325.09,449.09 326.48,448.70 327.87,449.56 329.26,447.77 330.65,446.20 332.04,444.51 333.42,442.63 334.81,440.90 336.20,439.49 337.59,438.48 338.98,438.02 340.37,437.77 341.76,436.46 343.15,435.25 344.53,434.71 345.92,433.99 347.31,434.30 348.70,433.38 350.09,434.20 351.48,434.01 352.87,432.83 354.26,431.36 355.64,429.17 357.03,428.41 358.42,428.86 359.81,429.02 361.20,430.11 362.59,432.53 363.98,434.17 365.37,434.65 366.75,433.33 368.14,432.09 369.53,431.38 370.92,430.37 372.31,430.60 373.70,432.47 375.09,433.82 376.48,436.34 377.86,437.64 379.25,437.56 380.64,436.82 382.03,437.14 383.42,437.67 384.81,437.76 386.20,436.40 387.58,434.95 388.97,433.92 390.36,432.98 391.75,431.43 393.14,430.20 394.53,429.47 395.92,429.22 397.31,430.48 398.69,430.06 400.08,429.09 401.47,429.01 402.86,428.81 404.25,429.05 405.64,431.46 407.03,433.88 408.42,435.46 409.80,435.30 411.19,435.46 412.58,434.90 413.97,433.93 415.36,434.86 416.75,434.82 418.14,435.37 419.53,435.70 420.91,438.10 422.30,438.23 423.69,438.59 425.08,438.35 426.47,438.46 427.86,438.72 429.25,438.24 430.64,437.09 432.02,435.37 433.41,434.75 434.80,433.46 436.19,432.76 437.58,431.52 438.97,431.47 440.36,431.30 441.75,431.43 443.13,433.87 444.52,435.78 445.91,436.54 447.30,436.04 448.69,435.27 450.08,434.72 451.47,435.38 452.86,435.12 454.24,436.24 455.63,437.87 457.02,441.78 458.41,445.73 459.80,445.89 461.19,443.99 462.58,442.06 463.97,440.41 465.35,438.30 466.74,436.66 468.13,435.30 469.52,437.33 470.91,436.39 472.30,435.15 473.69,435.62 475.08,436.75 476.46,438.82 477.85,439.35 479.24,442.14 480.63,442.11 482.02,440.56 483.41,439.00 484.80,438.14 486.19,438.99 487.57,440.54 488.96,439.74 490.35,441.13 491.74,442.14 493.13,441.68 494.52,442.29 495.91,441.49 497.30,441.36 498.68,441.10 500.07,440.76 501.46,440.53 502.85,441.25 504.24,442.56 505.63,443.64 507.02,443.97 508.41,444.70 509.79,446.33 511.18,447.69 512.57,446.87 513.96,448.19 515.35,448.32 516.74,449.51 518.13,449.94 519.52,455.09 520.90,458.40 522.29,463.63 523.68,466.04 525.07,467.92 526.46,470.29 527.85,471.18 529.24,469.20 530.63,466.74 532.01,463.01 533.40,459.83 534.79,456.49 536.18,456.83 537.57,454.48 538.96,452.59 540.35,451.05 541.74,453.03 543.12,454.87 544.51,454.10 545.90,454.16 547.29,459.02 548.68,464.42 550.07,467.47 551.46,468.41 552.85,471.35 554.23,474.04 555.62,473.84 557.01,472.28 558.40,468.81 559.79,465.05 561.18,460.88 562.57,458.09 563.95,454.41 565.34,452.50 566.73,449.73 568.12,447.17 569.51,446.31 570.90,446.04 572.29,446.32 573.68,446.39 575.06,444.72 576.45,443.53 577.84,442.83 579.23,443.40 580.62,445.30 582.01,444.30 583.40,442.56 584.79,440.07 586.17,437.77 587.56,436.20 588.95,434.82 590.34,433.92 591.73,433.44 593.12,433.90 594.51,434.05 595.90,436.45 597.28,438.09 598.67,438.55 600.06,438.96 601.45,440.05 602.84,441.85 604.23,443.08 605.62,444.77 607.01,447.81 608.39,447.16 609.78,446.02 611.17,444.00 612.56,443.36 613.95,440.31 615.34,438.15 616.73,436.45 618.12,436.26 619.50,434.83 620.89,434.00 622.28,433.74 623.67,432.82 625.06,432.27 626.45,431.34 627.84,429.50 629.23,427.70 630.61,425.97 632.00,425.32 633.39,424.95 634.78,426.33 636.17,426.99 637.56,428.08 638.95,430.30 640.34,431.52 641.72,431.36 643.11,430.91 644.50,431.17 645.89,431.95 647.28,431.48 648.67,430.47 650.06,430.22 651.45,430.26"/><g shape-rendering="crispEdges"><rect x="38.5" y="28.5" width="618" height="97" fill="none" stroke="#cdcd9f" stroke-width="1"/><line x1="656" y1="35.5" x2="659" y2="35.5" stroke="#cdcd9f" stroke-width="1"/><line x1="656" y1="44.5" x2="659" y2="44.5" stroke="#cdcd9f" stroke-width="1"/><line x1="656" y1="52.5" x2="659" y2="52.5" stroke="#cdcd9f" stroke-width="1"/><line x1="656" y1="60.5" x2="659" y2="60.5" stroke="#cdcd9f" stroke-width="1"/><line x1="656" y1="68.5" x2="659" y2="68.5" stroke="#cdcd9f" stroke-width="1"/><line x1="656" y1="77.5" x2="659" y2="77.5" stroke="#cdcd9f" stroke-width="1"/><line x1="656" y1="85.5" x2="659" y2="85.5" stroke="#cdcd9f" stroke-width="1"/><line x1="656" y1="94.5" x2="659" y2="94.5" stroke="#cdcd9f" stroke-width="1"/><line x1="656" y1="102.5" x2="659" y2="102.5" stroke="#cdcd9f" stroke-width="1"/><line x1="656" y1="110.5" x2="659" y2="110.5" stroke="#cdcd9f" stroke-width="1"/><line x1="656" y1="118.5" x2="659" y2="118.5" stroke="#cdcd9f" stroke-width="1"/><rect x="38.5" y="125.5" width="618" height="278" fill="none" stroke="#cdcd9f" stroke-width="1"/><line x1="656" y1="393.5" x2="659" y2="393.5" stroke="#cdcd9f" stroke-width="1"/><line x1="656" y1="380.5" x2="659" y2="380.5" stroke="#cdcd9f" stroke-width="1"/><line x1="656" y1="366.5" x2="659" y2="366.5" stroke="#cdcd9f" stroke-width="1"/><line x1="656" y1="353.5" x2="659" y2="353.5" stroke="#cdcd9f" stroke-width="1"/><line x1="656" y1="339.5" x2="659" y2="339.5" stroke="#cdcd9f" stroke-width="1"/><line x1="656" y1="326.5" x2="659" y2="326.5" stroke="#cdcd9f" stroke-width="1"/><line x1="656" y1="312.5" x2="659" y2="312.5" stroke="#cdcd9f" stroke-width="1"/><line x1="656" y1="299.5" x2="659" y2="299.5" stroke="#cdcd9f" stroke-width="1"/><line x1="656" y1="285.5" x2="659" y2="285.5" stroke="#cdcd9f" stroke-width="1"/><line x1="656" y1="272.5" x2="659" y2="272.5" stroke="#cdcd9f" stroke-width="1"/><line x1="656" y1="258.5" x2="659" y2="258.5" stroke="#cdcd9f" stroke-width="1"/><line x1="656" y1="245.5" x2="659" y2="245.5" stroke="#cdcd9f" stroke-width="1"/><line x1="656" y1="231.5" x2="659" y2="231.5" stroke="#cdcd9f" stroke-width="1"/><line x1="656" y1="218.5" x2="659" y2="218.5" stroke="#cdcd9f" stroke-width="1"/><line x1="656" y1="205.5" x2="659" y2="205.5" stroke="#cdcd9f" stroke-width="1"/><line x1="656" y1="191.5" x2="659" y2="191.5" stroke="#cdcd9f" stroke-width="1"/><line x1="656" y1="178.5" x2="659" y2="178.5" stroke="#cdcd9f" stroke-width="1"/><line x1="656" y1="164.5" x2="659" y2="164.5" stroke="#cdcd9f" stroke-width="1"/><line x1="656" y1="151.5" x2="659" y2="151.5" stroke="#cdcd9f" stroke-width="1"/><line x1="656" y1="137.5" x2="659" y2="137.5" stroke="#cdcd9f" stroke-width="1"/><rect x="38.5" y="418.5" width="618" height="96" fill="none" stroke="#cdcd9f" stroke-width="1"/><line x1="656" y1="429.5" x2="659" y2="429.5" stroke="#cdcd9f" stroke-width="1"/><line x1="656" y1="441.5" x2="659" y2="441.5" stroke="#cdcd9f" stroke-width="1"/><line x1="656" y1="454.5" x2="659" y2="454.5" stroke="#cdcd9f" stroke-width="1"/><line x1="656" y1="466.5" x2="659" y2="466.5" stroke="#cdcd9f" stroke-width="1"/><line x1="656" y1="478.5" x2="659" y2="478.5" stroke="#cdcd9f" stroke-width="1"/><line x1="656" y1="491.5" x2="659" y2="491.5" stroke="#cdcd9f" stroke-width="1"/><line x1="656" y1="503.5" x2="659" y2="503.5" stroke="#cdcd9f" stroke-width="1"/><line x1="35" y1="380.5" x2="38" y2="380.5" stroke="#cdcd9f" stroke-width="1"/><line x1="35" y1="357.5" x2="38" y2="357.5" stroke="#cdcd9f" stroke-width="1"/><line x1="35" y1="335.5" x2="38" y2="335.5" stroke="#cdcd9f" stroke-width="1"/><line x1="35" y1="313.5" x2="38" y2="313.5" stroke="#cdcd9f" stroke-width="1"/><line x1="40.5" y1="403" x2="40.5" y2="406" stroke="#cdcd9f"/><line x1="40.5" y1="415" x2="40.5" y2="418" stroke="#cdcd9f"/><line x1="40.5" y1="514" x2="40.5" y2="516" stroke="#cdcd9f"/><line x1="40.5" y1="527" x2="40.5" y2="529" stroke="#cdcd9f"/><line x1="58.5" y1="403" x2="58.5" y2="406" stroke="#cdcd9f"/><line x1="58.5" y1="415" x2="58.5" y2="418" stroke="#cdcd9f"/><line x1="58.5" y1="514" x2="58.5" y2="516" stroke="#cdcd9f"/><line x1="58.5" y1="527" x2="58.5" y2="529" stroke="#cdcd9f"/><line x1="76.5" y1="403" x2="76.5" y2="406" stroke="#cdcd9f"/><line x1="76.5" y1="415" x2="76.5" y2="418" stroke="#cdcd9f"/><line x1="76.5" y1="514" x2="76.5" y2="516" stroke="#cdcd9f"/><line x1="76.5" y1="527" x2="76.5" y2="529" stroke="#cdcd9f"/><line x1="94.5" y1="403" x2="94.5" y2="406" stroke="#cdcd9f"/><line x1="94.5" y1="415" x2="94.5" y2="418" stroke="#cdcd9f"/><line x1="94.5" y1="514" x2="94.5" y2="516" stroke="#cdcd9f"/><line x1="94.5" y1="527" x2="94.5" y2="529" stroke="#cdcd9f"/><line x1="112.5" y1="403" x2="112.5" y2="406" stroke="#cdcd9f"/><line x1="112.5" y1="415" x2="112.5" y2="418" stroke="#cdcd9f"/><line x1="112.5" y1="514" x2="112.5" y2="516" stroke="#cdcd9f"/><line x1="112.5" y1="527" x2="112.5" y2="529" stroke="#cdcd9f"/><line x1="130.5" y1="403" x2="130.5" y2="406" stroke="#cdcd9f"/><line x1="130.5" y1="415" x2="130.5" y2="418" stroke="#cdcd9f"/><line x1="130.5" y1="514" x2="130.5" y2="516" stroke="#cdcd9f"/><line x1="130.5" y1="527" x2="130.5" y2="529" stroke="#cdcd9f"/><line x1="148.5" y1="403" x2="148.5" y2="406" stroke="#cdcd9f"/><line x1="148.5" y1="415" x2="148.5" y2="418" stroke="#cdcd9f"/><line x1="148.5" y1="514" x2="148.5" y2="516" stroke="#cdcd9f"/><line x1="148.5" y1="527" x2="148.5" y2="529" stroke="#cdcd9f"/><line x1="166.5" y1="403" x2="166.5" y2="406" stroke="#cdcd9f"/><line x1="166.5" y1="415" x2="166.5" y2="418" stroke="#cdcd9f"/><line x1="166.5" y1="514" x2="166.5" y2="516" stroke="#cdcd9f"/><line x1="166.5" y1="527" x2="166.5" y2="529" stroke="#cdcd9f"/><line x1="184.5" y1="403" x2="184.5" y2="406" stroke="#cdcd9f"/><line x1="184.5" y1="415" x2="184.5" y2="418" stroke="#cdcd9f"/><line x1="184.5" y1="514" x2="184.5" y2="516" stroke="#cdcd9f"/><line x1="184.5" y1="527" x2="184.5" y2="529" stroke="#cdcd9f"/><line x1="202.5" y1="403" x2="202.5" y2="406" stroke="#cdcd9f"/><line x1="202.5" y1="415" x2="202.5" y2="418" stroke="#cdcd9f"/><line x1="202.5" y1="514" x2="202.5" y2="516" stroke="#cdcd9f"/><line x1="202.5" y1="527" x2="202.5" y2="529" stroke="#cdcd9f"/><line x1="220.5" y1="403" x2="220.5" y2="406" stroke="#cdcd9f"/><line x1="220.5" y1="415" x2="220.5" y2="418" stroke="#cdcd9f"/><line x1="220.5" y1="514" x2="220.5" y2="516" stroke="#cdcd9f"/><line x1="220.5" y1="527" x2="220.5" y2="529" stroke="#cdcd9f"/><line x1="238.5" y1="403" x2="238.5" y2="406" stroke="#cdcd9f"/><line x1="238.5" y1="415" x2="238.5" y2="418" stroke="#cdcd9f"/><line x1="238.5" y1="514" x2="238.5" y2="516" stroke="#cdcd9f"/><line x1="238.5" y1="527" x2="238.5" y2="529" stroke="#cdcd9f"/><line x1="257.5" y1="403" x2="257.5" y2="406" stroke="#cdcd9f"/><line x1="257.5" y1="415" x2="257.5" y2="418" stroke="#cdcd9f"/><line x1="257.5" y1="514" x2="257.5" y2="516" stroke="#cdcd9f"/><line x1="257.5" y1="527" x2="257.5" y2="529" stroke="#cdcd9f"/><line x1="275.5" y1="403" x2="275.5" y2="406" stroke="#cdcd9f"/><line x1="275.5" y1="415" x2="275.5" y2="418" stroke="#cdcd9f"/><line x1="275.5" y1="514" x2="275.5" y2="516" stroke="#cdcd9f"/><line x1="275.5" y1="527" x2="275.5" y2="529" stroke="#cdcd9f"/><line x1="293.5" y1="403" x2="293.5" y2="406" stroke="#cdcd9f"/><line x1="293.5" y1="415" x2="293.5" y2="418" stroke="#cdcd9f"/><line x1="293.5" y1="514" x2="293.5" y2="516" stroke="#cdcd9f"/><line x1="293.5" y1="527" x2="293.5" y2="529" stroke="#cdcd9f"/><line x1="311.5" y1="403" x2="311.5" y2="406" stroke="#cdcd9f"/><line x1="311.5" y1="415" x2="311.5" y2="418" stroke="#cdcd9f"/><line x1="311.5" y1="514" x2="311.5" y2="516" stroke="#cdcd9f"/><line x1="311.5" y1="527" x2="311.5" y2="529" stroke="#cdcd9f"/><line x1="330.5" y1="403" x2="330.5" y2="406" stroke="#cdcd9f"/><line x1="330.5" y1="415" x2="330.5" y2="418" stroke="#cdcd9f"/><line x1="330.5" y1="514" x2="330.5" y2="516" stroke="#cdcd9f"/><line x1="330.5" y1="527" x2="330.5" y2="529" stroke="#cdcd9f"/><line x1="347.5" y1="403" x2="347.5" y2="406" stroke="#cdcd9f"/><line x1="347.5" y1="415" x2="347.5" y2="418" stroke="#cdcd9f"/><line x1="347.5" y1="514" x2="347.5" y2="516" stroke="#cdcd9f"/><line x1="347.5" y1="527" x2="347.5" y2="529" stroke="#cdcd9f"/><line x1="365.5" y1="403" x2="365.5" y2="406" stroke="#cdcd9f"/><line x1="365.5" y1="415" x2="365.5" y2="418" stroke="#cdcd9f"/><line x1="365.5" y1="514" x2="365.5" y2="516" stroke="#cdcd9f"/><line x1="365.5" y1="527" x2="365.5" y2="529" stroke="#cdcd9f"/><line x1="384.5" y1="403" x2="384.5" y2="406" stroke="#cdcd9f"/><line x1="384.5" y1="415" x2="384.5" y2="418" stroke="#cdcd9f"/><line x1="384.5" y1="514" x2="384.5" y2="516" stroke="#cdcd9f"/><line x1="384.5" y1="527" x2="384.5" y2="529" stroke="#cdcd9f"/><line x1="402.5" y1="403" x2="402.5" y2="406" stroke="#cdcd9f"/><line x1="402.5" y1="415" x2="402.5" y2="418" stroke="#cdcd9f"/><line x1="402.5" y1="514" x2="402.5" y2="516" stroke="#cdcd9f"/><line x1="402.5" y1="527" x2="402.5" y2="529" stroke="#cdcd9f"/><line x1="420.5" y1="403" x2="420.5" y2="406" stroke="#cdcd9f"/><line x1="420.5" y1="415" x2="420.5" y2="418" stroke="#cdcd9f"/><line x1="420.5" y1="514" x2="420.5" y2="516" stroke="#cdcd9f"/><line x1="420.5" y1="527" x2="420.5" y2="529" stroke="#cdcd9f"/><line x1="438.5" y1="403" x2="438.5" y2="406" stroke="#cdcd9f"/><line x1="438.5" y1="415" x2="438.5" y2="418" stroke="#cdcd9f"/><line x1="438.5" y1="514" x2="438.5" y2="516" stroke="#cdcd9f"/><line x1="438.5" y1="527" x2="438.5" y2="529" stroke="#cdcd9f"/><line x1="457.5" y1="403" x2="457.5" y2="406" stroke="#cdcd9f"/><line x1="457.5" y1="415" x2="457.5" y2="418" stroke="#cdcd9f"/><line x1="457.5" y1="514" x2="457.5" y2="516" stroke="#cdcd9f"/><line x1="457.5" y1="527" x2="457.5" y2="529" stroke="#cdcd9f"/><line x1="475.5" y1="403" x2="475.5" y2="406" stroke="#cdcd9f"/><line x1="475.5" y1="415" x2="475.5" y2="418" stroke="#cdcd9f"/><line x1="475.5" y1="514" x2="475.5" y2="516" stroke="#cdcd9f"/><line x1="475.5" y1="527" x2="475.5" y2="529" stroke="#cdcd9f"/><line x1="493.5" y1="403" x2="493.5" y2="406" stroke="#cdcd9f"/><line x1="493.5" y1="415" x2="493.5" y2="418" stroke="#cdcd9f"/><line x1="493.5" y1="514" x2="493.5" y2="516" stroke="#cdcd9f"/><line x1="493.5" y1="527" x2="493.5" y2="529" stroke="#cdcd9f"/><line x1="511.5" y1="403" x2="511.5" y2="406" stroke="#cdcd9f"/><line x1="511.5" y1="415" x2="511.5" y2="418" stroke="#cdcd9f"/><line x1="511.5" y1="514" x2="511.5" y2="516" stroke="#cdcd9f"/><line x1="511.5" y1="527" x2="511.5" y2="529" stroke="#cdcd9f"/><line x1="529.5" y1="403" x2="529.5" y2="406" stroke="#cdcd9f"/><line x1="529.5" y1="415" x2="529.5" y2="418" stroke="#cdcd9f"/><line x1="529.5" y1="514" x2="529.5" y2="516" stroke="#cdcd9f"/><line x1="529.5" y1="527" x2="529.5" y2="529" stroke="#cdcd9f"/><line x1="547.5" y1="403" x2="547.5" y2="406" stroke="#cdcd9f"/><line x1="547.5" y1="415" x2="547.5" y2="418" stroke="#cdcd9f"/><line x1="547.5" y1="514" x2="547.5" y2="516" stroke="#cdcd9f"/><line x1="547.5" y1="527" x2="547.5" y2="529" stroke="#cdcd9f"/><line x1="565.5" y1="403" x2="565.5" y2="406" stroke="#cdcd9f"/><line x1="565.5" y1="415" x2="565.5" y2="418" stroke="#cdcd9f"/><line x1="565.5" y1="514" x2="565.5" y2="516" stroke="#cdcd9f"/><line x1="565.5" y1="527" x2="565.5" y2="529" stroke="#cdcd9f"/><line x1="583.5" y1="403" x2="583.5" y2="406" stroke="#cdcd9f"/><line x1="583.5" y1="415" x2="583.5" y2="418" stroke="#cdcd9f"/><line x1="583.5" y1="514" x2="583.5" y2="516" stroke="#cdcd9f"/><line x1="583.5" y1="527" x2="583.5" y2="529" stroke="#cdcd9f"/><line x1="601.5" y1="403" x2="601.5" y2="406" stroke="#cdcd9f"/><line x1="601.5" y1="415" x2="601.5" y2="418" stroke="#cdcd9f"/><line x1="601.5" y1="514" x2="601.5" y2="516" stroke="#cdcd9f"/><line x1="601.5" y1="527" x2="601.5" y2="529" stroke="#cdcd9f"/><line x1="619.5" y1="403" x2="619.5" y2="406" stroke="#cdcd9f"/><line x1="619.5" y1="415" x2="619.5" y2="418" stroke="#cdcd9f"/><line x1="619.5" y1="514" x2="619.5" y2="516" stroke="#cdcd9f"/><line x1="619.5" y1="527" x2="619.5" y2="529" stroke="#cdcd9f"/><line x1="637.5" y1="403" x2="637.5" y2="406" stroke="#cdcd9f"/><line x1="637.5" y1="415" x2="637.5" y2="418" stroke="#cdcd9f"/><line x1="637.5" y1="514" x2="637.5" y2="516" stroke="#cdcd9f"/><line x1="637.5" y1="527" x2="637.5" y2="529" stroke="#cdcd9f"/></g><polygon points="648.6,25.6 656,25.6 652.3,20.4" fill="#4a8a2a"/><polygon points="41.2,38.6 43.2,35 45.6,31.4 47.2,34.6 48.2,36 49.8,33.2 50,38.6" fill="#000" stroke="#2a10d0" stroke-width="0.9"/><path d="M42.5,129.5 V136 M47.5,130 V136.5" stroke="#000" stroke-width="1.3" fill="none"/><path d="M40,132 L42.5,128.5 L45,132 Z M45,134.5 L47.5,138 L50,134.5 Z" fill="#000"/><rect x="41" y="143" width="9" height="2" fill="#1a1a8c"/><rect x="41" y="153" width="9" height="2" fill="#d8143c"/><path d="M41,161v8M44,163v6M47,159v10M50,164v5" stroke="#c0c0a0" stroke-width="2"/><path d="M42,164v5M48,162v7" stroke="#8ac0d8" stroke-width="1"/><rect x="40" y="424" width="10" height="2" fill="#000"/><text x="39.50" y="414" font-size="10.5" font-weight="bold" fill="#000" text-anchor="middle" >09</text><text x="39.50" y="525" font-size="10.5" font-weight="bold" fill="#000" text-anchor="middle" >09</text><text x="58.50" y="414" font-size="10" font-weight="normal" fill="#000" text-anchor="middle" >A</text><text x="58.50" y="525" font-size="10" font-weight="normal" fill="#000" text-anchor="middle" >A</text><text x="76.50" y="414" font-size="10" font-weight="normal" fill="#000" text-anchor="middle" >J</text><text x="76.50" y="525" font-size="10" font-weight="normal" fill="#000" text-anchor="middle" >J</text><text x="94.50" y="414" font-size="10" font-weight="normal" fill="#000" text-anchor="middle" >O</text><text x="94.50" y="525" font-size="10" font-weight="normal" fill="#000" text-anchor="middle" >O</text><text x="111.50" y="414" font-size="10.5" font-weight="bold" fill="#000" text-anchor="middle" >10</text><text x="111.50" y="525" font-size="10.5" font-weight="bold" fill="#000" text-anchor="middle" >10</text><text x="130.50" y="414" font-size="10" font-weight="normal" fill="#000" text-anchor="middle" >A</text><text x="130.50" y="525" font-size="10" font-weight="normal" fill="#000" text-anchor="middle" >A</text><text x="148.50" y="414" font-size="10" font-weight="normal" fill="#000" text-anchor="middle" >J</text><text x="148.50" y="525" font-size="10" font-weight="normal" fill="#000" text-anchor="middle" >J</text><text x="166.50" y="414" font-size="10" font-weight="normal" fill="#000" text-anchor="middle" >O</text><text x="166.50" y="525" font-size="10" font-weight="normal" fill="#000" text-anchor="middle" >O</text><text x="183.50" y="414" font-size="10.5" font-weight="bold" fill="#000" text-anchor="middle" >11</text><text x="183.50" y="525" font-size="10.5" font-weight="bold" fill="#000" text-anchor="middle" >11</text><text x="202.50" y="414" font-size="10" font-weight="normal" fill="#000" text-anchor="middle" >A</text><text x="202.50" y="525" font-size="10" font-weight="normal" fill="#000" text-anchor="middle" >A</text><text x="220.50" y="414" font-size="10" font-weight="normal" fill="#000" text-anchor="middle" >J</text><text x="220.50" y="525" font-size="10" font-weight="normal" fill="#000" text-anchor="middle" >J</text><text x="238.50" y="414" font-size="10" font-weight="normal" fill="#000" text-anchor="middle" >O</text><text x="238.50" y="525" font-size="10" font-weight="normal" fill="#000" text-anchor="middle" >O</text><text x="256.50" y="414" font-size="10.5" font-weight="bold" fill="#000" text-anchor="middle" >12</text><text x="256.50" y="525" font-size="10.5" font-weight="bold" fill="#000" text-anchor="middle" >12</text><text x="275.50" y="414" font-size="10" font-weight="normal" fill="#000" text-anchor="middle" >A</text><text x="275.50" y="525" font-size="10" font-weight="normal" fill="#000" text-anchor="middle" >A</text><text x="293.50" y="414" font-size="10" font-weight="normal" fill="#000" text-anchor="middle" >J</text><text x="293.50" y="525" font-size="10" font-weight="normal" fill="#000" text-anchor="middle" >J</text><text x="311.50" y="414" font-size="10" font-weight="normal" fill="#000" text-anchor="middle" >O</text><text x="311.50" y="525" font-size="10" font-weight="normal" fill="#000" text-anchor="middle" >O</text><text x="329.50" y="414" font-size="10.5" font-weight="bold" fill="#000" text-anchor="middle" >13</text><text x="329.50" y="525" font-size="10.5" font-weight="bold" fill="#000" text-anchor="middle" >13</text><text x="347.50" y="414" font-size="10" font-weight="normal" fill="#000" text-anchor="middle" >A</text><text x="347.50" y="525" font-size="10" font-weight="normal" fill="#000" text-anchor="middle" >A</text><text x="365.50" y="414" font-size="10" font-weight="normal" fill="#000" text-anchor="middle" >J</text><text x="365.50" y="525" font-size="10" font-weight="normal" fill="#000" text-anchor="middle" >J</text><text x="384.50" y="414" font-size="10" font-weight="normal" fill="#000" text-anchor="middle" >O</text><text x="384.50" y="525" font-size="10" font-weight="normal" fill="#000" text-anchor="middle" >O</text><text x="401.50" y="414" font-size="10.5" font-weight="bold" fill="#000" text-anchor="middle" >14</text><text x="401.50" y="525" font-size="10.5" font-weight="bold" fill="#000" text-anchor="middle" >14</text><text x="420.50" y="414" font-size="10" font-weight="normal" fill="#000" text-anchor="middle" >A</text><text x="420.50" y="525" font-size="10" font-weight="normal" fill="#000" text-anchor="middle" >A</text><text x="438.50" y="414" font-size="10" font-weight="normal" fill="#000" text-anchor="middle" >J</text><text x="438.50" y="525" font-size="10" font-weight="normal" fill="#000" text-anchor="middle" >J</text><text x="457.50" y="414" font-size="10" font-weight="normal" fill="#000" text-anchor="middle" >O</text><text x="457.50" y="525" font-size="10" font-weight="normal" fill="#000" text-anchor="middle" >O</text><text x="474.50" y="414" font-size="10.5" font-weight="bold" fill="#000" text-anchor="middle" >15</text><text x="474.50" y="525" font-size="10.5" font-weight="bold" fill="#000" text-anchor="middle" >15</text><text x="493.50" y="414" font-size="10" font-weight="normal" fill="#000" text-anchor="middle" >A</text><text x="493.50" y="525" font-size="10" font-weight="normal" fill="#000" text-anchor="middle" >A</text><text x="511.50" y="414" font-size="10" font-weight="normal" fill="#000" text-anchor="middle" >J</text><text x="511.50" y="525" font-size="10" font-weight="normal" fill="#000" text-anchor="middle" >J</text><text x="529.50" y="414" font-size="10" font-weight="normal" fill="#000" text-anchor="middle" >O</text><text x="529.50" y="525" font-size="10" font-weight="normal" fill="#000" text-anchor="middle" >O</text><text x="546.50" y="414" font-size="10.5" font-weight="bold" fill="#000" text-anchor="middle" >16</text><text x="546.50" y="525" font-size="10.5" font-weight="bold" fill="#000" text-anchor="middle" >16</text><text x="565.50" y="414" font-size="10" font-weight="normal" fill="#000" text-anchor="middle" >A</text><text x="565.50" y="525" font-size="10" font-weight="normal" fill="#000" text-anchor="middle" >A</text><text x="583.50" y="414" font-size="10" font-weight="normal" fill="#000" text-anchor="middle" >J</text><text x="583.50" y="525" font-size="10" font-weight="normal" fill="#000" text-anchor="middle" >J</text><text x="601.50" y="414" font-size="10" font-weight="normal" fill="#000" text-anchor="middle" >O</text><text x="601.50" y="525" font-size="10" font-weight="normal" fill="#000" text-anchor="middle" >O</text><text x="618.50" y="414" font-size="10.5" font-weight="bold" fill="#000" text-anchor="middle" >17</text><text x="618.50" y="525" font-size="10.5" font-weight="bold" fill="#000" text-anchor="middle" >17</text><text x="637.50" y="414" font-size="10" font-weight="normal" fill="#000" text-anchor="middle" >A</text><text x="637.50" y="525" font-size="10" font-weight="normal" fill="#000" text-anchor="middle" >A</text><text x="671" y="47.90" font-size="10.5" font-weight="normal" fill="#000" text-anchor="end" >90</text><text x="671" y="63.90" font-size="10.5" font-weight="normal" fill="#000" text-anchor="end" >70</text><text x="671" y="80.90" font-size="10.5" font-weight="normal" fill="#000" text-anchor="end" >50</text><text x="671" y="97.90" font-size="10.5" font-weight="normal" fill="#000" text-anchor="end" >30</text><text x="671" y="113.90" font-size="10.5" font-weight="normal" fill="#000" text-anchor="end" >10</text><text x="683" y="397.32" font-size="10.5" font-weight="normal" fill="#000" text-anchor="end" >600</text><text x="683" y="383.84" font-size="10.5" font-weight="normal" fill="#000" text-anchor="end" >700</text><text x="683" y="370.36" font-size="10.5" font-weight="normal" fill="#000" text-anchor="end" >800</text><text x="683" y="356.88" font-size="10.5" font-weight="normal" fill="#000" text-anchor="end" >900</text><text x="683" y="343.40" font-size="10.5" font-weight="normal" fill="#000" text-anchor="end" >1000</text><text x="683" y="329.92" font-size="10.5" font-weight="normal" fill="#000" text-anchor="end" >1100</text><text x="683" y="316.44" font-size="10.5" font-weight="normal" fill="#000" text-anchor="end" >1200</text><text x="683" y="302.96" font-size="10.5" font-weight="normal" fill="#000" text-anchor="end" >1300</text><text x="683" y="289.48" font-size="10.5" font-weight="normal" fill="#000" text-anchor="end" >1400</text><text x="683" y="276.00" font-size="10.5" font-weight="normal" fill="#000" text-anchor="end" >1500</text><text x="683" y="262.52" font-size="10.5" font-weight="normal" fill="#000" text-anchor="end" >1600</text><text x="683" y="249.04" font-size="10.5" font-weight="normal" fill="#000" text-anchor="end" >1700</text><text x="683" y="235.56" font-size="10.5" font-weight="normal" fill="#000" text-anchor="end" >1800</text><text x="683" y="222.08" font-size="10.5" font-weight="normal" fill="#000" text-anchor="end" >1900</text><text x="683" y="208.60" font-size="10.5" font-weight="normal" fill="#000" text-anchor="end" >2000</text><text x="683" y="195.12" font-size="10.5" font-weight="normal" fill="#000" text-anchor="end" >2100</text><text x="683" y="181.64" font-size="10.5" font-weight="normal" fill="#000" text-anchor="end" >2200</text><text x="683" y="168.16" font-size="10.5" font-weight="normal" fill="#000" text-anchor="end" >2300</text><text x="683" y="154.68" font-size="10.5" font-weight="normal" fill="#000" text-anchor="end" >2400</text><text x="683" y="141.20" font-size="10.5" font-weight="normal" fill="#000" text-anchor="end" >2500</text><text x="35" y="384.03" font-size="10.5" font-weight="normal" fill="#000" text-anchor="end" >10B</text><text x="35" y="361.56" font-size="10.5" font-weight="normal" fill="#000" text-anchor="end" >20B</text><text x="35" y="339.09" font-size="10.5" font-weight="normal" fill="#000" text-anchor="end" >30B</text><text x="35" y="316.62" font-size="10.5" font-weight="normal" fill="#000" text-anchor="end" >40B</text><text x="681" y="433.13" font-size="10.5" font-weight="normal" fill="#000" text-anchor="end" >50</text><text x="681" y="445.47" font-size="10.5" font-weight="normal" fill="#000" text-anchor="end" >25</text><text x="681" y="457.80" font-size="10.5" font-weight="normal" fill="#000" text-anchor="end" >0</text><text x="681" y="470.13" font-size="10.5" font-weight="normal" fill="#000" text-anchor="end" >-25</text><text x="681" y="482.47" font-size="10.5" font-weight="normal" fill="#000" text-anchor="end" >-50</text><text x="681" y="494.80" font-size="10.5" font-weight="normal" fill="#000" text-anchor="end" >-75</text><text x="681" y="507.13" font-size="10.5" font-weight="normal" fill="#000" text-anchor="end" >-100</text><polygon points="38.30,350.30 48.70,350.30 43.50,354.50" fill="#f0f0e6"/><rect x="28.20" y="340.60" width="30.80" height="9.70" fill="#fbfbf5" fill-opacity="0.95" stroke="#d6d6bc" stroke-width="1"/><text x="43.80" y="348.90" font-size="10" font-weight="normal" fill="#000" text-anchor="middle" letter-spacing="-0.45" stroke="#000" stroke-width="0.1">877.86</text><polygon points="38.10,372.80 48.50,372.80 43.30,367.40" fill="#f0f0e6"/><rect x="27.60" y="372.80" width="30.20" height="9.10" fill="#fbfbf5" fill-opacity="0.95" stroke="#d6d6bc" stroke-width="1"/><text x="42.90" y="380.50" font-size="10" font-weight="normal" fill="#000" text-anchor="middle" letter-spacing="-0.45" stroke="#000" stroke-width="0.1">804.30</text><polygon points="46.80,390.30 57.20,390.30 52.00,384.30" fill="#f0f0e6"/><rect x="35.50" y="390.30" width="30.20" height="9.10" fill="#fbfbf5" fill-opacity="0.95" stroke="#d6d6bc" stroke-width="1"/><text x="50.80" y="398.00" font-size="10" font-weight="normal" fill="#000" text-anchor="middle" letter-spacing="-0.45" stroke="#000" stroke-width="0.1">666.79</text><polygon points="129.30,304.30 139.70,304.30 134.50,309.00" fill="#f0f0e6"/><rect x="115.40" y="294.60" width="36.40" height="9.70" fill="#fbfbf5" fill-opacity="0.95" stroke="#d6d6bc" stroke-width="1"/><text x="133.80" y="302.90" font-size="10" font-weight="normal" fill="#000" text-anchor="middle" letter-spacing="-0.45" stroke="#000" stroke-width="0.1">1219.80</text><polygon points="142.20,344.30 152.60,344.30 147.40,339.10" fill="#f0f0e6"/><rect x="128.60" y="344.30" width="35.40" height="9.70" fill="#fbfbf5" fill-opacity="0.95" stroke="#d6d6bc" stroke-width="1"/><text x="146.50" y="352.60" font-size="10" font-weight="normal" fill="#000" text-anchor="middle" letter-spacing="-0.45" stroke="#000" stroke-width="0.1">1010.91</text><polygon points="202.80,283.50 213.20,283.50 208.00,288.60" fill="#f0f0e6"/><rect x="189.80" y="274.70" width="35.50" height="8.80" fill="#fbfbf5" fill-opacity="0.95" stroke="#d6d6bc" stroke-width="1"/><text x="207.75" y="282.10" font-size="10" font-weight="normal" fill="#000" text-anchor="middle" letter-spacing="-0.45" stroke="#000" stroke-width="0.1">1370.58</text><polygon points="233.20,335.50 243.60,335.50 238.40,331.00" fill="#f0f0e6"/><rect x="219.60" y="335.50" width="35.40" height="9.10" fill="#fbfbf5" fill-opacity="0.95" stroke="#d6d6bc" stroke-width="1"/><text x="237.50" y="343.20" font-size="10" font-weight="normal" fill="#000" text-anchor="middle" letter-spacing="-0.45" stroke="#000" stroke-width="0.1">1074.77</text><polygon points="301.10,270.20 311.50,270.20 306.30,275.00" fill="#f0f0e6"/><rect x="287.50" y="260.70" width="35.80" height="9.50" fill="#fbfbf5" fill-opacity="0.95" stroke="#d6d6bc" stroke-width="1"/><text x="305.60" y="268.80" font-size="10" font-weight="normal" fill="#000" text-anchor="middle" letter-spacing="-0.45" stroke="#000" stroke-width="0.1">1474.51</text><polygon points="314.40,299.50 324.80,299.50 319.60,294.80" fill="#f0f0e6"/><rect x="300.40" y="299.50" width="35.60" height="9.80" fill="#fbfbf5" fill-opacity="0.95" stroke="#d6d6bc" stroke-width="1"/><text x="318.40" y="307.90" font-size="10" font-weight="normal" fill="#000" text-anchor="middle" letter-spacing="-0.45" stroke="#000" stroke-width="0.1">1343.35</text><polygon points="453.50,236.30 463.90,236.30 458.70,231.30" fill="#f0f0e6"/><rect x="440.10" y="236.30" width="34.80" height="8.60" fill="#fbfbf5" fill-opacity="0.95" stroke="#d6d6bc" stroke-width="1"/><text x="457.70" y="243.50" font-size="10" font-weight="normal" fill="#000" text-anchor="middle" letter-spacing="-0.45" stroke="#000" stroke-width="0.1">1820.66</text><polygon points="496.00,180.70 506.40,180.70 501.20,185.50" fill="#f0f0e6"/><rect x="482.80" y="171.50" width="35.60" height="9.20" fill="#fbfbf5" fill-opacity="0.95" stroke="#d6d6bc" stroke-width="1"/><text x="500.80" y="179.30" font-size="10" font-weight="normal" fill="#000" text-anchor="middle" letter-spacing="-0.45" stroke="#000" stroke-width="0.1">2134.72</text><polygon points="514.90,230.30 525.30,230.30 520.10,225.00" fill="#f0f0e6"/><rect x="503.00" y="230.30" width="33.60" height="8.30" fill="#fbfbf5" fill-opacity="0.95" stroke="#d6d6bc" stroke-width="1"/><text x="520.00" y="237.20" font-size="10" font-weight="normal" fill="#000" text-anchor="middle" letter-spacing="-0.45" stroke="#000" stroke-width="0.1">1867.01</text><polygon points="645.20,137.60 655.60,137.60 650.40,142.50" fill="#f0f0e6"/><rect x="632.00" y="128.70" width="35.00" height="8.90" fill="#fbfbf5" fill-opacity="0.95" stroke="#d6d6bc" stroke-width="1"/><text x="649.70" y="136.20" font-size="10" font-weight="normal" fill="#000" text-anchor="middle" letter-spacing="-0.45" stroke="#000" stroke-width="0.1">2446.20</text><text x="67" y="344" font-size="16" font-weight="bold" fill="#2b2b9e" text-anchor="middle" >1</text><text x="76" y="377" font-size="16" font-weight="bold" fill="#2b2b9e" text-anchor="middle" >2</text><text x="113" y="316" font-size="16" font-weight="bold" fill="#2b2b9e" text-anchor="middle" >3</text><text x="117" y="351" font-size="16" font-weight="bold" fill="#2b2b9e" text-anchor="middle" >4</text><text x="132" y="291" font-size="16" font-weight="bold" fill="#6e276e" text-anchor="middle" >i</text><text x="142.3" y="372" font-size="16" font-weight="bold" fill="#6e276e" text-anchor="middle" >ii</text><text x="189.7" y="290" font-size="16" font-weight="bold" fill="#6e276e" text-anchor="middle" >iii</text><text x="201.5" y="326" font-size="16" font-weight="bold" fill="#6e276e" text-anchor="middle" >iv</text><text x="208.5" y="272" font-size="16" font-weight="bold" fill="#000000" text-anchor="middle" >1</text><text x="222.5" y="291" font-size="16" font-weight="bold" fill="#2b2b9e" text-anchor="middle" >b</text><text x="216.5" y="318" font-size="16" font-weight="bold" fill="#2b2b9e" text-anchor="middle" >a</text><text x="234.6" y="304" font-size="16" font-weight="bold" fill="#8a66a8" text-anchor="middle" >b</text><text x="244.8" y="295" font-size="16" font-weight="bold" fill="#6e276e" text-anchor="middle" >i</text><text x="224.7" y="339" font-size="16" font-weight="bold" fill="#8a66a8" text-anchor="middle" >a</text><text x="248.2" y="337" font-size="16" font-weight="bold" fill="#6e276e" text-anchor="middle" >ii</text><text x="237" y="359" font-size="16" font-weight="bold" fill="#000000" text-anchor="middle" >2</text><text x="274" y="281" font-size="16" font-weight="bold" fill="#2b2b9e" text-anchor="middle" >1</text><text x="284.3" y="324" font-size="16" font-weight="bold" fill="#2b2b9e" text-anchor="middle" >2</text><text x="310" y="259" font-size="16" font-weight="bold" fill="#58960f" text-anchor="middle" >i</text><text x="318.6" y="324" font-size="16" font-weight="bold" fill="#58960f" text-anchor="middle" >ii</text><text x="353" y="244" font-size="16" font-weight="bold" fill="#58960f" text-anchor="middle" >iii</text><text x="372" y="241" font-size="16" font-weight="bold" fill="#2b2b9e" text-anchor="middle" >3</text><text x="363.5" y="284" font-size="16" font-weight="bold" fill="#58960f" text-anchor="middle" >iv</text><text x="386" y="276" font-size="16" font-weight="bold" fill="#2b2b9e" text-anchor="middle" >4</text><text x="400.7" y="223" font-size="16" font-weight="bold" fill="#6e276e" text-anchor="middle" >iii</text><text x="408.3" y="263" font-size="16" font-weight="bold" fill="#6e276e" text-anchor="middle" >iv</text><text x="416.3" y="214.5" font-size="16" font-weight="bold" fill="#2b2b9e" text-anchor="middle" >1</text><text x="422" y="248" font-size="16" font-weight="bold" fill="#2b2b9e" text-anchor="middle" >2</text><text x="438" y="204" font-size="16" font-weight="bold" fill="#2b2b9e" text-anchor="middle" >3</text><text x="444" y="237" font-size="16" font-weight="bold" fill="#2b2b9e" text-anchor="middle" >4</text><text x="452" y="197.5" font-size="16" font-weight="bold" fill="#000000" text-anchor="middle" >3</text><text x="458" y="261" font-size="16" font-weight="bold" fill="#000000" text-anchor="middle" >4</text><text x="535" y="188" font-size="16" font-weight="bold" fill="#000000" text-anchor="middle" >b</text><text x="518" y="254" font-size="16" font-weight="bold" fill="#000000" text-anchor="middle" >a</text><text x="568" y="187.5" font-size="16" font-weight="bold" fill="#6e276e" text-anchor="middle" >i</text><text x="578" y="189.5" font-size="16" font-weight="bold" fill="#2b2b9e" text-anchor="middle" >b</text><text x="570.7" y="212.4" font-size="16" font-weight="bold" fill="#2b2b9e" text-anchor="middle" >a</text><text x="581" y="224" font-size="16" font-weight="bold" fill="#6e276e" text-anchor="middle" >ii</text><text x="588" y="177" font-size="16" font-weight="bold" fill="#2b2b9e" text-anchor="middle" >1</text><text x="600" y="179" font-size="16" font-weight="bold" fill="#58960f" text-anchor="middle" >b</text><text x="595.6" y="203" font-size="16" font-weight="bold" fill="#58960f" text-anchor="middle" >a</text><text x="608" y="209.7" font-size="16" font-weight="bold" fill="#2b2b9e" text-anchor="middle" >2</text><text x="630" y="146" font-size="16" font-weight="bold" fill="#2b2b9e" text-anchor="middle" >3</text><text x="640" y="179" font-size="16" font-weight="bold" fill="#2b2b9e" text-anchor="middle" >4</text><text x="502.5" y="166.5" font-size="19.5" font-weight="bold" fill="#1a1ae0" text-anchor="middle" >I</text><text x="552.2" y="255" font-size="19.5" font-weight="bold" fill="#1a1ae0" text-anchor="middle" >II</text><text x="38.8" y="13.8" font-size="14" font-weight="bold" fill="#000" text-anchor="start" letter-spacing="-0.55">$SPX</text><text x="75.3" y="13" font-size="10.5" font-weight="normal" fill="#000" text-anchor="start" >S&amp;P 500 Large Cap Index</text><text x="203" y="13" font-size="10.5" font-weight="normal" fill="#000" text-anchor="start" letter-spacing="0.1">INDX</text><text x="434" y="12.2" font-size="12" font-weight="bold" fill="#7a7a7a" text-anchor="start" letter-spacing="-0.15">Objective Elliott Wave</text><text x="567" y="13" font-size="11" font-weight="bold" fill="#444444" text-anchor="start" >©</text><text x="578.5" y="13" font-size="10.5" font-weight="normal" fill="#555555" text-anchor="start" letter-spacing="-0.1">StockCharts.com</text><text x="39" y="25.7" font-size="10" font-weight="normal" fill="#000" text-anchor="start" >16-Jun-2017</text><text x="168.4" y="25.7" font-size="11" font-weight="bold" fill="#000" text-anchor="start" >Open</text><text x="199.9" y="25.7" font-size="10.5" font-weight="normal" fill="#000" text-anchor="start" >2425.88</text><text x="244.5" y="25.7" font-size="11" font-weight="bold" fill="#000" text-anchor="start" >High</text><text x="271.5" y="25.7" font-size="10.5" font-weight="normal" fill="#000" text-anchor="start" >2443.75</text><text x="317.1" y="25.7" font-size="11" font-weight="bold" fill="#000" text-anchor="start" >Low</text><text x="344" y="25.7" font-size="10.5" font-weight="normal" fill="#000" text-anchor="start" >2418.53</text><text x="389.6" y="25.7" font-size="11" font-weight="bold" fill="#000" text-anchor="start" >Close</text><text x="424.1" y="25.7" font-size="10.5" font-weight="normal" fill="#000" text-anchor="start" >2433.15</text><text x="469.1" y="25.7" font-size="11" font-weight="bold" fill="#000" text-anchor="start" >Volume</text><text x="515.1" y="25.7" font-size="10.5" font-weight="normal" fill="#000" text-anchor="start" >12.0B</text><text x="548.7" y="25.7" font-size="11" font-weight="bold" fill="#000" text-anchor="start" >Chg</text><text x="573.9" y="25.7" font-size="10.5" font-weight="normal" fill="#000" text-anchor="start" >+1.38 (+0.06%)</text><text x="53" y="39.5" font-size="10.5" font-weight="normal" fill="#000" text-anchor="start" letter-spacing="1.04">RSI(5) 72.96</text><text x="53" y="136.8" font-size="10.5" font-weight="normal" fill="#000" text-anchor="start" letter-spacing="1.0">$SPX (Weekly) 2433.15</text><text x="51.5" y="147.3" font-size="9.6" font-weight="normal" fill="#1a1a8c" text-anchor="start" >EMA(13) 2392.14</text><text x="51.5" y="157.8" font-size="9.6" font-weight="normal" fill="#d8143c" text-anchor="start" >EMA(34) 2321.65</text><text x="52.3" y="168.3" font-size="9.45" font-weight="normal" fill="#2a7ac8" text-anchor="start" >Volume 11,968,107,520</text><text x="53.6" y="428.5" font-size="10" letter-spacing="1.22"><tspan fill="#000">MACD(12,26,9) 48.530, </tspan><tspan fill="#3a20d0">48.039, </tspan><tspan fill="#888">0.491</tspan></text></svg>
</body></html>
